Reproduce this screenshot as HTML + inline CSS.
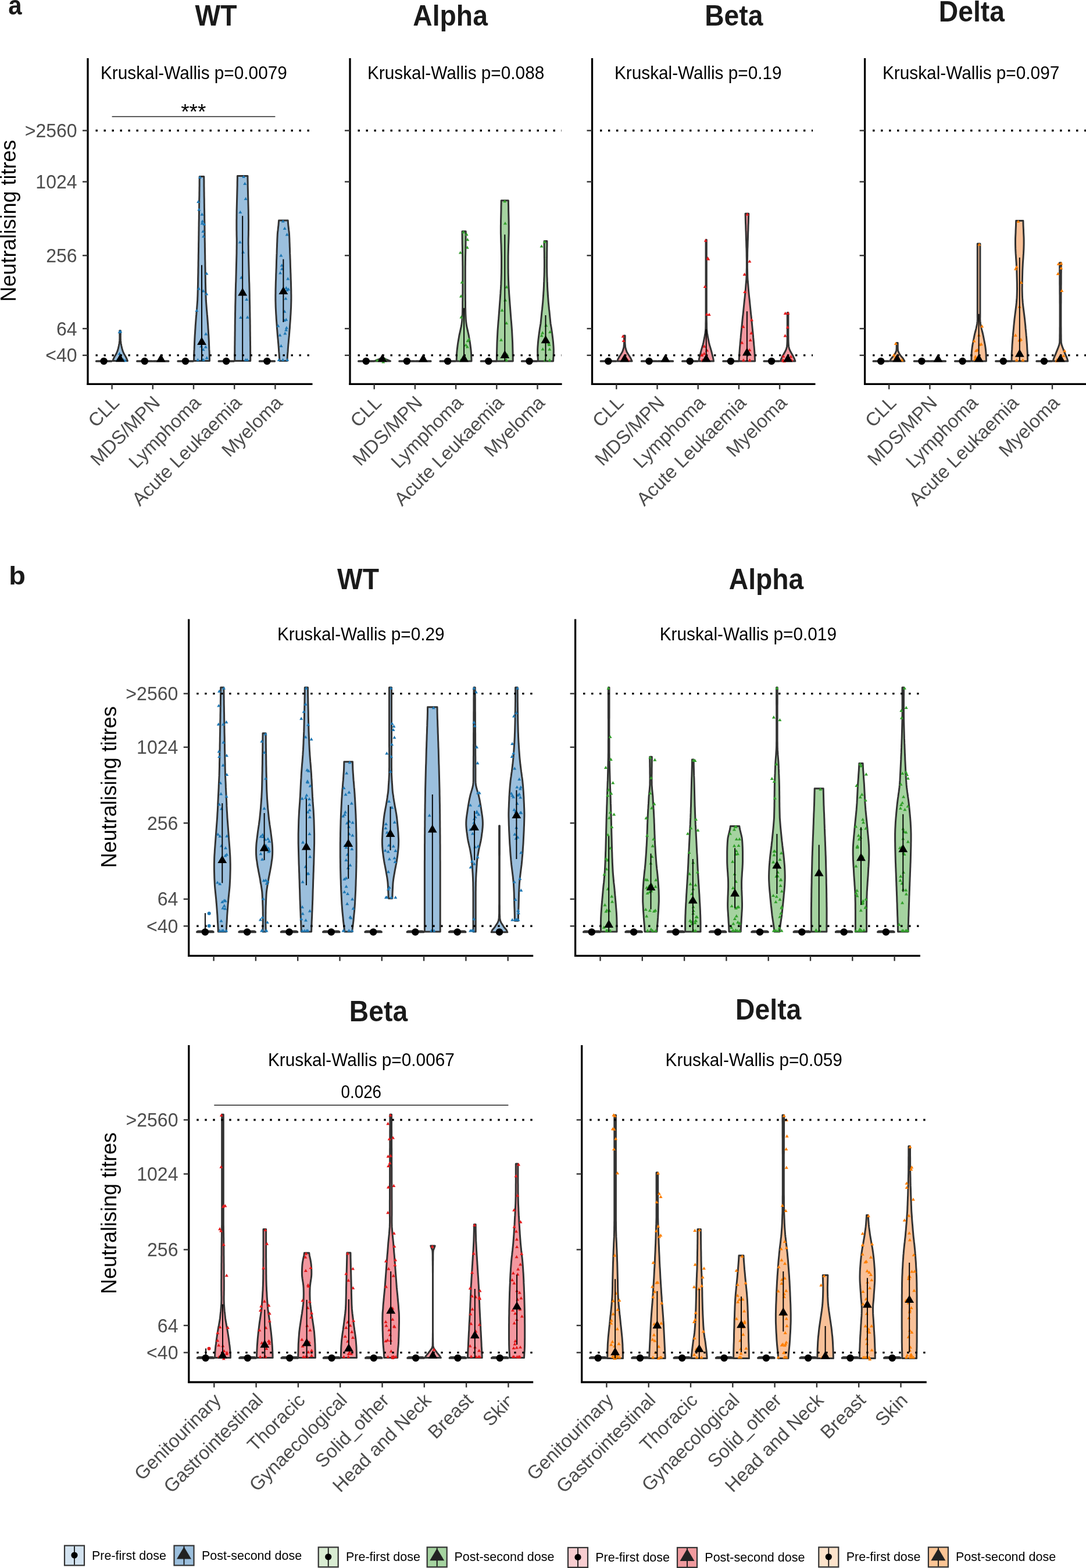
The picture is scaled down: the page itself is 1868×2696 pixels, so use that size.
<!DOCTYPE html>
<html><head><meta charset="utf-8"><title>Neutralising titres</title>
<style>html,body{margin:0;padding:0;background:#fff;}svg{display:block;}</style>
</head><body>
<svg width="1868" height="2696" viewBox="0 0 1868 2696" font-family="'Liberation Sans', Arial, Helvetica, sans-serif">
<rect width="1868" height="2696" fill="#fff"/>
<path d="M191.7 620.8 191.7 621.0 191.7 621.2 165.5 621.2 165.5 621.0 165.5 620.8Z" fill="#9bbfdd" stroke="#333333" stroke-width="3" stroke-linejoin="round"/>
<path d="M207.4 568.6 207.4 572.9 207.3 577.2 207.3 581.6 207.5 585.9 208.0 590.2 208.8 594.5 209.8 598.9 211.0 603.2 212.8 607.5 215.4 611.9 217.7 616.2 219.4 620.5 193.8 620.5 195.5 616.2 197.8 611.9 200.4 607.5 202.2 603.2 203.4 598.9 204.4 594.5 205.2 590.2 205.7 585.9 205.9 581.6 205.9 577.2 205.8 572.9 205.8 568.6Z" fill="#9bbfdd" stroke="#333333" stroke-width="3" stroke-linejoin="round"/>
<path d="M207.2 566.9l-3 5.2h6zM212.4 615.8l-3 5.2h6zM202.0 615.8l-3 5.2h6zM205.6 567.7l-3 5.2h6zM205.6 605.0l-3 5.2h6zM215.4 617.0l-3 5.2h6z" fill="#1F78B4"/>
<polygon points="206.6,608.5 198.7,622.2 214.5,622.2" fill="#000"/>
<circle cx="178.6" cy="621.0" r="6.2" fill="#000"/>
<path d="M261.9 620.8 261.9 621.0 261.9 621.2 235.7 621.2 235.7 621.0 235.7 620.8Z" fill="#9bbfdd" stroke="#333333" stroke-width="3" stroke-linejoin="round"/>
<path d="M289.9 620.8 289.9 621.0 289.9 621.2 263.7 621.2 263.7 621.0 263.7 620.8Z" fill="#9bbfdd" stroke="#333333" stroke-width="3" stroke-linejoin="round"/>
<path d="" fill="#1F78B4"/>
<polygon points="276.8,608.5 268.9,622.2 284.7,622.2" fill="#000"/>
<circle cx="248.8" cy="621.0" r="6.2" fill="#000"/>
<path d="M332.1 620.8 332.1 621.0 332.1 621.2 305.9 621.2 305.9 621.0 305.9 620.8Z" fill="#9bbfdd" stroke="#333333" stroke-width="3" stroke-linejoin="round"/>
<path d="M350.8 303.5 350.8 307.5 350.9 311.5 350.9 315.5 350.9 319.6 351.0 323.6 351.0 327.6 351.1 331.6 351.1 335.6 351.2 339.6 351.3 343.6 351.3 347.6 351.4 351.7 351.4 355.7 351.5 359.7 351.6 363.7 351.6 367.7 351.7 371.7 351.7 375.7 351.8 379.7 351.9 383.8 351.9 387.8 352.0 391.8 352.0 395.8 352.1 399.8 352.1 403.8 352.2 407.8 352.2 411.8 352.3 415.9 352.4 419.9 352.4 423.9 352.5 427.9 352.5 431.9 352.6 435.9 352.7 439.9 352.7 443.9 352.8 448.0 352.9 452.0 352.9 456.0 353.0 460.0 353.1 464.0 353.1 468.0 353.2 472.0 353.3 476.0 353.4 480.1 353.4 484.1 353.5 488.1 353.6 492.1 353.7 496.1 353.8 500.1 353.9 504.1 354.0 508.1 354.2 512.2 354.3 516.2 354.6 520.2 354.9 524.2 355.2 528.2 355.5 532.2 355.9 536.2 356.2 540.2 356.6 544.3 356.9 548.3 357.2 552.3 357.5 556.3 357.8 560.3 358.0 564.3 358.3 568.3 358.5 572.3 358.8 576.4 359.0 580.4 359.2 584.4 359.4 588.4 359.5 592.4 359.7 596.4 359.8 600.4 360.1 604.4 360.2 608.5 360.3 612.5 360.4 616.5 360.5 620.5 333.5 620.5 333.6 616.5 333.7 612.5 333.8 608.5 333.9 604.4 334.2 600.4 334.3 596.4 334.5 592.4 334.6 588.4 334.8 584.4 335.0 580.4 335.2 576.4 335.5 572.3 335.7 568.3 336.0 564.3 336.2 560.3 336.5 556.3 336.8 552.3 337.1 548.3 337.4 544.3 337.8 540.2 338.1 536.2 338.5 532.2 338.8 528.2 339.1 524.2 339.4 520.2 339.7 516.2 339.8 512.2 340.0 508.1 340.1 504.1 340.2 500.1 340.3 496.1 340.4 492.1 340.5 488.1 340.6 484.1 340.6 480.1 340.7 476.0 340.8 472.0 340.9 468.0 340.9 464.0 341.0 460.0 341.1 456.0 341.1 452.0 341.2 448.0 341.3 443.9 341.3 439.9 341.4 435.9 341.5 431.9 341.5 427.9 341.6 423.9 341.6 419.9 341.7 415.9 341.8 411.8 341.8 407.8 341.9 403.8 341.9 399.8 342.0 395.8 342.0 391.8 342.1 387.8 342.1 383.8 342.2 379.7 342.3 375.7 342.3 371.7 342.4 367.7 342.4 363.7 342.5 359.7 342.6 355.7 342.6 351.7 342.7 347.6 342.7 343.6 342.8 339.6 342.9 335.6 342.9 331.6 343.0 327.6 343.0 323.6 343.1 319.6 343.1 315.5 343.1 311.5 343.2 307.5 343.2 303.5Z" fill="#9bbfdd" stroke="#333333" stroke-width="3" stroke-linejoin="round"/>
<path d="M344.0 301.8l-3 5.2h6zM340.3 615.8l-3 5.2h6zM347.9 615.8l-3 5.2h6zM350.1 615.8l-3 5.2h6zM351.2 382.4l-3 5.2h6zM355.7 612.3l-3 5.2h6zM349.7 497.2l-3 5.2h6zM347.7 381.1l-3 5.2h6zM349.3 394.9l-3 5.2h6zM347.5 365.6l-3 5.2h6zM346.0 592.3l-3 5.2h6zM355.3 502.4l-3 5.2h6zM341.1 343.8l-3 5.2h6zM350.1 403.2l-3 5.2h6zM348.2 377.4l-3 5.2h6zM338.4 530.9l-3 5.2h6zM341.9 493.3l-3 5.2h6zM349.5 598.1l-3 5.2h6zM354.2 571.2l-3 5.2h6zM353.8 593.6l-3 5.2h6zM342.3 357.3l-3 5.2h6zM355.4 467.4l-3 5.2h6z" fill="#1F78B4"/>
<line x1="347.0" y1="455.8" x2="347.0" y2="620.5" stroke="#000" stroke-width="1.9"/>
<polygon points="347.0,579.3 339.1,593.0 354.9,593.0" fill="#000"/>
<circle cx="319.0" cy="621.0" r="6.2" fill="#000"/>
<path d="M402.3 620.8 402.3 621.0 402.3 621.2 376.1 621.2 376.1 621.0 376.1 620.8Z" fill="#9bbfdd" stroke="#333333" stroke-width="3" stroke-linejoin="round"/>
<path d="M426.0 302.4 426.0 306.4 426.1 310.5 426.2 314.5 426.2 318.5 426.3 322.5 426.4 326.6 426.5 330.6 426.6 334.6 426.7 338.6 426.8 342.7 426.9 346.7 427.0 350.7 427.1 354.7 427.2 358.8 427.3 362.8 427.3 366.8 427.4 370.9 427.4 374.9 427.5 378.9 427.5 382.9 427.5 387.0 427.5 391.0 427.5 395.0 427.4 399.0 427.4 403.1 427.3 407.1 427.2 411.1 427.2 415.1 427.2 419.2 427.3 423.2 427.3 427.2 427.4 431.3 427.4 435.3 427.5 439.3 427.6 443.3 427.7 447.4 427.8 451.4 427.9 455.4 428.0 459.4 428.1 463.5 428.2 467.5 428.3 471.5 428.4 475.5 428.5 479.6 428.6 483.6 428.8 487.6 428.9 491.6 429.0 495.7 429.1 499.7 429.2 503.7 429.3 507.8 429.3 511.8 429.4 515.8 429.5 519.8 429.6 523.9 429.7 527.9 429.7 531.9 429.8 535.9 429.9 540.0 429.9 544.0 430.0 548.0 430.1 552.0 430.1 556.1 430.2 560.1 430.2 564.1 430.2 568.2 430.3 572.2 430.3 576.2 430.4 580.2 430.4 584.3 430.5 588.3 430.5 592.3 430.6 596.3 430.6 600.4 430.6 604.4 430.7 608.4 430.7 612.4 430.7 616.5 430.7 620.5 403.7 620.5 403.7 616.5 403.7 612.4 403.7 608.4 403.8 604.4 403.8 600.4 403.8 596.3 403.9 592.3 403.9 588.3 404.0 584.3 404.0 580.2 404.1 576.2 404.1 572.2 404.2 568.2 404.2 564.1 404.2 560.1 404.3 556.1 404.3 552.0 404.4 548.0 404.5 544.0 404.5 540.0 404.6 535.9 404.7 531.9 404.7 527.9 404.8 523.9 404.9 519.8 405.0 515.8 405.1 511.8 405.1 507.8 405.2 503.7 405.3 499.7 405.4 495.7 405.5 491.6 405.6 487.6 405.8 483.6 405.9 479.6 406.0 475.5 406.1 471.5 406.2 467.5 406.3 463.5 406.4 459.4 406.5 455.4 406.6 451.4 406.7 447.4 406.8 443.3 406.9 439.3 407.0 435.3 407.0 431.3 407.1 427.2 407.1 423.2 407.2 419.2 407.2 415.1 407.2 411.1 407.1 407.1 407.0 403.1 407.0 399.0 406.9 395.0 406.9 391.0 406.9 387.0 406.9 382.9 406.9 378.9 407.0 374.9 407.0 370.9 407.1 366.8 407.1 362.8 407.2 358.8 407.3 354.7 407.4 350.7 407.5 346.7 407.6 342.7 407.7 338.6 407.8 334.6 407.9 330.6 408.0 326.6 408.1 322.5 408.2 318.5 408.2 314.5 408.3 310.5 408.4 306.4 408.4 302.4Z" fill="#9bbfdd" stroke="#333333" stroke-width="3" stroke-linejoin="round"/>
<path d="M419.1 300.7l-3 5.2h6zM422.5 615.8l-3 5.2h6zM425.2 615.8l-3 5.2h6zM421.2 312.7l-3 5.2h6zM424.2 511.8l-3 5.2h6zM414.0 542.9l-3 5.2h6zM415.1 474.2l-3 5.2h6zM413.3 361.8l-3 5.2h6zM425.7 542.6l-3 5.2h6zM422.6 338.8l-3 5.2h6zM412.8 413.4l-3 5.2h6zM418.1 430.6l-3 5.2h6z" fill="#1F78B4"/>
<line x1="417.2" y1="371.2" x2="417.2" y2="620.5" stroke="#000" stroke-width="1.9"/>
<polygon points="417.2,494.7 409.3,508.4 425.1,508.4" fill="#000"/>
<circle cx="389.2" cy="621.0" r="6.2" fill="#000"/>
<path d="M472.5 620.8 472.5 621.0 472.5 621.2 446.3 621.2 446.3 621.0 446.3 620.8Z" fill="#9bbfdd" stroke="#333333" stroke-width="3" stroke-linejoin="round"/>
<path d="M495.2 379.1 495.5 383.1 495.8 387.1 496.3 391.2 496.7 395.2 497.2 399.2 497.5 403.2 497.7 407.3 497.9 411.3 498.0 415.3 498.2 419.3 498.3 423.4 498.5 427.4 498.6 431.4 498.7 435.4 498.9 439.5 499.0 443.5 499.2 447.5 499.3 451.5 499.4 455.5 499.5 459.6 499.7 463.6 499.8 467.6 500.0 471.6 500.1 475.7 500.2 479.7 500.4 483.7 500.5 487.7 500.6 491.8 500.7 495.8 500.8 499.8 500.8 503.8 500.9 507.8 500.9 511.9 500.9 515.9 500.8 519.9 500.7 523.9 500.6 528.0 500.4 532.0 500.2 536.0 500.0 540.0 499.7 544.1 499.5 548.1 499.2 552.1 498.9 556.1 498.6 560.1 498.4 564.2 498.0 568.2 497.7 572.2 497.4 576.2 497.0 580.3 496.6 584.3 496.3 588.3 495.9 592.3 495.6 596.4 495.3 600.4 495.1 604.4 494.7 608.4 494.4 612.5 494.2 616.5 494.1 620.5 480.7 620.5 480.6 616.5 480.4 612.5 480.1 608.4 479.7 604.4 479.5 600.4 479.2 596.4 478.9 592.3 478.5 588.3 478.2 584.3 477.8 580.3 477.4 576.2 477.1 572.2 476.8 568.2 476.4 564.2 476.2 560.1 475.9 556.1 475.6 552.1 475.3 548.1 475.1 544.1 474.8 540.0 474.6 536.0 474.4 532.0 474.2 528.0 474.1 523.9 474.0 519.9 473.9 515.9 473.9 511.9 473.9 507.8 474.0 503.8 474.0 499.8 474.1 495.8 474.2 491.8 474.3 487.7 474.4 483.7 474.6 479.7 474.7 475.7 474.8 471.6 475.0 467.6 475.1 463.6 475.3 459.6 475.4 455.5 475.5 451.5 475.6 447.5 475.8 443.5 475.9 439.5 476.1 435.4 476.2 431.4 476.3 427.4 476.5 423.4 476.6 419.3 476.8 415.3 476.9 411.3 477.1 407.3 477.3 403.2 477.6 399.2 478.1 395.2 478.5 391.2 479.0 387.1 479.3 383.1 479.6 379.1Z" fill="#9bbfdd" stroke="#333333" stroke-width="3" stroke-linejoin="round"/>
<path d="M486.8 377.4l-3 5.2h6zM494.2 615.8l-3 5.2h6zM479.7 615.8l-3 5.2h6zM486.6 615.8l-3 5.2h6zM492.2 546.6l-3 5.2h6zM495.2 476.3l-3 5.2h6zM493.7 400.3l-3 5.2h6zM481.5 573.3l-3 5.2h6zM491.5 510.4l-3 5.2h6zM496.1 494.2l-3 5.2h6zM492.3 492.1l-3 5.2h6zM492.9 560.5l-3 5.2h6zM483.5 591.8l-3 5.2h6zM478.4 557.3l-3 5.2h6zM492.1 564.3l-3 5.2h6zM489.4 532.5l-3 5.2h6zM485.0 459.3l-3 5.2h6zM490.3 570.3l-3 5.2h6zM489.0 547.7l-3 5.2h6zM493.5 495.9l-3 5.2h6zM482.1 466.3l-3 5.2h6zM483.4 436.2l-3 5.2h6zM484.7 453.3l-3 5.2h6zM489.7 389.8l-3 5.2h6z" fill="#1F78B4"/>
<line x1="487.4" y1="445.6" x2="487.4" y2="553.9" stroke="#000" stroke-width="1.9"/>
<polygon points="487.4,492.4 479.5,506.1 495.3,506.1" fill="#000"/>
<circle cx="459.4" cy="621.0" r="6.2" fill="#000"/>
<line x1="164.5" y1="224.5" x2="534.0" y2="224.5" stroke="#000" stroke-width="3.4" stroke-dasharray="3.4,10.6" stroke-dashoffset="0.0"/>
<line x1="164.5" y1="610.9" x2="534.0" y2="610.9" stroke="#000" stroke-width="3.4" stroke-dasharray="3.4,10.6" stroke-dashoffset="0.0"/>
<line x1="151.0" y1="100.0" x2="151.0" y2="661.9" stroke="#000" stroke-width="3.3"/>
<line x1="149.4" y1="660.3" x2="537.5" y2="660.3" stroke="#000" stroke-width="3.3"/>
<line x1="142.0" y1="224.5" x2="151.0" y2="224.5" stroke="#333" stroke-width="2.4"/>
<line x1="142.0" y1="312.5" x2="151.0" y2="312.5" stroke="#333" stroke-width="2.4"/>
<line x1="142.0" y1="439.3" x2="151.0" y2="439.3" stroke="#333" stroke-width="2.4"/>
<line x1="142.0" y1="565.0" x2="151.0" y2="565.0" stroke="#333" stroke-width="2.4"/>
<line x1="142.0" y1="610.9" x2="151.0" y2="610.9" stroke="#333" stroke-width="2.4"/>
<line x1="192.6" y1="660.3" x2="192.6" y2="669.3" stroke="#333" stroke-width="2.4"/>
<line x1="262.8" y1="660.3" x2="262.8" y2="669.3" stroke="#333" stroke-width="2.4"/>
<line x1="333.0" y1="660.3" x2="333.0" y2="669.3" stroke="#333" stroke-width="2.4"/>
<line x1="403.2" y1="660.3" x2="403.2" y2="669.3" stroke="#333" stroke-width="2.4"/>
<line x1="473.4" y1="660.3" x2="473.4" y2="669.3" stroke="#333" stroke-width="2.4"/>
<text transform="translate(132.7,236.0) scale(0.990,1.000)" font-size="32.4" fill="#4d4d4d" text-anchor="end" font-weight="normal" >&gt;2560</text>
<text transform="translate(132.7,324.0) scale(0.990,1.000)" font-size="32.4" fill="#4d4d4d" text-anchor="end" font-weight="normal" >1024</text>
<text transform="translate(132.7,450.8) scale(0.990,1.000)" font-size="32.4" fill="#4d4d4d" text-anchor="end" font-weight="normal" >256</text>
<text transform="translate(132.7,576.5) scale(0.990,1.000)" font-size="32.4" fill="#4d4d4d" text-anchor="end" font-weight="normal" >64</text>
<text transform="translate(132.7,622.4) scale(0.990,1.000)" font-size="32.4" fill="#4d4d4d" text-anchor="end" font-weight="normal" >&lt;40</text>
<text transform="translate(206.9,694.5) rotate(-45)" font-size="32.4" fill="#4d4d4d" text-anchor="end">CLL</text>
<text transform="translate(277.1,694.5) rotate(-45)" font-size="32.4" fill="#4d4d4d" text-anchor="end">MDS/MPN</text>
<text transform="translate(347.3,694.5) rotate(-45)" font-size="32.4" fill="#4d4d4d" text-anchor="end">Lymphoma</text>
<text transform="translate(417.5,694.5) rotate(-45)" font-size="32.4" fill="#4d4d4d" text-anchor="end">Acute Leukaemia</text>
<text transform="translate(487.7,694.5) rotate(-45)" font-size="32.4" fill="#4d4d4d" text-anchor="end">Myeloma</text>
<text transform="translate(173.0,135.8) scale(1.000,1.060)" font-size="29.8" fill="#000" text-anchor="start" font-weight="normal" >Kruskal-Wallis p=0.0079</text>
<text transform="translate(371.5,44.0) scale(0.985,1.055)" font-size="47.0" fill="#1a1a1a" text-anchor="middle" font-weight="bold" >WT</text>
<path d="M642.8 620.8 642.8 621.0 642.8 621.2 616.6 621.2 616.6 621.0 616.6 620.8Z" fill="#a5d3a0" stroke="#333333" stroke-width="3" stroke-linejoin="round"/>
<path d="M660.5 616.0 665.5 618.5 671.5 621.0 643.9 621.0 649.9 618.5 654.9 616.0Z" fill="#a5d3a0" stroke="#333333" stroke-width="3" stroke-linejoin="round"/>
<path d="M660.5 614.3l-3 5.2h6zM656.6 616.3l-3 5.2h6zM648.8 616.3l-3 5.2h6zM659.2 619.3l-3 5.2h6zM662.5 615.1l-3 5.2h6z" fill="#33A02C"/>
<polygon points="657.7,608.5 649.8,622.2 665.6,622.2" fill="#000"/>
<circle cx="629.7" cy="621.0" r="6.2" fill="#000"/>
<path d="M713.0 620.8 713.0 621.0 713.0 621.2 686.8 621.2 686.8 621.0 686.8 620.8Z" fill="#a5d3a0" stroke="#333333" stroke-width="3" stroke-linejoin="round"/>
<path d="M741.0 620.8 741.0 621.0 741.0 621.2 714.8 621.2 714.8 621.0 714.8 620.8Z" fill="#a5d3a0" stroke="#333333" stroke-width="3" stroke-linejoin="round"/>
<path d="" fill="#33A02C"/>
<polygon points="727.9,608.5 720.0,622.2 735.8,622.2" fill="#000"/>
<circle cx="699.9" cy="621.0" r="6.2" fill="#000"/>
<path d="M783.2 620.8 783.2 621.0 783.2 621.2 757.0 621.2 757.0 621.0 757.0 620.8Z" fill="#a5d3a0" stroke="#333333" stroke-width="3" stroke-linejoin="round"/>
<path d="M801.2 397.7 801.2 401.8 801.1 405.8 801.1 409.9 801.0 413.9 801.0 418.0 800.9 422.1 800.8 426.1 800.8 430.2 800.7 434.2 800.6 438.3 800.5 442.4 800.5 446.4 800.4 450.5 800.4 454.5 800.3 458.6 800.3 462.7 800.3 466.7 800.3 470.8 800.3 474.8 800.3 478.9 800.3 483.0 800.3 487.0 800.3 491.1 800.3 495.1 800.3 499.2 800.3 503.3 800.4 507.3 800.4 511.4 800.4 515.4 800.5 519.5 800.5 523.6 800.5 527.6 800.6 531.7 800.7 535.7 800.8 539.8 801.0 543.9 801.2 547.9 801.5 552.0 802.0 556.0 802.6 560.1 803.5 564.2 804.4 568.2 805.3 572.3 806.2 576.3 806.9 580.4 807.6 584.5 808.3 588.5 808.9 592.6 809.4 596.6 809.9 600.7 810.3 604.8 810.6 608.8 810.7 612.9 810.9 616.9 811.0 621.0 785.2 621.0 785.3 616.9 785.5 612.9 785.6 608.8 785.9 604.8 786.3 600.7 786.8 596.6 787.3 592.6 787.9 588.5 788.6 584.5 789.3 580.4 790.0 576.3 790.9 572.3 791.8 568.2 792.7 564.2 793.6 560.1 794.2 556.0 794.7 552.0 795.0 547.9 795.2 543.9 795.4 539.8 795.5 535.7 795.6 531.7 795.7 527.6 795.7 523.6 795.7 519.5 795.8 515.4 795.8 511.4 795.8 507.3 795.9 503.3 795.9 499.2 795.9 495.1 795.9 491.1 795.9 487.0 795.9 483.0 795.9 478.9 795.9 474.8 795.9 470.8 795.9 466.7 795.9 462.7 795.9 458.6 795.8 454.5 795.8 450.5 795.7 446.4 795.7 442.4 795.6 438.3 795.5 434.2 795.4 430.2 795.4 426.1 795.3 422.1 795.2 418.0 795.2 413.9 795.1 409.9 795.1 405.8 795.0 401.8 795.0 397.7Z" fill="#a5d3a0" stroke="#333333" stroke-width="3" stroke-linejoin="round"/>
<path d="M797.1 396.0l-3 5.2h6zM792.5 616.3l-3 5.2h6zM799.5 616.3l-3 5.2h6zM804.5 583.1l-3 5.2h6zM793.0 506.3l-3 5.2h6zM791.9 431.4l-3 5.2h6zM802.6 400.0l-3 5.2h6zM803.7 422.5l-3 5.2h6zM801.3 590.2l-3 5.2h6zM804.2 409.1l-3 5.2h6zM793.4 542.3l-3 5.2h6zM803.8 593.4l-3 5.2h6zM794.6 482.3l-3 5.2h6zM806.8 580.6l-3 5.2h6z" fill="#33A02C"/>
<line x1="798.1" y1="529.6" x2="798.1" y2="621.0" stroke="#000" stroke-width="1.9"/>
<polygon points="798.1,608.5 790.2,622.2 806.0,622.2" fill="#000"/>
<circle cx="770.1" cy="621.0" r="6.2" fill="#000"/>
<path d="M853.4 620.8 853.4 621.0 853.4 621.2 827.2 621.2 827.2 621.0 827.2 620.8Z" fill="#a5d3a0" stroke="#333333" stroke-width="3" stroke-linejoin="round"/>
<path d="M874.4 344.7 874.4 348.7 874.5 352.7 874.6 356.7 874.6 360.7 874.7 364.7 874.8 368.7 874.9 372.7 875.0 376.7 875.1 380.7 875.1 384.7 875.2 388.7 875.2 392.8 875.2 396.8 875.2 400.8 875.1 404.8 875.0 408.8 874.9 412.8 874.8 416.8 874.6 420.8 874.5 424.8 874.4 428.8 874.3 432.8 874.2 436.8 874.1 440.8 874.1 444.8 874.1 448.8 874.1 452.8 874.1 456.8 874.1 460.8 874.2 464.8 874.2 468.8 874.3 472.8 874.4 476.8 874.5 480.8 874.7 484.9 874.8 488.9 875.0 492.9 875.2 496.9 875.5 500.9 875.7 504.9 876.0 508.9 876.3 512.9 876.6 516.9 876.9 520.9 877.2 524.9 877.5 528.9 877.8 532.9 878.1 536.9 878.4 540.9 878.7 544.9 879.0 548.9 879.4 552.9 879.7 556.9 880.0 560.9 880.3 564.9 880.6 568.9 880.8 572.9 881.0 577.0 881.2 581.0 881.4 585.0 881.6 589.0 881.7 593.0 881.8 597.0 881.9 601.0 882.0 605.0 882.1 609.0 882.2 613.0 882.2 617.0 882.3 621.0 854.3 621.0 854.4 617.0 854.4 613.0 854.5 609.0 854.6 605.0 854.7 601.0 854.8 597.0 854.9 593.0 855.0 589.0 855.2 585.0 855.4 581.0 855.6 577.0 855.8 572.9 856.0 568.9 856.3 564.9 856.6 560.9 856.9 556.9 857.2 552.9 857.6 548.9 857.9 544.9 858.2 540.9 858.5 536.9 858.8 532.9 859.1 528.9 859.4 524.9 859.7 520.9 860.0 516.9 860.3 512.9 860.6 508.9 860.9 504.9 861.1 500.9 861.4 496.9 861.6 492.9 861.8 488.9 861.9 484.9 862.1 480.8 862.2 476.8 862.3 472.8 862.4 468.8 862.4 464.8 862.5 460.8 862.5 456.8 862.5 452.8 862.5 448.8 862.5 444.8 862.5 440.8 862.4 436.8 862.3 432.8 862.2 428.8 862.1 424.8 862.0 420.8 861.8 416.8 861.7 412.8 861.6 408.8 861.5 404.8 861.4 400.8 861.4 396.8 861.4 392.8 861.4 388.7 861.5 384.7 861.5 380.7 861.6 376.7 861.7 372.7 861.8 368.7 861.9 364.7 862.0 360.7 862.0 356.7 862.1 352.7 862.2 348.7 862.2 344.7Z" fill="#a5d3a0" stroke="#333333" stroke-width="3" stroke-linejoin="round"/>
<path d="M868.2 343.0l-3 5.2h6zM870.4 616.3l-3 5.2h6zM871.1 616.3l-3 5.2h6zM868.9 381.1l-3 5.2h6zM862.0 581.6l-3 5.2h6zM871.1 552.5l-3 5.2h6zM872.5 607.2l-3 5.2h6zM869.0 513.0l-3 5.2h6zM863.6 530.6l-3 5.2h6zM871.4 490.5l-3 5.2h6z" fill="#33A02C"/>
<line x1="868.3" y1="403.3" x2="868.3" y2="621.0" stroke="#000" stroke-width="1.9"/>
<polygon points="868.3,602.3 860.4,616.0 876.2,616.0" fill="#000"/>
<circle cx="840.3" cy="621.0" r="6.2" fill="#000"/>
<path d="M923.6 620.8 923.6 621.0 923.6 621.2 897.4 621.2 897.4 621.0 897.4 620.8Z" fill="#a5d3a0" stroke="#333333" stroke-width="3" stroke-linejoin="round"/>
<path d="M940.9 414.6 940.9 418.6 940.9 422.7 940.8 426.7 940.8 430.8 940.7 434.8 940.7 438.9 940.7 442.9 940.6 447.0 940.6 451.0 940.6 455.1 940.6 459.1 940.7 463.2 940.7 467.2 940.8 471.3 940.9 475.3 941.1 479.4 941.2 483.4 941.4 487.4 941.5 491.5 941.7 495.5 941.9 499.6 942.2 503.6 942.4 507.7 942.7 511.7 943.0 515.8 943.3 519.8 943.7 523.9 944.1 527.9 944.5 532.0 945.0 536.0 945.4 540.1 945.8 544.1 946.2 548.2 946.6 552.2 947.0 556.2 947.7 560.3 948.4 564.3 949.0 568.4 949.6 572.4 950.1 576.5 950.6 580.5 951.1 584.6 951.5 588.6 951.8 592.7 952.1 596.7 952.3 600.8 952.3 604.8 952.2 608.9 952.0 612.9 951.7 617.0 951.6 621.0 925.4 621.0 925.3 617.0 925.0 612.9 924.8 608.9 924.7 604.8 924.7 600.8 924.9 596.7 925.2 592.7 925.5 588.6 925.9 584.6 926.4 580.5 926.9 576.5 927.4 572.4 928.0 568.4 928.6 564.3 929.3 560.3 930.0 556.2 930.4 552.2 930.8 548.2 931.2 544.1 931.6 540.1 932.0 536.0 932.5 532.0 932.9 527.9 933.3 523.9 933.7 519.8 934.0 515.8 934.3 511.7 934.6 507.7 934.8 503.6 935.1 499.6 935.3 495.5 935.5 491.5 935.6 487.4 935.8 483.4 935.9 479.4 936.1 475.3 936.2 471.3 936.3 467.2 936.3 463.2 936.4 459.1 936.4 455.1 936.4 451.0 936.4 447.0 936.3 442.9 936.3 438.9 936.3 434.8 936.2 430.8 936.2 426.7 936.1 422.7 936.1 418.6 936.1 414.6Z" fill="#a5d3a0" stroke="#333333" stroke-width="3" stroke-linejoin="round"/>
<path d="M936.9 412.9l-3 5.2h6zM937.7 616.3l-3 5.2h6zM945.4 616.3l-3 5.2h6zM945.3 597.5l-3 5.2h6zM939.3 556.6l-3 5.2h6zM938.7 578.6l-3 5.2h6zM933.6 597.3l-3 5.2h6zM931.7 574.0l-3 5.2h6zM946.1 567.7l-3 5.2h6zM933.2 569.2l-3 5.2h6zM931.5 420.4l-3 5.2h6zM944.6 589.8l-3 5.2h6zM944.0 587.6l-3 5.2h6z" fill="#33A02C"/>
<line x1="938.5" y1="542.0" x2="938.5" y2="621.0" stroke="#000" stroke-width="1.9"/>
<polygon points="938.5,576.5 930.6,590.2 946.4,590.2" fill="#000"/>
<circle cx="910.5" cy="621.0" r="6.2" fill="#000"/>
<line x1="615.5" y1="224.5" x2="966.0" y2="224.5" stroke="#000" stroke-width="3.4" stroke-dasharray="3.4,10.6" stroke-dashoffset="0.0"/>
<line x1="615.5" y1="610.9" x2="966.0" y2="610.9" stroke="#000" stroke-width="3.4" stroke-dasharray="3.4,10.6" stroke-dashoffset="0.0"/>
<line x1="602.0" y1="100.0" x2="602.0" y2="661.9" stroke="#000" stroke-width="3.3"/>
<line x1="600.4" y1="660.3" x2="966.6" y2="660.3" stroke="#000" stroke-width="3.3"/>
<line x1="593.0" y1="224.5" x2="602.0" y2="224.5" stroke="#333" stroke-width="2.4"/>
<line x1="593.0" y1="312.5" x2="602.0" y2="312.5" stroke="#333" stroke-width="2.4"/>
<line x1="593.0" y1="439.3" x2="602.0" y2="439.3" stroke="#333" stroke-width="2.4"/>
<line x1="593.0" y1="565.0" x2="602.0" y2="565.0" stroke="#333" stroke-width="2.4"/>
<line x1="593.0" y1="610.9" x2="602.0" y2="610.9" stroke="#333" stroke-width="2.4"/>
<line x1="643.7" y1="660.3" x2="643.7" y2="669.3" stroke="#333" stroke-width="2.4"/>
<line x1="713.9" y1="660.3" x2="713.9" y2="669.3" stroke="#333" stroke-width="2.4"/>
<line x1="784.1" y1="660.3" x2="784.1" y2="669.3" stroke="#333" stroke-width="2.4"/>
<line x1="854.3" y1="660.3" x2="854.3" y2="669.3" stroke="#333" stroke-width="2.4"/>
<line x1="924.5" y1="660.3" x2="924.5" y2="669.3" stroke="#333" stroke-width="2.4"/>
<text transform="translate(658.0,694.5) rotate(-45)" font-size="32.4" fill="#4d4d4d" text-anchor="end">CLL</text>
<text transform="translate(728.2,694.5) rotate(-45)" font-size="32.4" fill="#4d4d4d" text-anchor="end">MDS/MPN</text>
<text transform="translate(798.4,694.5) rotate(-45)" font-size="32.4" fill="#4d4d4d" text-anchor="end">Lymphoma</text>
<text transform="translate(868.6,694.5) rotate(-45)" font-size="32.4" fill="#4d4d4d" text-anchor="end">Acute Leukaemia</text>
<text transform="translate(938.8,694.5) rotate(-45)" font-size="32.4" fill="#4d4d4d" text-anchor="end">Myeloma</text>
<text transform="translate(632.0,135.8) scale(1.000,1.060)" font-size="29.8" fill="#000" text-anchor="start" font-weight="normal" >Kruskal-Wallis p=0.088</text>
<text transform="translate(774.6,44.0) scale(0.985,1.055)" font-size="47.0" fill="#1a1a1a" text-anchor="middle" font-weight="bold" >Alpha</text>
<path d="M1059.4 620.8 1059.4 621.0 1059.4 621.2 1033.2 621.2 1033.2 621.0 1033.2 620.8Z" fill="#f3979f" stroke="#333333" stroke-width="3" stroke-linejoin="round"/>
<path d="M1075.1 577.0 1075.1 581.0 1075.0 585.0 1075.0 589.0 1075.2 593.0 1075.7 597.0 1076.7 601.0 1078.1 605.0 1080.5 609.0 1083.1 613.0 1085.4 617.0 1087.1 621.0 1061.5 621.0 1063.2 617.0 1065.5 613.0 1068.1 609.0 1070.5 605.0 1071.9 601.0 1072.9 597.0 1073.4 593.0 1073.6 589.0 1073.6 585.0 1073.5 581.0 1073.5 577.0Z" fill="#f3979f" stroke="#333333" stroke-width="3" stroke-linejoin="round"/>
<path d="M1071.6 575.3l-3 5.2h6zM1079.8 616.3l-3 5.2h6zM1078.6 616.3l-3 5.2h6zM1071.4 613.7l-3 5.2h6zM1072.6 582.8l-3 5.2h6zM1077.2 613.0l-3 5.2h6z" fill="#E31A1C"/>
<polygon points="1074.3,608.5 1066.4,622.2 1082.2,622.2" fill="#000"/>
<circle cx="1046.3" cy="621.0" r="6.2" fill="#000"/>
<path d="M1129.6 620.8 1129.6 621.0 1129.6 621.2 1103.4 621.2 1103.4 621.0 1103.4 620.8Z" fill="#f3979f" stroke="#333333" stroke-width="3" stroke-linejoin="round"/>
<path d="M1157.6 620.8 1157.6 621.0 1157.6 621.2 1131.4 621.2 1131.4 621.0 1131.4 620.8Z" fill="#f3979f" stroke="#333333" stroke-width="3" stroke-linejoin="round"/>
<path d="" fill="#E31A1C"/>
<polygon points="1144.5,608.5 1136.6,622.2 1152.4,622.2" fill="#000"/>
<circle cx="1116.5" cy="621.0" r="6.2" fill="#000"/>
<path d="M1199.8 620.8 1199.8 621.0 1199.8 621.2 1173.6 621.2 1173.6 621.0 1173.6 620.8Z" fill="#f3979f" stroke="#333333" stroke-width="3" stroke-linejoin="round"/>
<path d="M1215.3 412.3 1215.3 416.3 1215.3 420.3 1215.3 424.3 1215.3 428.4 1215.3 432.4 1215.3 436.4 1215.3 440.4 1215.3 444.4 1215.3 448.4 1215.3 452.4 1215.3 456.4 1215.3 460.5 1215.3 464.5 1215.3 468.5 1215.3 472.5 1215.3 476.5 1215.3 480.5 1215.3 484.5 1215.3 488.6 1215.3 492.6 1215.3 496.6 1215.3 500.6 1215.3 504.6 1215.3 508.6 1215.3 512.6 1215.3 516.6 1215.3 520.7 1215.3 524.7 1215.3 528.7 1215.3 532.7 1215.3 536.7 1215.3 540.7 1215.3 544.7 1215.3 548.8 1215.4 552.8 1215.5 556.8 1215.5 560.8 1215.6 564.8 1215.9 568.8 1216.4 572.8 1217.1 576.9 1217.8 580.9 1218.6 584.9 1219.4 588.9 1220.4 592.9 1221.6 596.9 1222.8 600.9 1223.9 604.9 1224.9 609.0 1226.0 613.0 1226.9 617.0 1227.5 621.0 1201.9 621.0 1202.5 617.0 1203.4 613.0 1204.5 609.0 1205.5 604.9 1206.6 600.9 1207.8 596.9 1209.0 592.9 1210.0 588.9 1210.8 584.9 1211.6 580.9 1212.3 576.9 1213.0 572.8 1213.5 568.8 1213.8 564.8 1213.9 560.8 1213.9 556.8 1214.0 552.8 1214.1 548.8 1214.1 544.7 1214.1 540.7 1214.1 536.7 1214.1 532.7 1214.1 528.7 1214.1 524.7 1214.1 520.7 1214.1 516.6 1214.1 512.6 1214.1 508.6 1214.1 504.6 1214.1 500.6 1214.1 496.6 1214.1 492.6 1214.1 488.6 1214.1 484.5 1214.1 480.5 1214.1 476.5 1214.1 472.5 1214.1 468.5 1214.1 464.5 1214.1 460.5 1214.1 456.4 1214.1 452.4 1214.1 448.4 1214.1 444.4 1214.1 440.4 1214.1 436.4 1214.1 432.4 1214.1 428.4 1214.1 424.3 1214.1 420.3 1214.1 416.3 1214.1 412.3Z" fill="#f3979f" stroke="#333333" stroke-width="3" stroke-linejoin="round"/>
<path d="M1213.8 410.6l-3 5.2h6zM1208.5 616.3l-3 5.2h6zM1212.3 616.3l-3 5.2h6zM1211.4 592.6l-3 5.2h6zM1207.4 607.9l-3 5.2h6zM1212.6 489.9l-3 5.2h6zM1211.3 605.1l-3 5.2h6zM1219.8 537.9l-3 5.2h6zM1215.8 537.4l-3 5.2h6zM1215.9 599.3l-3 5.2h6zM1207.4 607.0l-3 5.2h6zM1214.8 616.0l-3 5.2h6zM1218.3 442.2l-3 5.2h6zM1217.5 441.1l-3 5.2h6z" fill="#E31A1C"/>
<line x1="1214.7" y1="566.0" x2="1214.7" y2="621.0" stroke="#000" stroke-width="1.9"/>
<polygon points="1214.7,608.5 1206.8,622.2 1222.6,622.2" fill="#000"/>
<circle cx="1186.7" cy="621.0" r="6.2" fill="#000"/>
<path d="M1270.0 620.8 1270.0 621.0 1270.0 621.2 1243.8 621.2 1243.8 621.0 1243.8 620.8Z" fill="#f3979f" stroke="#333333" stroke-width="3" stroke-linejoin="round"/>
<path d="M1287.7 367.2 1287.6 371.2 1287.5 375.3 1287.4 379.3 1287.3 383.3 1287.1 387.3 1287.0 391.4 1286.9 395.4 1286.7 399.4 1286.6 403.5 1286.5 407.5 1286.4 411.5 1286.2 415.5 1286.1 419.6 1286.0 423.6 1285.8 427.6 1285.7 431.7 1285.6 435.7 1285.6 439.7 1285.5 443.7 1285.4 447.8 1285.4 451.8 1285.4 455.8 1285.4 459.9 1285.5 463.9 1285.6 467.9 1285.7 471.9 1285.8 476.0 1286.0 480.0 1286.3 484.0 1286.7 488.1 1287.0 492.1 1287.3 496.1 1287.6 500.1 1288.0 504.2 1288.4 508.2 1288.8 512.2 1289.3 516.3 1289.7 520.3 1290.1 524.3 1290.5 528.3 1290.9 532.4 1291.3 536.4 1291.7 540.4 1292.2 544.5 1292.6 548.5 1293.0 552.5 1293.4 556.5 1293.8 560.6 1294.2 564.6 1294.6 568.6 1295.0 572.7 1295.4 576.7 1295.7 580.7 1296.1 584.7 1296.5 588.8 1296.8 592.8 1297.2 596.8 1297.5 600.9 1297.8 604.9 1298.1 608.9 1298.3 612.9 1298.5 617.0 1298.7 621.0 1271.1 621.0 1271.3 617.0 1271.5 612.9 1271.7 608.9 1272.0 604.9 1272.3 600.9 1272.6 596.8 1273.0 592.8 1273.3 588.8 1273.7 584.7 1274.1 580.7 1274.4 576.7 1274.8 572.7 1275.2 568.6 1275.6 564.6 1276.0 560.6 1276.4 556.5 1276.8 552.5 1277.2 548.5 1277.6 544.5 1278.1 540.4 1278.5 536.4 1278.9 532.4 1279.3 528.3 1279.7 524.3 1280.1 520.3 1280.5 516.3 1281.0 512.2 1281.4 508.2 1281.8 504.2 1282.2 500.1 1282.5 496.1 1282.8 492.1 1283.1 488.1 1283.5 484.0 1283.8 480.0 1284.0 476.0 1284.1 471.9 1284.2 467.9 1284.3 463.9 1284.4 459.9 1284.4 455.8 1284.4 451.8 1284.4 447.8 1284.3 443.7 1284.2 439.7 1284.2 435.7 1284.1 431.7 1284.0 427.6 1283.8 423.6 1283.7 419.6 1283.6 415.5 1283.4 411.5 1283.3 407.5 1283.2 403.5 1283.1 399.4 1282.9 395.4 1282.8 391.4 1282.7 387.3 1282.5 383.3 1282.4 379.3 1282.3 375.3 1282.2 371.2 1282.1 367.2Z" fill="#f3979f" stroke="#333333" stroke-width="3" stroke-linejoin="round"/>
<path d="M1285.5 365.5l-3 5.2h6zM1289.6 616.3l-3 5.2h6zM1278.8 616.3l-3 5.2h6zM1292.3 569.7l-3 5.2h6zM1278.4 558.8l-3 5.2h6zM1281.2 498.8l-3 5.2h6zM1280.6 468.8l-3 5.2h6zM1290.7 581.8l-3 5.2h6zM1289.4 598.8l-3 5.2h6zM1289.4 446.4l-3 5.2h6zM1293.0 547.1l-3 5.2h6zM1276.2 586.2l-3 5.2h6z" fill="#E31A1C"/>
<line x1="1284.9" y1="535.3" x2="1284.9" y2="621.0" stroke="#000" stroke-width="1.9"/>
<polygon points="1284.9,597.8 1277.0,611.5 1292.8,611.5" fill="#000"/>
<circle cx="1256.9" cy="621.0" r="6.2" fill="#000"/>
<path d="M1340.2 620.8 1340.2 621.0 1340.2 621.2 1314.0 621.2 1314.0 621.0 1314.0 620.8Z" fill="#f3979f" stroke="#333333" stroke-width="3" stroke-linejoin="round"/>
<path d="M1355.9 537.5 1355.9 541.7 1355.9 545.9 1355.9 550.0 1355.9 554.2 1355.9 558.4 1355.9 562.5 1355.9 566.7 1355.9 570.9 1355.9 575.1 1356.0 579.2 1356.0 583.4 1356.1 587.6 1356.3 591.8 1356.7 596.0 1357.7 600.1 1359.6 604.3 1362.0 608.5 1364.3 612.6 1366.4 616.8 1367.9 621.0 1342.3 621.0 1343.8 616.8 1345.9 612.6 1348.2 608.5 1350.6 604.3 1352.5 600.1 1353.5 596.0 1353.9 591.8 1354.1 587.6 1354.2 583.4 1354.2 579.2 1354.3 575.1 1354.3 570.9 1354.3 566.7 1354.3 562.5 1354.3 558.4 1354.3 554.2 1354.3 550.0 1354.3 545.9 1354.3 541.7 1354.3 537.5Z" fill="#f3979f" stroke="#333333" stroke-width="3" stroke-linejoin="round"/>
<path d="M1355.5 535.8l-3 5.2h6zM1361.5 616.3l-3 5.2h6zM1346.6 616.3l-3 5.2h6zM1354.8 559.5l-3 5.2h6zM1350.8 535.8l-3 5.2h6zM1360.4 610.2l-3 5.2h6zM1347.5 617.0l-3 5.2h6zM1347.4 609.5l-3 5.2h6zM1348.9 618.1l-3 5.2h6zM1350.5 574.3l-3 5.2h6zM1356.3 616.1l-3 5.2h6z" fill="#E31A1C"/>
<polygon points="1355.1,608.5 1347.2,622.2 1363.0,622.2" fill="#000"/>
<circle cx="1327.1" cy="621.0" r="6.2" fill="#000"/>
<line x1="1032.0" y1="224.5" x2="1398.0" y2="224.5" stroke="#000" stroke-width="3.4" stroke-dasharray="3.4,10.6" stroke-dashoffset="0.0"/>
<line x1="1032.0" y1="610.9" x2="1398.0" y2="610.9" stroke="#000" stroke-width="3.4" stroke-dasharray="3.4,10.6" stroke-dashoffset="0.0"/>
<line x1="1018.5" y1="100.0" x2="1018.5" y2="661.9" stroke="#000" stroke-width="3.3"/>
<line x1="1016.9" y1="660.3" x2="1402.5" y2="660.3" stroke="#000" stroke-width="3.3"/>
<line x1="1009.5" y1="224.5" x2="1018.5" y2="224.5" stroke="#333" stroke-width="2.4"/>
<line x1="1009.5" y1="312.5" x2="1018.5" y2="312.5" stroke="#333" stroke-width="2.4"/>
<line x1="1009.5" y1="439.3" x2="1018.5" y2="439.3" stroke="#333" stroke-width="2.4"/>
<line x1="1009.5" y1="565.0" x2="1018.5" y2="565.0" stroke="#333" stroke-width="2.4"/>
<line x1="1009.5" y1="610.9" x2="1018.5" y2="610.9" stroke="#333" stroke-width="2.4"/>
<line x1="1060.3" y1="660.3" x2="1060.3" y2="669.3" stroke="#333" stroke-width="2.4"/>
<line x1="1130.5" y1="660.3" x2="1130.5" y2="669.3" stroke="#333" stroke-width="2.4"/>
<line x1="1200.7" y1="660.3" x2="1200.7" y2="669.3" stroke="#333" stroke-width="2.4"/>
<line x1="1270.9" y1="660.3" x2="1270.9" y2="669.3" stroke="#333" stroke-width="2.4"/>
<line x1="1341.1" y1="660.3" x2="1341.1" y2="669.3" stroke="#333" stroke-width="2.4"/>
<text transform="translate(1074.6,694.5) rotate(-45)" font-size="32.4" fill="#4d4d4d" text-anchor="end">CLL</text>
<text transform="translate(1144.8,694.5) rotate(-45)" font-size="32.4" fill="#4d4d4d" text-anchor="end">MDS/MPN</text>
<text transform="translate(1215.0,694.5) rotate(-45)" font-size="32.4" fill="#4d4d4d" text-anchor="end">Lymphoma</text>
<text transform="translate(1285.2,694.5) rotate(-45)" font-size="32.4" fill="#4d4d4d" text-anchor="end">Acute Leukaemia</text>
<text transform="translate(1355.4,694.5) rotate(-45)" font-size="32.4" fill="#4d4d4d" text-anchor="end">Myeloma</text>
<text transform="translate(1056.9,135.8) scale(1.000,1.060)" font-size="29.8" fill="#000" text-anchor="start" font-weight="normal" >Kruskal-Wallis p=0.19</text>
<text transform="translate(1262.3,44.0) scale(0.985,1.055)" font-size="47.0" fill="#1a1a1a" text-anchor="middle" font-weight="bold" >Beta</text>
<path d="M1528.3 620.8 1528.3 621.0 1528.3 621.2 1502.1 621.2 1502.1 621.0 1502.1 620.8Z" fill="#f9c198" stroke="#333333" stroke-width="3" stroke-linejoin="round"/>
<path d="M1544.2 589.4 1544.2 593.9 1544.2 598.4 1544.5 602.9 1546.5 607.5 1549.6 612.0 1553.4 616.5 1556.0 621.0 1530.4 621.0 1533.0 616.5 1536.8 612.0 1539.9 607.5 1541.9 602.9 1542.2 598.4 1542.2 593.9 1542.2 589.4Z" fill="#f9c198" stroke="#333333" stroke-width="3" stroke-linejoin="round"/>
<path d="M1540.8 587.7l-3 5.2h6zM1551.4 616.3l-3 5.2h6zM1542.2 616.3l-3 5.2h6zM1540.2 611.6l-3 5.2h6zM1537.5 607.6l-3 5.2h6zM1539.9 614.7l-3 5.2h6z" fill="#FF7F00"/>
<polygon points="1543.2,608.5 1535.3,622.2 1551.1,622.2" fill="#000"/>
<circle cx="1515.2" cy="621.0" r="6.2" fill="#000"/>
<path d="M1598.5 620.8 1598.5 621.0 1598.5 621.2 1572.3 621.2 1572.3 621.0 1572.3 620.8Z" fill="#f9c198" stroke="#333333" stroke-width="3" stroke-linejoin="round"/>
<path d="M1626.5 620.8 1626.5 621.0 1626.5 621.2 1600.3 621.2 1600.3 621.0 1600.3 620.8Z" fill="#f9c198" stroke="#333333" stroke-width="3" stroke-linejoin="round"/>
<path d="" fill="#FF7F00"/>
<polygon points="1613.4,608.5 1605.5,622.2 1621.3,622.2" fill="#000"/>
<circle cx="1585.4" cy="621.0" r="6.2" fill="#000"/>
<path d="M1668.7 620.8 1668.7 621.0 1668.7 621.2 1642.5 621.2 1642.5 621.0 1642.5 620.8Z" fill="#f9c198" stroke="#333333" stroke-width="3" stroke-linejoin="round"/>
<path d="M1685.9 419.1 1685.9 423.1 1685.9 427.2 1685.9 431.2 1685.9 435.3 1685.9 439.3 1685.9 443.3 1685.9 447.4 1685.9 451.4 1685.9 455.4 1685.9 459.5 1685.9 463.5 1685.9 467.6 1685.9 471.6 1685.9 475.6 1685.9 479.7 1685.9 483.7 1685.9 487.7 1685.9 491.8 1685.9 495.8 1685.9 499.9 1685.9 503.9 1685.9 507.9 1685.9 512.0 1685.9 516.0 1685.9 520.0 1685.9 524.1 1685.9 528.1 1685.9 532.2 1685.9 536.2 1685.9 540.2 1685.9 544.3 1685.8 548.3 1686.0 552.4 1686.5 556.4 1687.2 560.4 1688.1 564.5 1689.1 568.5 1690.2 572.5 1691.1 576.6 1691.9 580.6 1692.7 584.7 1693.5 588.7 1694.3 592.7 1694.9 596.8 1695.4 600.8 1695.8 604.8 1696.1 608.9 1696.2 612.9 1696.3 617.0 1696.4 621.0 1670.8 621.0 1670.9 617.0 1671.0 612.9 1671.1 608.9 1671.4 604.8 1671.8 600.8 1672.3 596.8 1672.9 592.7 1673.7 588.7 1674.5 584.7 1675.3 580.6 1676.1 576.6 1677.0 572.5 1678.1 568.5 1679.1 564.5 1680.0 560.4 1680.7 556.4 1681.2 552.4 1681.4 548.3 1681.3 544.3 1681.3 540.2 1681.3 536.2 1681.3 532.2 1681.3 528.1 1681.3 524.1 1681.3 520.0 1681.3 516.0 1681.3 512.0 1681.3 507.9 1681.3 503.9 1681.3 499.9 1681.3 495.8 1681.3 491.8 1681.3 487.7 1681.3 483.7 1681.3 479.7 1681.3 475.6 1681.3 471.6 1681.3 467.6 1681.3 463.5 1681.3 459.5 1681.3 455.4 1681.3 451.4 1681.3 447.4 1681.3 443.3 1681.3 439.3 1681.3 435.3 1681.3 431.2 1681.3 427.2 1681.3 423.1 1681.3 419.1Z" fill="#f9c198" stroke="#333333" stroke-width="3" stroke-linejoin="round"/>
<path d="M1684.4 417.4l-3 5.2h6zM1680.5 616.3l-3 5.2h6zM1680.9 616.3l-3 5.2h6zM1677.8 610.0l-3 5.2h6zM1681.2 598.7l-3 5.2h6zM1689.2 558.0l-3 5.2h6zM1683.8 573.3l-3 5.2h6zM1678.9 600.0l-3 5.2h6zM1685.1 589.7l-3 5.2h6zM1675.6 583.2l-3 5.2h6zM1677.9 613.1l-3 5.2h6zM1687.8 588.7l-3 5.2h6zM1676.8 615.0l-3 5.2h6z" fill="#FF7F00"/>
<line x1="1683.6" y1="539.8" x2="1683.6" y2="621.0" stroke="#000" stroke-width="1.9"/>
<polygon points="1683.6,608.5 1675.7,622.2 1691.5,622.2" fill="#000"/>
<circle cx="1655.6" cy="621.0" r="6.2" fill="#000"/>
<path d="M1738.9 620.8 1738.9 621.0 1738.9 621.2 1712.7 621.2 1712.7 621.0 1712.7 620.8Z" fill="#f9c198" stroke="#333333" stroke-width="3" stroke-linejoin="round"/>
<path d="M1759.9 379.6 1760.0 383.6 1760.1 387.6 1760.3 391.7 1760.5 395.7 1760.6 399.7 1760.8 403.7 1761.0 407.8 1761.1 411.8 1761.1 415.8 1761.1 419.8 1761.0 423.9 1760.9 427.9 1760.7 431.9 1760.5 435.9 1760.2 440.0 1760.0 444.0 1759.7 448.0 1759.4 452.0 1759.2 456.0 1759.0 460.1 1758.8 464.1 1758.7 468.1 1758.6 472.1 1758.5 476.2 1758.4 480.2 1758.3 484.2 1758.2 488.2 1758.2 492.3 1758.1 496.3 1758.2 500.3 1758.3 504.3 1758.4 508.3 1758.6 512.4 1758.9 516.4 1759.2 520.4 1759.6 524.4 1760.1 528.5 1760.6 532.5 1761.1 536.5 1761.6 540.5 1762.1 544.6 1762.6 548.6 1763.0 552.6 1763.4 556.6 1763.8 560.6 1764.1 564.7 1764.5 568.7 1764.9 572.7 1765.2 576.7 1765.6 580.8 1765.9 584.8 1766.2 588.8 1766.5 592.8 1766.7 596.9 1766.9 600.9 1767.2 604.9 1767.4 608.9 1767.4 613.0 1767.5 617.0 1767.5 621.0 1740.1 621.0 1740.1 617.0 1740.2 613.0 1740.2 608.9 1740.4 604.9 1740.7 600.9 1740.9 596.9 1741.1 592.8 1741.4 588.8 1741.7 584.8 1742.0 580.8 1742.4 576.7 1742.7 572.7 1743.1 568.7 1743.5 564.7 1743.8 560.6 1744.2 556.6 1744.6 552.6 1745.0 548.6 1745.5 544.6 1746.0 540.5 1746.5 536.5 1747.0 532.5 1747.5 528.5 1748.0 524.4 1748.4 520.4 1748.7 516.4 1749.0 512.4 1749.2 508.3 1749.3 504.3 1749.4 500.3 1749.5 496.3 1749.4 492.3 1749.4 488.2 1749.3 484.2 1749.2 480.2 1749.1 476.2 1749.0 472.1 1748.9 468.1 1748.8 464.1 1748.6 460.1 1748.4 456.0 1748.2 452.0 1747.9 448.0 1747.6 444.0 1747.4 440.0 1747.1 435.9 1746.9 431.9 1746.7 427.9 1746.6 423.9 1746.5 419.8 1746.5 415.8 1746.5 411.8 1746.6 407.8 1746.8 403.7 1747.0 399.7 1747.1 395.7 1747.3 391.7 1747.5 387.6 1747.6 383.6 1747.7 379.6Z" fill="#f9c198" stroke="#333333" stroke-width="3" stroke-linejoin="round"/>
<path d="M1751.4 377.9l-3 5.2h6zM1748.7 616.3l-3 5.2h6zM1759.4 616.3l-3 5.2h6zM1753.6 524.2l-3 5.2h6zM1753.4 581.8l-3 5.2h6zM1747.0 459.2l-3 5.2h6zM1746.8 573.6l-3 5.2h6zM1748.6 456.1l-3 5.2h6zM1756.6 482.7l-3 5.2h6zM1754.1 582.2l-3 5.2h6zM1756.0 580.7l-3 5.2h6z" fill="#FF7F00"/>
<line x1="1753.8" y1="442.8" x2="1753.8" y2="621.0" stroke="#000" stroke-width="1.9"/>
<polygon points="1753.8,600.1 1745.9,613.8 1761.7,613.8" fill="#000"/>
<circle cx="1725.8" cy="621.0" r="6.2" fill="#000"/>
<path d="M1809.1 620.8 1809.1 621.0 1809.1 621.2 1782.9 621.2 1782.9 621.0 1782.9 620.8Z" fill="#f9c198" stroke="#333333" stroke-width="3" stroke-linejoin="round"/>
<path d="M1825.3 451.8 1825.3 455.8 1825.3 459.9 1825.3 463.9 1825.3 467.9 1825.2 471.9 1825.2 476.0 1825.2 480.0 1825.2 484.0 1825.2 488.1 1825.1 492.1 1825.1 496.1 1825.1 500.1 1825.1 504.2 1825.0 508.2 1825.0 512.2 1825.0 516.3 1825.0 520.3 1824.9 524.3 1824.9 528.3 1824.9 532.4 1824.9 536.4 1824.9 540.4 1824.9 544.5 1824.9 548.5 1824.9 552.5 1824.9 556.5 1824.9 560.6 1825.0 564.6 1825.0 568.6 1825.0 572.7 1825.1 576.7 1825.1 580.7 1825.2 584.7 1825.3 588.8 1826.1 592.8 1827.5 596.8 1829.1 600.9 1830.7 604.9 1832.3 608.9 1834.1 612.9 1835.7 617.0 1836.8 621.0 1811.2 621.0 1812.3 617.0 1813.9 612.9 1815.7 608.9 1817.3 604.9 1818.9 600.9 1820.5 596.8 1821.9 592.8 1822.7 588.8 1822.8 584.7 1822.9 580.7 1822.9 576.7 1823.0 572.7 1823.0 568.6 1823.0 564.6 1823.1 560.6 1823.1 556.5 1823.1 552.5 1823.1 548.5 1823.1 544.5 1823.1 540.4 1823.1 536.4 1823.1 532.4 1823.1 528.3 1823.1 524.3 1823.0 520.3 1823.0 516.3 1823.0 512.2 1823.0 508.2 1822.9 504.2 1822.9 500.1 1822.9 496.1 1822.9 492.1 1822.8 488.1 1822.8 484.0 1822.8 480.0 1822.8 476.0 1822.8 471.9 1822.7 467.9 1822.7 463.9 1822.7 459.9 1822.7 455.8 1822.7 451.8Z" fill="#f9c198" stroke="#333333" stroke-width="3" stroke-linejoin="round"/>
<path d="M1825.3 450.1l-3 5.2h6zM1828.5 616.3l-3 5.2h6zM1824.2 616.3l-3 5.2h6zM1826.4 496.9l-3 5.2h6zM1829.4 608.9l-3 5.2h6zM1820.7 450.9l-3 5.2h6zM1831.2 600.2l-3 5.2h6zM1817.4 617.5l-3 5.2h6zM1819.8 467.7l-3 5.2h6zM1818.1 615.7l-3 5.2h6zM1825.3 458.0l-3 5.2h6z" fill="#FF7F00"/>
<polygon points="1824.0,608.5 1816.1,622.2 1831.9,622.2" fill="#000"/>
<circle cx="1796.0" cy="621.0" r="6.2" fill="#000"/>
<line x1="1501.1" y1="224.5" x2="1868.0" y2="224.5" stroke="#000" stroke-width="3.4" stroke-dasharray="3.4,10.6" stroke-dashoffset="0.0"/>
<line x1="1501.1" y1="610.9" x2="1868.0" y2="610.9" stroke="#000" stroke-width="3.4" stroke-dasharray="3.4,10.6" stroke-dashoffset="0.0"/>
<line x1="1487.6" y1="100.0" x2="1487.6" y2="661.9" stroke="#000" stroke-width="3.3"/>
<line x1="1486.0" y1="660.3" x2="1868.0" y2="660.3" stroke="#000" stroke-width="3.3"/>
<line x1="1478.6" y1="224.5" x2="1487.6" y2="224.5" stroke="#333" stroke-width="2.4"/>
<line x1="1478.6" y1="312.5" x2="1487.6" y2="312.5" stroke="#333" stroke-width="2.4"/>
<line x1="1478.6" y1="439.3" x2="1487.6" y2="439.3" stroke="#333" stroke-width="2.4"/>
<line x1="1478.6" y1="565.0" x2="1487.6" y2="565.0" stroke="#333" stroke-width="2.4"/>
<line x1="1478.6" y1="610.9" x2="1487.6" y2="610.9" stroke="#333" stroke-width="2.4"/>
<line x1="1529.2" y1="660.3" x2="1529.2" y2="669.3" stroke="#333" stroke-width="2.4"/>
<line x1="1599.4" y1="660.3" x2="1599.4" y2="669.3" stroke="#333" stroke-width="2.4"/>
<line x1="1669.6" y1="660.3" x2="1669.6" y2="669.3" stroke="#333" stroke-width="2.4"/>
<line x1="1739.8" y1="660.3" x2="1739.8" y2="669.3" stroke="#333" stroke-width="2.4"/>
<line x1="1810.0" y1="660.3" x2="1810.0" y2="669.3" stroke="#333" stroke-width="2.4"/>
<text transform="translate(1543.5,694.5) rotate(-45)" font-size="32.4" fill="#4d4d4d" text-anchor="end">CLL</text>
<text transform="translate(1613.7,694.5) rotate(-45)" font-size="32.4" fill="#4d4d4d" text-anchor="end">MDS/MPN</text>
<text transform="translate(1683.9,694.5) rotate(-45)" font-size="32.4" fill="#4d4d4d" text-anchor="end">Lymphoma</text>
<text transform="translate(1754.1,694.5) rotate(-45)" font-size="32.4" fill="#4d4d4d" text-anchor="end">Acute Leukaemia</text>
<text transform="translate(1824.3,694.5) rotate(-45)" font-size="32.4" fill="#4d4d4d" text-anchor="end">Myeloma</text>
<text transform="translate(1518.0,135.7) scale(1.000,1.060)" font-size="29.8" fill="#000" text-anchor="start" font-weight="normal" >Kruskal-Wallis p=0.097</text>
<text transform="translate(1671.3,37.0) scale(0.985,1.055)" font-size="47.0" fill="#1a1a1a" text-anchor="middle" font-weight="bold" >Delta</text>
<path d="M364.7 1601.0 367.0 1601.9 367.2 1602.8 338.6 1602.8 338.8 1601.9 341.1 1601.0Z" fill="#9bbfdd" stroke="#333333" stroke-width="3" stroke-linejoin="round"/>
<path d="M384.9 1181.9 384.9 1185.9 385.0 1189.9 385.0 1193.9 385.1 1197.9 385.1 1201.9 385.2 1205.9 385.2 1209.9 385.3 1213.9 385.4 1217.9 385.4 1221.9 385.5 1225.9 385.6 1229.9 385.6 1233.9 385.7 1237.9 385.8 1241.9 385.8 1245.9 385.9 1249.9 386.0 1253.9 386.0 1257.9 386.1 1261.9 386.2 1265.9 386.3 1269.9 386.3 1273.9 386.4 1277.9 386.5 1281.9 386.5 1285.9 386.6 1289.9 386.7 1293.9 386.8 1297.9 386.8 1301.9 386.9 1305.9 387.0 1309.9 387.1 1313.9 387.1 1317.9 387.2 1321.9 387.3 1325.9 387.4 1329.9 387.5 1333.9 387.7 1337.9 387.9 1341.9 388.1 1345.9 388.3 1349.9 388.4 1353.9 388.6 1357.9 388.8 1361.9 389.0 1365.9 389.2 1369.9 389.4 1373.9 389.6 1377.9 389.8 1381.9 389.9 1385.9 390.1 1389.9 390.3 1394.0 390.6 1398.0 390.8 1402.0 391.0 1406.0 391.3 1410.0 391.6 1414.0 391.9 1418.0 392.2 1422.0 392.5 1426.0 392.8 1430.0 393.1 1434.0 393.4 1438.0 393.7 1442.0 394.0 1446.0 394.3 1450.0 394.6 1454.0 394.9 1458.0 395.2 1462.0 395.4 1466.0 395.7 1470.0 395.9 1474.0 396.0 1478.0 396.1 1482.0 396.2 1486.0 396.2 1490.0 396.2 1494.0 396.1 1498.0 396.0 1502.0 395.9 1506.0 395.8 1510.0 395.6 1514.0 395.4 1518.0 395.2 1522.0 394.9 1526.0 394.5 1530.0 394.1 1534.0 393.7 1538.0 393.3 1542.0 392.9 1546.0 392.6 1550.0 392.2 1554.0 391.9 1558.0 391.6 1562.0 391.3 1566.0 391.0 1570.0 390.7 1574.0 390.5 1578.0 390.3 1582.0 390.1 1586.0 389.8 1590.0 389.6 1594.0 389.4 1598.0 389.3 1602.0 375.3 1602.0 375.2 1598.0 375.0 1594.0 374.8 1590.0 374.5 1586.0 374.3 1582.0 374.1 1578.0 373.9 1574.0 373.6 1570.0 373.3 1566.0 373.0 1562.0 372.7 1558.0 372.4 1554.0 372.0 1550.0 371.7 1546.0 371.3 1542.0 370.9 1538.0 370.5 1534.0 370.1 1530.0 369.7 1526.0 369.4 1522.0 369.2 1518.0 369.0 1514.0 368.8 1510.0 368.7 1506.0 368.6 1502.0 368.5 1498.0 368.4 1494.0 368.4 1490.0 368.4 1486.0 368.5 1482.0 368.6 1478.0 368.7 1474.0 368.9 1470.0 369.2 1466.0 369.4 1462.0 369.7 1458.0 370.0 1454.0 370.3 1450.0 370.6 1446.0 370.9 1442.0 371.2 1438.0 371.5 1434.0 371.8 1430.0 372.1 1426.0 372.4 1422.0 372.7 1418.0 373.0 1414.0 373.3 1410.0 373.6 1406.0 373.8 1402.0 374.0 1398.0 374.3 1394.0 374.5 1389.9 374.7 1385.9 374.8 1381.9 375.0 1377.9 375.2 1373.9 375.4 1369.9 375.6 1365.9 375.8 1361.9 376.0 1357.9 376.2 1353.9 376.3 1349.9 376.5 1345.9 376.7 1341.9 376.9 1337.9 377.1 1333.9 377.2 1329.9 377.3 1325.9 377.4 1321.9 377.5 1317.9 377.5 1313.9 377.6 1309.9 377.7 1305.9 377.8 1301.9 377.8 1297.9 377.9 1293.9 378.0 1289.9 378.1 1285.9 378.1 1281.9 378.2 1277.9 378.3 1273.9 378.3 1269.9 378.4 1265.9 378.5 1261.9 378.6 1257.9 378.6 1253.9 378.7 1249.9 378.8 1245.9 378.8 1241.9 378.9 1237.9 379.0 1233.9 379.0 1229.9 379.1 1225.9 379.2 1221.9 379.2 1217.9 379.3 1213.9 379.4 1209.9 379.4 1205.9 379.5 1201.9 379.5 1197.9 379.6 1193.9 379.6 1189.9 379.7 1185.9 379.7 1181.9Z" fill="#9bbfdd" stroke="#333333" stroke-width="3" stroke-linejoin="round"/>
<path d="M385.0 1180.2l-3 5.2h6zM381.8 1597.3l-3 5.2h6zM384.2 1597.3l-3 5.2h6zM377.9 1597.3l-3 5.2h6zM383.6 1597.3l-3 5.2h6zM389.2 1597.3l-3 5.2h6zM390.2 1434.6l-3 5.2h6zM374.1 1514.4l-3 5.2h6zM384.1 1242.3l-3 5.2h6zM389.6 1366.2l-3 5.2h6zM389.4 1238.5l-3 5.2h6zM377.1 1297.9l-3 5.2h6zM381.0 1387.5l-3 5.2h6zM388.0 1455.1l-3 5.2h6zM374.8 1431.5l-3 5.2h6zM380.8 1451.4l-3 5.2h6zM390.2 1328.9l-3 5.2h6zM380.1 1362.0l-3 5.2h6zM382.3 1547.7l-3 5.2h6zM376.6 1289.1l-3 5.2h6zM384.4 1273.3l-3 5.2h6zM380.5 1580.4l-3 5.2h6zM387.7 1546.1l-3 5.2h6zM383.7 1312.8l-3 5.2h6zM376.2 1210.4l-3 5.2h6zM385.8 1554.3l-3 5.2h6zM377.2 1380.0l-3 5.2h6zM387.2 1559.2l-3 5.2h6zM377.1 1185.6l-3 5.2h6zM375.8 1242.3l-3 5.2h6zM378.2 1516.8l-3 5.2h6zM387.6 1468.2l-3 5.2h6zM389.9 1296.0l-3 5.2h6zM379.2 1343.4l-3 5.2h6zM385.7 1545.3l-3 5.2h6zM390.0 1466.3l-3 5.2h6zM383.4 1558.2l-3 5.2h6zM378.4 1434.7l-3 5.2h6z" fill="#1F78B4"/>
<line x1="382.3" y1="1381.1" x2="382.3" y2="1518.3" stroke="#000" stroke-width="1.9"/>
<polygon points="382.3,1470.4 374.4,1484.1 390.2,1484.1" fill="#000"/>
<circle cx="352.9" cy="1602.5" r="6.2" fill="#000"/>
<path d="M437.0 1601.0 439.3 1601.9 439.5 1602.8 410.9 1602.8 411.1 1601.9 413.4 1601.0Z" fill="#9bbfdd" stroke="#333333" stroke-width="3" stroke-linejoin="round"/>
<path d="M457.2 1260.8 457.2 1264.8 457.3 1268.8 457.3 1272.8 457.3 1276.9 457.4 1280.9 457.4 1284.9 457.5 1288.9 457.5 1292.9 457.6 1296.9 457.7 1300.9 457.7 1305.0 457.8 1309.0 457.8 1313.0 457.9 1317.0 458.0 1321.0 458.0 1325.0 458.1 1329.0 458.2 1333.1 458.3 1337.1 458.3 1341.1 458.4 1345.1 458.5 1349.1 458.6 1353.1 458.7 1357.1 458.9 1361.2 459.1 1365.2 459.3 1369.2 459.5 1373.2 459.8 1377.2 460.1 1381.2 460.4 1385.2 460.7 1389.3 461.1 1393.3 461.5 1397.3 461.9 1401.3 462.3 1405.3 462.7 1409.3 463.3 1413.3 463.8 1417.4 464.4 1421.4 465.0 1425.4 465.6 1429.4 466.1 1433.4 466.6 1437.4 467.1 1441.4 467.6 1445.4 468.1 1449.5 468.4 1453.5 468.6 1457.5 468.7 1461.5 468.7 1465.5 468.6 1469.5 468.3 1473.5 467.9 1477.6 467.2 1481.6 466.7 1485.6 466.1 1489.6 465.3 1493.6 464.6 1497.6 463.8 1501.6 463.0 1505.7 462.2 1509.7 461.5 1513.7 461.0 1517.7 460.1 1521.7 459.5 1525.7 458.9 1529.7 458.4 1533.8 458.1 1537.8 457.9 1541.8 457.7 1545.8 457.5 1549.8 457.4 1553.8 457.2 1557.8 457.1 1561.9 457.0 1565.9 457.0 1569.9 456.9 1573.9 456.9 1577.9 456.9 1581.9 456.9 1585.9 457.0 1590.0 457.1 1594.0 457.2 1598.0 457.2 1602.0 452.0 1602.0 452.0 1598.0 452.1 1594.0 452.2 1590.0 452.3 1585.9 452.3 1581.9 452.3 1577.9 452.3 1573.9 452.2 1569.9 452.2 1565.9 452.1 1561.9 452.0 1557.8 451.8 1553.8 451.7 1549.8 451.5 1545.8 451.3 1541.8 451.1 1537.8 450.8 1533.8 450.3 1529.7 449.7 1525.7 449.1 1521.7 448.2 1517.7 447.7 1513.7 447.0 1509.7 446.2 1505.7 445.4 1501.6 444.6 1497.6 443.9 1493.6 443.1 1489.6 442.5 1485.6 442.0 1481.6 441.3 1477.6 440.9 1473.5 440.6 1469.5 440.5 1465.5 440.5 1461.5 440.6 1457.5 440.8 1453.5 441.1 1449.5 441.6 1445.4 442.1 1441.4 442.6 1437.4 443.1 1433.4 443.6 1429.4 444.2 1425.4 444.8 1421.4 445.4 1417.4 445.9 1413.3 446.5 1409.3 446.9 1405.3 447.3 1401.3 447.7 1397.3 448.1 1393.3 448.5 1389.3 448.8 1385.2 449.1 1381.2 449.4 1377.2 449.7 1373.2 449.9 1369.2 450.1 1365.2 450.3 1361.2 450.5 1357.1 450.6 1353.1 450.7 1349.1 450.8 1345.1 450.9 1341.1 450.9 1337.1 451.0 1333.1 451.1 1329.0 451.2 1325.0 451.2 1321.0 451.3 1317.0 451.4 1313.0 451.4 1309.0 451.5 1305.0 451.5 1300.9 451.6 1296.9 451.7 1292.9 451.7 1288.9 451.8 1284.9 451.8 1280.9 451.9 1276.9 451.9 1272.8 451.9 1268.8 452.0 1264.8 452.0 1260.8Z" fill="#9bbfdd" stroke="#333333" stroke-width="3" stroke-linejoin="round"/>
<path d="M456.7 1259.1l-3 5.2h6zM458.5 1597.3l-3 5.2h6zM451.4 1597.3l-3 5.2h6zM457.7 1597.3l-3 5.2h6zM450.0 1597.3l-3 5.2h6zM455.8 1440.4l-3 5.2h6zM451.4 1574.4l-3 5.2h6zM453.7 1511.1l-3 5.2h6zM462.1 1461.2l-3 5.2h6zM451.6 1432.3l-3 5.2h6zM463.1 1443.6l-3 5.2h6zM448.5 1465.1l-3 5.2h6zM457.2 1510.6l-3 5.2h6zM457.1 1335.6l-3 5.2h6zM453.1 1435.7l-3 5.2h6zM451.1 1474.6l-3 5.2h6zM450.3 1271.6l-3 5.2h6zM459.9 1582.9l-3 5.2h6zM460.9 1439.4l-3 5.2h6zM447.9 1578.2l-3 5.2h6zM448.6 1435.2l-3 5.2h6zM460.5 1512.6l-3 5.2h6zM452.8 1542.3l-3 5.2h6zM454.6 1290.9l-3 5.2h6zM456.8 1451.7l-3 5.2h6zM458.8 1516.0l-3 5.2h6zM457.5 1450.8l-3 5.2h6zM461.9 1455.6l-3 5.2h6zM463.2 1459.5l-3 5.2h6zM459.4 1455.1l-3 5.2h6zM454.5 1387.0l-3 5.2h6z" fill="#1F78B4"/>
<line x1="454.6" y1="1398.0" x2="454.6" y2="1478.9" stroke="#000" stroke-width="1.9"/>
<polygon points="454.6,1449.7 446.7,1463.4 462.5,1463.4" fill="#000"/>
<circle cx="425.2" cy="1602.5" r="6.2" fill="#000"/>
<path d="M509.3 1601.0 511.6 1601.9 511.8 1602.8 483.2 1602.8 483.4 1601.9 485.7 1601.0Z" fill="#9bbfdd" stroke="#333333" stroke-width="3" stroke-linejoin="round"/>
<path d="M529.5 1181.9 529.5 1185.9 529.6 1189.9 529.6 1193.9 529.7 1197.9 529.8 1201.9 529.8 1205.9 529.9 1209.9 530.0 1213.9 530.1 1217.9 530.2 1221.9 530.3 1225.9 530.3 1229.9 530.4 1233.9 530.5 1237.9 530.6 1241.9 530.7 1245.9 530.8 1249.9 530.9 1253.9 531.0 1257.9 531.2 1261.9 531.3 1265.9 531.5 1269.9 531.7 1273.9 531.8 1277.9 532.0 1281.9 532.2 1285.9 532.4 1289.9 532.7 1293.9 532.9 1297.9 533.2 1301.9 533.5 1305.9 533.8 1309.9 534.2 1313.9 534.5 1317.9 534.8 1321.9 535.1 1325.9 535.4 1329.9 535.6 1333.9 535.8 1337.9 536.1 1341.9 536.3 1345.9 536.5 1349.9 536.7 1353.9 536.9 1357.9 537.1 1361.9 537.3 1365.9 537.5 1369.9 537.8 1373.9 538.0 1377.9 538.3 1381.9 538.6 1385.9 538.9 1389.9 539.2 1394.0 539.4 1398.0 539.6 1402.0 539.8 1406.0 540.0 1410.0 540.1 1414.0 540.2 1418.0 540.3 1422.0 540.4 1426.0 540.5 1430.0 540.6 1434.0 540.6 1438.0 540.6 1442.0 540.6 1446.0 540.6 1450.0 540.5 1454.0 540.4 1458.0 540.3 1462.0 540.2 1466.0 540.1 1470.0 540.0 1474.0 539.9 1478.0 539.8 1482.0 539.7 1486.0 539.5 1490.0 539.4 1494.0 539.3 1498.0 539.1 1502.0 539.0 1506.0 538.9 1510.0 538.7 1514.0 538.6 1518.0 538.5 1522.0 538.4 1526.0 538.2 1530.0 538.1 1534.0 538.0 1538.0 537.9 1542.0 537.8 1546.0 537.6 1550.0 537.5 1554.0 537.3 1558.0 537.2 1562.0 537.0 1566.0 536.8 1570.0 536.7 1574.0 536.5 1578.0 536.3 1582.0 536.1 1586.0 536.0 1590.0 535.8 1594.0 535.7 1598.0 535.6 1602.0 518.2 1602.0 518.1 1598.0 518.0 1594.0 517.8 1590.0 517.7 1586.0 517.5 1582.0 517.3 1578.0 517.1 1574.0 517.0 1570.0 516.8 1566.0 516.6 1562.0 516.5 1558.0 516.3 1554.0 516.2 1550.0 516.0 1546.0 515.9 1542.0 515.8 1538.0 515.7 1534.0 515.6 1530.0 515.4 1526.0 515.3 1522.0 515.2 1518.0 515.1 1514.0 514.9 1510.0 514.8 1506.0 514.7 1502.0 514.5 1498.0 514.4 1494.0 514.3 1490.0 514.1 1486.0 514.0 1482.0 513.9 1478.0 513.8 1474.0 513.7 1470.0 513.6 1466.0 513.5 1462.0 513.4 1458.0 513.3 1454.0 513.2 1450.0 513.2 1446.0 513.2 1442.0 513.2 1438.0 513.2 1434.0 513.3 1430.0 513.4 1426.0 513.5 1422.0 513.6 1418.0 513.7 1414.0 513.8 1410.0 514.0 1406.0 514.2 1402.0 514.4 1398.0 514.6 1394.0 514.9 1389.9 515.2 1385.9 515.5 1381.9 515.8 1377.9 516.0 1373.9 516.3 1369.9 516.5 1365.9 516.7 1361.9 516.9 1357.9 517.1 1353.9 517.3 1349.9 517.5 1345.9 517.7 1341.9 518.0 1337.9 518.2 1333.9 518.4 1329.9 518.7 1325.9 519.0 1321.9 519.3 1317.9 519.6 1313.9 520.0 1309.9 520.3 1305.9 520.6 1301.9 520.9 1297.9 521.1 1293.9 521.4 1289.9 521.6 1285.9 521.8 1281.9 522.0 1277.9 522.1 1273.9 522.3 1269.9 522.5 1265.9 522.6 1261.9 522.8 1257.9 522.9 1253.9 523.0 1249.9 523.1 1245.9 523.2 1241.9 523.3 1237.9 523.4 1233.9 523.5 1229.9 523.5 1225.9 523.6 1221.9 523.7 1217.9 523.8 1213.9 523.9 1209.9 524.0 1205.9 524.0 1201.9 524.1 1197.9 524.2 1193.9 524.2 1189.9 524.3 1185.9 524.3 1181.9Z" fill="#9bbfdd" stroke="#333333" stroke-width="3" stroke-linejoin="round"/>
<path d="M526.8 1180.2l-3 5.2h6zM519.9 1597.3l-3 5.2h6zM523.9 1597.3l-3 5.2h6zM519.9 1597.3l-3 5.2h6zM529.4 1597.3l-3 5.2h6zM527.5 1597.3l-3 5.2h6zM530.8 1322.5l-3 5.2h6zM518.2 1577.1l-3 5.2h6zM532.4 1380.6l-3 5.2h6zM532.0 1370.8l-3 5.2h6zM528.6 1499.5l-3 5.2h6zM520.7 1568.1l-3 5.2h6zM520.0 1556.6l-3 5.2h6zM529.4 1342.1l-3 5.2h6zM526.0 1368.6l-3 5.2h6zM533.6 1348.3l-3 5.2h6zM529.6 1393.4l-3 5.2h6zM521.0 1445.3l-3 5.2h6zM530.1 1243.0l-3 5.2h6zM525.6 1264.2l-3 5.2h6zM528.7 1341.0l-3 5.2h6zM527.4 1364.2l-3 5.2h6zM528.3 1321.1l-3 5.2h6zM532.9 1401.8l-3 5.2h6zM528.9 1340.2l-3 5.2h6zM520.6 1513.4l-3 5.2h6zM532.4 1430.7l-3 5.2h6zM532.9 1563.2l-3 5.2h6zM522.6 1220.5l-3 5.2h6zM519.7 1370.0l-3 5.2h6zM530.4 1499.0l-3 5.2h6zM525.5 1487.3l-3 5.2h6zM518.2 1232.5l-3 5.2h6zM526.0 1579.3l-3 5.2h6zM535.6 1268.1l-3 5.2h6zM532.6 1389.8l-3 5.2h6zM533.2 1470.1l-3 5.2h6zM525.5 1207.8l-3 5.2h6z" fill="#1F78B4"/>
<line x1="526.9" y1="1373.6" x2="526.9" y2="1522.1" stroke="#000" stroke-width="1.9"/>
<polygon points="526.9,1447.8 519.0,1461.5 534.8,1461.5" fill="#000"/>
<circle cx="497.5" cy="1602.5" r="6.2" fill="#000"/>
<path d="M581.6 1601.0 583.9 1601.9 584.1 1602.8 555.5 1602.8 555.7 1601.9 558.0 1601.0Z" fill="#9bbfdd" stroke="#333333" stroke-width="3" stroke-linejoin="round"/>
<path d="M606.5 1309.7 606.6 1313.7 606.7 1317.7 606.8 1321.7 607.0 1325.7 607.3 1329.7 607.6 1333.7 607.8 1337.7 608.1 1341.7 608.5 1345.7 608.8 1349.7 609.1 1353.7 609.5 1357.7 609.8 1361.8 610.1 1365.8 610.3 1369.8 610.6 1373.8 610.8 1377.8 611.0 1381.8 611.2 1385.8 611.4 1389.8 611.6 1393.8 611.8 1397.8 612.0 1401.8 612.1 1405.8 612.3 1409.8 612.4 1413.8 612.5 1417.8 612.6 1421.8 612.7 1425.8 612.8 1429.8 612.9 1433.8 612.9 1437.8 613.0 1441.8 613.0 1445.8 613.1 1449.8 613.1 1453.8 613.1 1457.9 613.1 1461.9 613.1 1465.9 613.1 1469.9 613.1 1473.9 613.0 1477.9 613.0 1481.9 612.9 1485.9 612.9 1489.9 612.8 1493.9 612.7 1497.9 612.6 1501.9 612.5 1505.9 612.4 1509.9 612.2 1513.9 612.1 1517.9 612.0 1521.9 611.8 1525.9 611.7 1529.9 611.5 1533.9 611.3 1537.9 611.1 1541.9 610.9 1545.9 610.7 1549.9 610.5 1554.0 610.2 1558.0 609.9 1562.0 609.6 1566.0 609.2 1570.0 608.8 1574.0 608.4 1578.0 608.1 1582.0 607.6 1586.0 607.1 1590.0 606.6 1594.0 606.1 1598.0 605.8 1602.0 592.6 1602.0 592.3 1598.0 591.8 1594.0 591.3 1590.0 590.8 1586.0 590.3 1582.0 590.0 1578.0 589.6 1574.0 589.2 1570.0 588.8 1566.0 588.5 1562.0 588.2 1558.0 587.9 1554.0 587.7 1549.9 587.5 1545.9 587.3 1541.9 587.1 1537.9 586.9 1533.9 586.7 1529.9 586.6 1525.9 586.4 1521.9 586.3 1517.9 586.2 1513.9 586.0 1509.9 585.9 1505.9 585.8 1501.9 585.7 1497.9 585.6 1493.9 585.5 1489.9 585.5 1485.9 585.4 1481.9 585.4 1477.9 585.3 1473.9 585.3 1469.9 585.3 1465.9 585.3 1461.9 585.3 1457.9 585.3 1453.8 585.3 1449.8 585.4 1445.8 585.4 1441.8 585.5 1437.8 585.5 1433.8 585.6 1429.8 585.7 1425.8 585.8 1421.8 585.9 1417.8 586.0 1413.8 586.1 1409.8 586.3 1405.8 586.4 1401.8 586.6 1397.8 586.8 1393.8 587.0 1389.8 587.2 1385.8 587.4 1381.8 587.6 1377.8 587.8 1373.8 588.1 1369.8 588.3 1365.8 588.6 1361.8 588.9 1357.7 589.3 1353.7 589.6 1349.7 589.9 1345.7 590.3 1341.7 590.6 1337.7 590.8 1333.7 591.1 1329.7 591.4 1325.7 591.6 1321.7 591.7 1317.7 591.8 1313.7 591.9 1309.7Z" fill="#9bbfdd" stroke="#333333" stroke-width="3" stroke-linejoin="round"/>
<path d="M601.5 1308.0l-3 5.2h6zM591.2 1597.3l-3 5.2h6zM600.5 1597.3l-3 5.2h6zM605.6 1597.3l-3 5.2h6zM590.4 1597.3l-3 5.2h6zM600.1 1597.3l-3 5.2h6zM600.8 1431.0l-3 5.2h6zM602.4 1573.7l-3 5.2h6zM593.1 1451.0l-3 5.2h6zM604.8 1378.2l-3 5.2h6zM597.6 1466.2l-3 5.2h6zM600.4 1359.2l-3 5.2h6zM590.2 1400.3l-3 5.2h6zM598.7 1489.3l-3 5.2h6zM605.3 1456.7l-3 5.2h6zM598.0 1533.8l-3 5.2h6zM606.4 1433.2l-3 5.2h6zM595.4 1454.0l-3 5.2h6zM592.3 1508.6l-3 5.2h6zM594.0 1393.3l-3 5.2h6zM600.1 1418.6l-3 5.2h6zM592.4 1530.6l-3 5.2h6zM591.6 1351.9l-3 5.2h6zM597.2 1551.1l-3 5.2h6zM594.6 1363.1l-3 5.2h6zM596.9 1412.2l-3 5.2h6zM592.9 1397.6l-3 5.2h6zM595.6 1521.2l-3 5.2h6zM602.4 1484.5l-3 5.2h6zM595.4 1506.7l-3 5.2h6zM606.0 1543.0l-3 5.2h6zM596.2 1326.4l-3 5.2h6zM602.7 1448.4l-3 5.2h6zM595.3 1475.7l-3 5.2h6zM601.0 1409.4l-3 5.2h6zM607.6 1559.0l-3 5.2h6zM606.6 1411.3l-3 5.2h6zM603.7 1575.2l-3 5.2h6z" fill="#1F78B4"/>
<line x1="599.2" y1="1384.0" x2="599.2" y2="1510.8" stroke="#000" stroke-width="1.9"/>
<polygon points="599.2,1442.2 591.3,1455.9 607.1,1455.9" fill="#000"/>
<circle cx="569.8" cy="1602.5" r="6.2" fill="#000"/>
<path d="M653.9 1601.0 656.2 1601.9 656.4 1602.8 627.8 1602.8 628.0 1601.9 630.3 1601.0Z" fill="#9bbfdd" stroke="#333333" stroke-width="3" stroke-linejoin="round"/>
<path d="M673.5 1181.9 673.5 1185.9 673.5 1190.0 673.5 1194.0 673.5 1198.0 673.5 1202.1 673.5 1206.1 673.5 1210.1 673.5 1214.2 673.5 1218.2 673.5 1222.2 673.5 1226.3 673.5 1230.3 673.5 1234.3 673.5 1238.4 673.5 1242.4 673.5 1246.4 673.5 1250.4 673.5 1254.5 673.5 1258.5 673.5 1262.5 673.5 1266.6 673.5 1270.6 673.5 1274.6 673.5 1278.7 673.5 1282.7 673.4 1286.7 673.4 1290.8 673.4 1294.8 673.4 1298.8 673.4 1302.9 673.4 1306.9 673.4 1310.9 673.4 1315.0 673.4 1319.0 673.5 1323.0 673.5 1327.1 673.5 1331.1 673.7 1335.1 673.9 1339.2 674.1 1343.2 674.4 1347.2 674.7 1351.3 674.9 1355.3 675.2 1359.3 675.6 1363.3 676.3 1367.4 676.8 1371.4 677.4 1375.4 678.1 1379.5 678.8 1383.5 679.5 1387.5 680.3 1391.6 681.0 1395.6 681.7 1399.6 682.3 1403.7 682.8 1407.7 683.2 1411.7 683.6 1415.8 684.0 1419.8 684.4 1423.8 684.7 1427.9 685.0 1431.9 685.2 1435.9 685.4 1440.0 685.6 1444.0 685.6 1448.0 685.5 1452.1 685.3 1456.1 685.0 1460.1 684.6 1464.2 684.1 1468.2 683.6 1472.2 683.0 1476.3 682.4 1480.3 681.7 1484.3 680.9 1488.3 680.1 1492.4 679.3 1496.4 678.6 1500.4 677.9 1504.5 677.2 1508.5 676.6 1512.5 676.1 1516.6 675.8 1520.6 675.6 1524.6 675.4 1528.7 675.2 1532.7 675.0 1536.7 674.9 1540.8 674.8 1544.8 668.2 1544.8 668.1 1540.8 668.0 1536.7 667.8 1532.7 667.6 1528.7 667.4 1524.6 667.2 1520.6 666.9 1516.6 666.4 1512.5 665.8 1508.5 665.1 1504.5 664.4 1500.4 663.7 1496.4 662.9 1492.4 662.1 1488.3 661.3 1484.3 660.6 1480.3 660.0 1476.3 659.4 1472.2 658.9 1468.2 658.4 1464.2 658.0 1460.1 657.7 1456.1 657.5 1452.1 657.4 1448.0 657.4 1444.0 657.6 1440.0 657.8 1435.9 658.0 1431.9 658.3 1427.9 658.6 1423.8 659.0 1419.8 659.4 1415.8 659.8 1411.7 660.2 1407.7 660.7 1403.7 661.3 1399.6 662.0 1395.6 662.7 1391.6 663.5 1387.5 664.2 1383.5 664.9 1379.5 665.6 1375.4 666.2 1371.4 666.7 1367.4 667.4 1363.3 667.8 1359.3 668.1 1355.3 668.3 1351.3 668.6 1347.2 668.9 1343.2 669.1 1339.2 669.3 1335.1 669.5 1331.1 669.5 1327.1 669.5 1323.0 669.6 1319.0 669.6 1315.0 669.6 1310.9 669.6 1306.9 669.6 1302.9 669.6 1298.8 669.6 1294.8 669.6 1290.8 669.6 1286.7 669.5 1282.7 669.5 1278.7 669.5 1274.6 669.5 1270.6 669.5 1266.6 669.5 1262.5 669.5 1258.5 669.5 1254.5 669.5 1250.4 669.5 1246.4 669.5 1242.4 669.5 1238.4 669.5 1234.3 669.5 1230.3 669.5 1226.3 669.5 1222.2 669.5 1218.2 669.5 1214.2 669.5 1210.1 669.5 1206.1 669.5 1202.1 669.5 1198.0 669.5 1194.0 669.5 1190.0 669.5 1185.9 669.5 1181.9Z" fill="#9bbfdd" stroke="#333333" stroke-width="3" stroke-linejoin="round"/>
<path d="M672.5 1180.2l-3 5.2h6zM665.5 1540.1l-3 5.2h6zM680.3 1540.1l-3 5.2h6zM663.9 1540.1l-3 5.2h6zM673.3 1540.1l-3 5.2h6zM678.5 1472.4l-3 5.2h6zM672.5 1429.2l-3 5.2h6zM676.7 1452.1l-3 5.2h6zM663.4 1420.9l-3 5.2h6zM667.7 1461.4l-3 5.2h6zM676.5 1251.7l-3 5.2h6zM668.0 1496.0l-3 5.2h6zM679.7 1478.8l-3 5.2h6zM680.3 1459.8l-3 5.2h6zM673.1 1298.0l-3 5.2h6zM664.0 1413.7l-3 5.2h6zM662.6 1459.4l-3 5.2h6zM669.1 1374.9l-3 5.2h6zM665.8 1428.4l-3 5.2h6zM678.4 1265.1l-3 5.2h6zM668.0 1525.5l-3 5.2h6zM678.7 1410.7l-3 5.2h6zM669.7 1522.9l-3 5.2h6zM677.4 1245.8l-3 5.2h6zM668.9 1450.4l-3 5.2h6zM674.4 1241.1l-3 5.2h6zM665.3 1292.2l-3 5.2h6zM674.1 1276.7l-3 5.2h6zM671.6 1323.6l-3 5.2h6zM669.8 1474.1l-3 5.2h6zM674.2 1385.5l-3 5.2h6z" fill="#1F78B4"/>
<line x1="671.5" y1="1386.8" x2="671.5" y2="1462.0" stroke="#000" stroke-width="1.9"/>
<polygon points="671.5,1425.3 663.6,1439.0 679.4,1439.0" fill="#000"/>
<circle cx="642.1" cy="1602.5" r="6.2" fill="#000"/>
<path d="M726.2 1601.0 728.5 1601.9 728.7 1602.8 700.1 1602.8 700.3 1601.9 702.6 1601.0Z" fill="#9bbfdd" stroke="#333333" stroke-width="3" stroke-linejoin="round"/>
<path d="M752.0 1215.7 752.1 1219.7 752.1 1223.7 752.2 1227.8 752.3 1231.8 752.4 1235.8 752.6 1239.8 752.7 1243.9 752.8 1247.9 753.0 1251.9 753.1 1255.9 753.2 1260.0 753.4 1264.0 753.5 1268.0 753.6 1272.0 753.8 1276.1 753.9 1280.1 754.0 1284.1 754.2 1288.1 754.3 1292.2 754.4 1296.2 754.5 1300.2 754.6 1304.2 754.7 1308.3 754.8 1312.3 755.0 1316.3 755.1 1320.3 755.2 1324.3 755.3 1328.4 755.4 1332.4 755.5 1336.4 755.6 1340.4 755.7 1344.5 755.8 1348.5 755.9 1352.5 756.0 1356.5 756.1 1360.6 756.1 1364.6 756.2 1368.6 756.3 1372.6 756.3 1376.7 756.4 1380.7 756.5 1384.7 756.5 1388.7 756.6 1392.8 756.6 1396.8 756.7 1400.8 756.7 1404.8 756.7 1408.8 756.8 1412.9 756.8 1416.9 756.8 1420.9 756.9 1424.9 756.9 1429.0 756.9 1433.0 757.0 1437.0 757.0 1441.0 757.0 1445.1 757.0 1449.1 757.1 1453.1 757.1 1457.1 757.1 1461.2 757.1 1465.2 757.1 1469.2 757.1 1473.2 757.1 1477.3 757.2 1481.3 757.2 1485.3 757.2 1489.3 757.2 1493.4 757.2 1497.4 757.2 1501.4 757.2 1505.4 757.2 1509.4 757.2 1513.5 757.2 1517.5 757.2 1521.5 757.2 1525.5 757.2 1529.6 757.2 1533.6 757.2 1537.6 757.2 1541.6 757.2 1545.7 757.2 1549.7 757.2 1553.7 757.2 1557.7 757.2 1561.8 757.2 1565.8 757.2 1569.8 757.2 1573.8 757.2 1577.9 757.2 1581.9 757.2 1585.9 757.2 1589.9 757.2 1594.0 757.2 1598.0 757.2 1602.0 730.4 1602.0 730.4 1598.0 730.4 1594.0 730.4 1589.9 730.4 1585.9 730.4 1581.9 730.4 1577.9 730.4 1573.8 730.4 1569.8 730.4 1565.8 730.4 1561.8 730.4 1557.7 730.4 1553.7 730.4 1549.7 730.4 1545.7 730.4 1541.6 730.4 1537.6 730.4 1533.6 730.4 1529.6 730.4 1525.5 730.4 1521.5 730.4 1517.5 730.4 1513.5 730.4 1509.4 730.4 1505.4 730.4 1501.4 730.4 1497.4 730.4 1493.4 730.4 1489.3 730.4 1485.3 730.4 1481.3 730.5 1477.3 730.5 1473.2 730.5 1469.2 730.5 1465.2 730.5 1461.2 730.5 1457.1 730.5 1453.1 730.6 1449.1 730.6 1445.1 730.6 1441.0 730.6 1437.0 730.7 1433.0 730.7 1429.0 730.7 1424.9 730.8 1420.9 730.8 1416.9 730.8 1412.9 730.9 1408.8 730.9 1404.8 730.9 1400.8 731.0 1396.8 731.0 1392.8 731.1 1388.7 731.1 1384.7 731.2 1380.7 731.3 1376.7 731.3 1372.6 731.4 1368.6 731.5 1364.6 731.5 1360.6 731.6 1356.5 731.7 1352.5 731.8 1348.5 731.9 1344.5 732.0 1340.4 732.1 1336.4 732.2 1332.4 732.3 1328.4 732.4 1324.3 732.5 1320.3 732.6 1316.3 732.8 1312.3 732.9 1308.3 733.0 1304.2 733.1 1300.2 733.2 1296.2 733.3 1292.2 733.4 1288.1 733.6 1284.1 733.7 1280.1 733.8 1276.1 734.0 1272.0 734.1 1268.0 734.2 1264.0 734.4 1260.0 734.5 1255.9 734.6 1251.9 734.8 1247.9 734.9 1243.9 735.0 1239.8 735.2 1235.8 735.3 1231.8 735.4 1227.8 735.5 1223.7 735.5 1219.7 735.6 1215.7Z" fill="#9bbfdd" stroke="#333333" stroke-width="3" stroke-linejoin="round"/>
<path d="M745.7 1214.0l-3 5.2h6zM742.1 1597.3l-3 5.2h6zM746.4 1597.3l-3 5.2h6zM738.7 1399.1l-3 5.2h6z" fill="#1F78B4"/>
<line x1="743.8" y1="1366.0" x2="743.8" y2="1602.0" stroke="#000" stroke-width="1.9"/>
<polygon points="743.8,1417.7 735.9,1431.4 751.7,1431.4" fill="#000"/>
<circle cx="714.4" cy="1602.5" r="6.2" fill="#000"/>
<path d="M798.5 1601.0 800.8 1601.9 801.0 1602.8 772.4 1602.8 772.6 1601.9 774.9 1601.0Z" fill="#9bbfdd" stroke="#333333" stroke-width="3" stroke-linejoin="round"/>
<path d="M817.2 1181.9 817.2 1185.9 817.2 1189.9 817.2 1193.9 817.2 1197.9 817.3 1201.9 817.3 1205.9 817.3 1209.9 817.3 1213.9 817.3 1217.9 817.3 1221.9 817.4 1225.9 817.4 1229.9 817.4 1233.9 817.4 1237.9 817.4 1241.9 817.5 1245.9 817.5 1249.9 817.5 1253.9 817.5 1257.9 817.6 1261.9 817.6 1265.9 817.6 1269.9 817.6 1273.9 817.6 1277.9 817.7 1281.9 817.7 1285.9 817.7 1289.9 817.7 1293.9 817.7 1297.9 817.8 1301.9 817.8 1305.9 817.8 1309.9 817.8 1313.9 817.8 1317.9 817.9 1321.9 817.9 1325.9 817.9 1329.9 817.9 1333.9 817.9 1337.9 817.9 1341.9 818.1 1345.9 818.5 1349.9 819.4 1353.9 820.5 1357.9 821.7 1361.9 822.9 1365.9 823.8 1369.9 824.7 1373.9 825.5 1377.9 826.2 1381.9 826.9 1385.9 827.5 1389.9 828.1 1394.0 828.7 1398.0 829.3 1402.0 829.8 1406.0 830.2 1410.0 830.4 1414.0 830.4 1418.0 830.2 1422.0 829.8 1426.0 829.4 1430.0 828.8 1434.0 828.3 1438.0 827.7 1442.0 827.0 1446.0 826.1 1450.0 825.2 1454.0 824.2 1458.0 823.4 1462.0 822.7 1466.0 822.0 1470.0 821.4 1474.0 820.9 1478.0 820.4 1482.0 820.2 1486.0 819.9 1490.0 819.6 1494.0 819.4 1498.0 819.1 1502.0 818.9 1506.0 818.7 1510.0 818.6 1514.0 818.4 1518.0 818.4 1522.0 818.3 1526.0 818.3 1530.0 818.2 1534.0 818.2 1538.0 818.2 1542.0 818.2 1546.0 818.2 1550.0 818.2 1554.0 818.2 1558.0 818.2 1562.0 818.2 1566.0 818.2 1570.0 818.2 1574.0 818.2 1578.0 818.2 1582.0 818.2 1586.0 818.2 1590.0 818.2 1594.0 818.2 1598.0 818.2 1602.0 814.0 1602.0 814.0 1598.0 814.0 1594.0 814.0 1590.0 814.0 1586.0 814.0 1582.0 814.0 1578.0 814.0 1574.0 814.0 1570.0 814.0 1566.0 814.0 1562.0 814.0 1558.0 814.0 1554.0 814.0 1550.0 814.0 1546.0 814.0 1542.0 814.0 1538.0 814.0 1534.0 813.9 1530.0 813.9 1526.0 813.8 1522.0 813.8 1518.0 813.6 1514.0 813.5 1510.0 813.3 1506.0 813.1 1502.0 812.8 1498.0 812.6 1494.0 812.3 1490.0 812.0 1486.0 811.8 1482.0 811.3 1478.0 810.8 1474.0 810.2 1470.0 809.5 1466.0 808.8 1462.0 808.0 1458.0 807.0 1454.0 806.1 1450.0 805.2 1446.0 804.5 1442.0 803.9 1438.0 803.4 1434.0 802.8 1430.0 802.4 1426.0 802.0 1422.0 801.8 1418.0 801.8 1414.0 802.0 1410.0 802.4 1406.0 802.9 1402.0 803.5 1398.0 804.1 1394.0 804.7 1389.9 805.3 1385.9 806.0 1381.9 806.7 1377.9 807.5 1373.9 808.4 1369.9 809.3 1365.9 810.5 1361.9 811.7 1357.9 812.8 1353.9 813.7 1349.9 814.1 1345.9 814.3 1341.9 814.3 1337.9 814.3 1333.9 814.3 1329.9 814.3 1325.9 814.3 1321.9 814.4 1317.9 814.4 1313.9 814.4 1309.9 814.4 1305.9 814.4 1301.9 814.5 1297.9 814.5 1293.9 814.5 1289.9 814.5 1285.9 814.5 1281.9 814.6 1277.9 814.6 1273.9 814.6 1269.9 814.6 1265.9 814.6 1261.9 814.7 1257.9 814.7 1253.9 814.7 1249.9 814.7 1245.9 814.8 1241.9 814.8 1237.9 814.8 1233.9 814.8 1229.9 814.8 1225.9 814.9 1221.9 814.9 1217.9 814.9 1213.9 814.9 1209.9 814.9 1205.9 814.9 1201.9 815.0 1197.9 815.0 1193.9 815.0 1189.9 815.0 1185.9 815.0 1181.9Z" fill="#9bbfdd" stroke="#333333" stroke-width="3" stroke-linejoin="round"/>
<path d="M815.4 1180.2l-3 5.2h6zM814.1 1597.3l-3 5.2h6zM812.5 1597.3l-3 5.2h6zM811.4 1597.3l-3 5.2h6zM809.1 1597.3l-3 5.2h6zM820.0 1394.2l-3 5.2h6zM824.5 1382.0l-3 5.2h6zM816.7 1245.0l-3 5.2h6zM809.1 1381.4l-3 5.2h6zM815.3 1239.0l-3 5.2h6zM820.0 1281.6l-3 5.2h6zM815.3 1577.0l-3 5.2h6zM822.0 1360.3l-3 5.2h6zM817.1 1453.4l-3 5.2h6zM808.8 1423.2l-3 5.2h6zM823.4 1397.3l-3 5.2h6zM815.7 1405.1l-3 5.2h6zM820.2 1392.5l-3 5.2h6zM811.9 1478.0l-3 5.2h6zM815.8 1482.4l-3 5.2h6zM817.7 1401.9l-3 5.2h6zM813.0 1430.2l-3 5.2h6zM821.4 1309.1l-3 5.2h6zM822.4 1452.1l-3 5.2h6zM809.6 1488.0l-3 5.2h6zM815.2 1411.4l-3 5.2h6zM818.9 1187.1l-3 5.2h6zM821.6 1470.5l-3 5.2h6zM824.7 1360.2l-3 5.2h6z" fill="#1F78B4"/>
<line x1="816.1" y1="1394.3" x2="816.1" y2="1478.9" stroke="#000" stroke-width="1.9"/>
<polygon points="816.1,1414.0 808.2,1427.7 824.0,1427.7" fill="#000"/>
<circle cx="786.7" cy="1602.5" r="6.2" fill="#000"/>
<path d="M859.4 1419.7 859.4 1423.8 859.4 1427.8 859.4 1431.9 859.4 1436.0 859.4 1440.0 859.4 1444.1 859.4 1448.2 859.4 1452.3 859.4 1456.3 859.4 1460.4 859.4 1464.5 859.4 1468.5 859.3 1472.6 859.3 1476.7 859.3 1480.7 859.3 1484.8 859.3 1488.9 859.3 1492.9 859.3 1497.0 859.3 1501.1 859.3 1505.1 859.3 1509.2 859.3 1513.3 859.3 1517.4 859.3 1521.4 859.3 1525.5 859.3 1529.6 859.3 1533.6 859.3 1537.7 859.3 1541.8 859.3 1545.8 859.3 1549.9 859.3 1554.0 859.4 1558.0 859.4 1562.1 859.4 1566.2 859.4 1570.2 859.6 1574.3 859.8 1578.4 860.4 1582.5 862.0 1586.5 864.7 1590.6 867.4 1594.7 871.0 1598.7 872.8 1602.8 845.2 1602.8 847.0 1598.7 850.6 1594.7 853.3 1590.6 856.0 1586.5 857.6 1582.5 858.2 1578.4 858.4 1574.3 858.6 1570.2 858.6 1566.2 858.6 1562.1 858.6 1558.0 858.7 1554.0 858.7 1549.9 858.7 1545.8 858.7 1541.8 858.7 1537.7 858.7 1533.6 858.7 1529.6 858.7 1525.5 858.7 1521.4 858.7 1517.4 858.7 1513.3 858.7 1509.2 858.7 1505.1 858.7 1501.1 858.7 1497.0 858.7 1492.9 858.7 1488.9 858.7 1484.8 858.7 1480.7 858.7 1476.7 858.7 1472.6 858.6 1468.5 858.6 1464.5 858.6 1460.4 858.6 1456.3 858.6 1452.3 858.6 1448.2 858.6 1444.1 858.6 1440.0 858.6 1436.0 858.6 1431.9 858.6 1427.8 858.6 1423.8 858.6 1419.7Z" fill="#9bbfdd" stroke="#333333" stroke-width="3" stroke-linejoin="round"/>
<path d="M890.2 1181.9 890.2 1185.9 890.2 1189.9 890.3 1193.9 890.3 1198.0 890.3 1202.0 890.3 1206.0 890.4 1210.0 890.4 1214.0 890.5 1218.0 890.5 1222.0 890.6 1226.0 890.6 1230.1 890.7 1234.1 890.7 1238.1 890.8 1242.1 890.9 1246.1 891.0 1250.1 891.1 1254.1 891.2 1258.1 891.4 1262.2 891.5 1266.2 891.7 1270.2 891.9 1274.2 892.1 1278.2 892.4 1282.2 892.6 1286.2 892.9 1290.3 893.2 1294.3 893.5 1298.3 893.8 1302.3 894.2 1306.3 894.6 1310.3 895.0 1314.3 895.5 1318.3 896.0 1322.4 896.5 1326.4 897.1 1330.4 897.6 1334.4 898.2 1338.4 898.7 1342.4 899.1 1346.4 899.5 1350.4 899.8 1354.5 900.1 1358.5 900.4 1362.5 900.6 1366.5 900.9 1370.5 901.0 1374.5 901.2 1378.5 901.4 1382.6 901.5 1386.6 901.7 1390.6 901.8 1394.6 901.9 1398.6 901.9 1402.6 901.8 1406.6 901.7 1410.6 901.6 1414.7 901.5 1418.7 901.3 1422.7 901.2 1426.7 901.0 1430.7 900.8 1434.7 900.6 1438.7 900.4 1442.7 900.2 1446.8 900.0 1450.8 899.7 1454.8 899.4 1458.8 899.2 1462.8 898.9 1466.8 898.6 1470.8 898.2 1474.8 897.9 1478.9 897.5 1482.9 897.1 1486.9 896.6 1490.9 896.1 1494.9 895.6 1498.9 895.1 1502.9 894.6 1507.0 894.2 1511.0 893.8 1515.0 893.4 1519.0 893.2 1523.0 893.0 1527.0 892.8 1531.0 892.6 1535.0 892.5 1539.1 892.4 1543.1 892.3 1547.1 892.2 1551.1 892.1 1555.1 892.0 1559.1 891.8 1563.1 891.7 1567.1 891.6 1571.2 891.5 1575.2 891.5 1579.2 891.4 1583.2 885.4 1583.2 885.3 1579.2 885.3 1575.2 885.2 1571.2 885.1 1567.1 885.0 1563.1 884.8 1559.1 884.7 1555.1 884.6 1551.1 884.5 1547.1 884.4 1543.1 884.3 1539.1 884.2 1535.0 884.0 1531.0 883.8 1527.0 883.6 1523.0 883.4 1519.0 883.0 1515.0 882.6 1511.0 882.2 1507.0 881.7 1502.9 881.2 1498.9 880.7 1494.9 880.2 1490.9 879.7 1486.9 879.3 1482.9 878.9 1478.9 878.6 1474.8 878.2 1470.8 877.9 1466.8 877.6 1462.8 877.4 1458.8 877.1 1454.8 876.8 1450.8 876.6 1446.8 876.4 1442.7 876.2 1438.7 876.0 1434.7 875.8 1430.7 875.6 1426.7 875.5 1422.7 875.3 1418.7 875.2 1414.7 875.1 1410.6 875.0 1406.6 874.9 1402.6 874.9 1398.6 875.0 1394.6 875.1 1390.6 875.3 1386.6 875.4 1382.6 875.6 1378.5 875.8 1374.5 875.9 1370.5 876.2 1366.5 876.4 1362.5 876.7 1358.5 877.0 1354.5 877.3 1350.4 877.7 1346.4 878.1 1342.4 878.6 1338.4 879.2 1334.4 879.7 1330.4 880.3 1326.4 880.8 1322.4 881.3 1318.3 881.8 1314.3 882.2 1310.3 882.6 1306.3 883.0 1302.3 883.3 1298.3 883.6 1294.3 883.9 1290.3 884.2 1286.2 884.4 1282.2 884.7 1278.2 884.9 1274.2 885.1 1270.2 885.3 1266.2 885.4 1262.2 885.6 1258.1 885.7 1254.1 885.8 1250.1 885.9 1246.1 886.0 1242.1 886.1 1238.1 886.1 1234.1 886.2 1230.1 886.2 1226.0 886.3 1222.0 886.3 1218.0 886.4 1214.0 886.4 1210.0 886.5 1206.0 886.5 1202.0 886.5 1198.0 886.5 1193.9 886.6 1189.9 886.6 1185.9 886.6 1181.9Z" fill="#9bbfdd" stroke="#333333" stroke-width="3" stroke-linejoin="round"/>
<path d="M890.1 1180.2l-3 5.2h6zM891.5 1578.5l-3 5.2h6zM881.2 1578.5l-3 5.2h6zM885.8 1578.5l-3 5.2h6zM887.8 1578.5l-3 5.2h6zM889.0 1578.5l-3 5.2h6zM891.3 1562.5l-3 5.2h6zM883.1 1367.3l-3 5.2h6zM887.6 1438.5l-3 5.2h6zM888.2 1222.7l-3 5.2h6zM886.9 1392.2l-3 5.2h6zM894.4 1507.9l-3 5.2h6zM896.4 1394.6l-3 5.2h6zM891.8 1566.7l-3 5.2h6zM881.1 1275.7l-3 5.2h6zM894.8 1353.3l-3 5.2h6zM889.3 1350.4l-3 5.2h6zM885.2 1318.3l-3 5.2h6zM890.5 1436.5l-3 5.2h6zM884.7 1513.3l-3 5.2h6zM884.4 1389.3l-3 5.2h6zM879.6 1361.2l-3 5.2h6zM880.7 1297.7l-3 5.2h6zM895.8 1350.4l-3 5.2h6zM895.2 1368.1l-3 5.2h6zM885.4 1431.5l-3 5.2h6zM893.2 1362.5l-3 5.2h6zM895.1 1394.2l-3 5.2h6zM896.2 1463.1l-3 5.2h6zM893.2 1336.8l-3 5.2h6zM889.5 1378.6l-3 5.2h6zM888.2 1420.1l-3 5.2h6zM886.5 1543.8l-3 5.2h6zM896.3 1527.8l-3 5.2h6zM884.0 1228.3l-3 5.2h6zM881.2 1364.8l-3 5.2h6zM883.2 1292.1l-3 5.2h6zM890.8 1364.2l-3 5.2h6z" fill="#1F78B4"/>
<line x1="888.4" y1="1358.6" x2="888.4" y2="1477.0" stroke="#000" stroke-width="1.9"/>
<polygon points="888.4,1393.3 880.5,1407.0 896.3,1407.0" fill="#000"/>
<circle cx="859.0" cy="1602.5" r="6.2" fill="#000"/>
<line x1="338.2" y1="1192.6" x2="917.2" y2="1192.6" stroke="#000" stroke-width="3.4" stroke-dasharray="3.4,10.6" stroke-dashoffset="0.0"/>
<line x1="338.2" y1="1592.3" x2="917.2" y2="1592.3" stroke="#000" stroke-width="3.4" stroke-dasharray="3.4,10.6" stroke-dashoffset="0.0"/>
<line x1="324.7" y1="1064.5" x2="324.7" y2="1644.9" stroke="#000" stroke-width="3.3"/>
<line x1="323.1" y1="1643.3" x2="917.2" y2="1643.3" stroke="#000" stroke-width="3.3"/>
<line x1="315.7" y1="1192.6" x2="324.7" y2="1192.6" stroke="#333" stroke-width="2.4"/>
<line x1="315.7" y1="1284.7" x2="324.7" y2="1284.7" stroke="#333" stroke-width="2.4"/>
<line x1="315.7" y1="1415.2" x2="324.7" y2="1415.2" stroke="#333" stroke-width="2.4"/>
<line x1="315.7" y1="1545.9" x2="324.7" y2="1545.9" stroke="#333" stroke-width="2.4"/>
<line x1="315.7" y1="1592.3" x2="324.7" y2="1592.3" stroke="#333" stroke-width="2.4"/>
<line x1="367.6" y1="1643.3" x2="367.6" y2="1652.3" stroke="#333" stroke-width="2.4"/>
<line x1="439.9" y1="1643.3" x2="439.9" y2="1652.3" stroke="#333" stroke-width="2.4"/>
<line x1="512.2" y1="1643.3" x2="512.2" y2="1652.3" stroke="#333" stroke-width="2.4"/>
<line x1="584.5" y1="1643.3" x2="584.5" y2="1652.3" stroke="#333" stroke-width="2.4"/>
<line x1="656.8" y1="1643.3" x2="656.8" y2="1652.3" stroke="#333" stroke-width="2.4"/>
<line x1="729.1" y1="1643.3" x2="729.1" y2="1652.3" stroke="#333" stroke-width="2.4"/>
<line x1="801.4" y1="1643.3" x2="801.4" y2="1652.3" stroke="#333" stroke-width="2.4"/>
<line x1="873.7" y1="1643.3" x2="873.7" y2="1652.3" stroke="#333" stroke-width="2.4"/>
<text transform="translate(306.4,1204.1) scale(0.990,1.000)" font-size="32.4" fill="#4d4d4d" text-anchor="end" font-weight="normal" >&gt;2560</text>
<text transform="translate(306.4,1296.2) scale(0.990,1.000)" font-size="32.4" fill="#4d4d4d" text-anchor="end" font-weight="normal" >1024</text>
<text transform="translate(306.4,1426.7) scale(0.990,1.000)" font-size="32.4" fill="#4d4d4d" text-anchor="end" font-weight="normal" >256</text>
<text transform="translate(306.4,1557.4) scale(0.990,1.000)" font-size="32.4" fill="#4d4d4d" text-anchor="end" font-weight="normal" >64</text>
<text transform="translate(306.4,1603.8) scale(0.990,1.000)" font-size="32.4" fill="#4d4d4d" text-anchor="end" font-weight="normal" >&lt;40</text>
<text transform="translate(476.9,1101.0) scale(1.000,1.060)" font-size="29.8" fill="#000" text-anchor="start" font-weight="normal" >Kruskal-Wallis p=0.29</text>
<text transform="translate(616.0,1013.0) scale(0.985,1.055)" font-size="47.0" fill="#1a1a1a" text-anchor="middle" font-weight="bold" >WT</text>
<path d="M1029.6 1601.0 1031.9 1601.9 1032.1 1602.8 1003.5 1602.8 1003.7 1601.9 1006.0 1601.0Z" fill="#a5d3a0" stroke="#333333" stroke-width="3" stroke-linejoin="round"/>
<path d="M1048.0 1181.9 1048.0 1185.9 1048.0 1189.9 1048.0 1193.9 1048.0 1197.9 1048.0 1201.9 1048.0 1205.9 1048.0 1209.9 1048.0 1213.9 1048.0 1217.9 1048.0 1221.9 1048.0 1225.9 1048.0 1229.9 1048.0 1233.9 1047.9 1237.9 1047.9 1241.9 1047.9 1245.9 1047.9 1249.9 1047.9 1253.9 1047.9 1257.9 1047.9 1261.9 1047.9 1265.9 1047.9 1269.9 1048.0 1273.9 1048.0 1277.9 1048.0 1281.9 1048.0 1285.9 1048.0 1289.9 1048.0 1293.9 1048.1 1297.9 1048.1 1301.9 1048.2 1305.9 1048.3 1309.9 1048.4 1313.9 1048.5 1317.9 1048.6 1321.9 1048.7 1325.9 1048.8 1329.9 1048.9 1333.9 1049.0 1337.9 1049.1 1341.9 1049.3 1345.9 1049.4 1349.9 1049.5 1353.9 1049.7 1357.9 1049.8 1361.9 1049.9 1365.9 1050.1 1369.9 1050.2 1373.9 1050.3 1377.9 1050.4 1381.9 1050.6 1385.9 1050.7 1389.9 1050.8 1394.0 1050.9 1398.0 1051.1 1402.0 1051.2 1406.0 1051.3 1410.0 1051.4 1414.0 1051.5 1418.0 1051.6 1422.0 1051.7 1426.0 1051.8 1430.0 1051.9 1434.0 1052.0 1438.0 1052.1 1442.0 1052.2 1446.0 1052.3 1450.0 1052.4 1454.0 1052.5 1458.0 1052.6 1462.0 1052.8 1466.0 1052.9 1470.0 1053.0 1474.0 1053.2 1478.0 1053.3 1482.0 1053.5 1486.0 1053.7 1490.0 1053.9 1494.0 1054.1 1498.0 1054.4 1502.0 1054.7 1506.0 1055.1 1510.0 1055.4 1514.0 1055.8 1518.0 1056.3 1522.0 1056.7 1526.0 1057.1 1530.0 1057.4 1534.0 1057.8 1538.0 1058.1 1542.0 1058.5 1546.0 1058.8 1550.0 1059.2 1554.0 1059.5 1558.0 1059.8 1562.0 1060.1 1566.0 1060.4 1570.0 1060.6 1574.0 1060.8 1578.0 1060.9 1582.0 1061.0 1586.0 1061.0 1590.0 1061.0 1594.0 1061.0 1598.0 1061.0 1602.0 1033.4 1602.0 1033.4 1598.0 1033.4 1594.0 1033.4 1590.0 1033.4 1586.0 1033.5 1582.0 1033.6 1578.0 1033.8 1574.0 1034.0 1570.0 1034.3 1566.0 1034.6 1562.0 1034.9 1558.0 1035.2 1554.0 1035.6 1550.0 1035.9 1546.0 1036.3 1542.0 1036.6 1538.0 1037.0 1534.0 1037.3 1530.0 1037.7 1526.0 1038.1 1522.0 1038.6 1518.0 1039.0 1514.0 1039.3 1510.0 1039.7 1506.0 1040.0 1502.0 1040.3 1498.0 1040.5 1494.0 1040.7 1490.0 1040.9 1486.0 1041.1 1482.0 1041.2 1478.0 1041.4 1474.0 1041.5 1470.0 1041.6 1466.0 1041.8 1462.0 1041.9 1458.0 1042.0 1454.0 1042.1 1450.0 1042.2 1446.0 1042.3 1442.0 1042.4 1438.0 1042.5 1434.0 1042.6 1430.0 1042.7 1426.0 1042.8 1422.0 1042.9 1418.0 1043.0 1414.0 1043.1 1410.0 1043.2 1406.0 1043.3 1402.0 1043.5 1398.0 1043.6 1394.0 1043.7 1389.9 1043.8 1385.9 1044.0 1381.9 1044.1 1377.9 1044.2 1373.9 1044.3 1369.9 1044.5 1365.9 1044.6 1361.9 1044.7 1357.9 1044.9 1353.9 1045.0 1349.9 1045.1 1345.9 1045.3 1341.9 1045.4 1337.9 1045.5 1333.9 1045.6 1329.9 1045.7 1325.9 1045.8 1321.9 1045.9 1317.9 1046.0 1313.9 1046.1 1309.9 1046.2 1305.9 1046.3 1301.9 1046.3 1297.9 1046.4 1293.9 1046.4 1289.9 1046.4 1285.9 1046.4 1281.9 1046.4 1277.9 1046.4 1273.9 1046.5 1269.9 1046.5 1265.9 1046.5 1261.9 1046.5 1257.9 1046.5 1253.9 1046.5 1249.9 1046.5 1245.9 1046.5 1241.9 1046.5 1237.9 1046.4 1233.9 1046.4 1229.9 1046.4 1225.9 1046.4 1221.9 1046.4 1217.9 1046.4 1213.9 1046.4 1209.9 1046.4 1205.9 1046.4 1201.9 1046.4 1197.9 1046.4 1193.9 1046.4 1189.9 1046.4 1185.9 1046.4 1181.9Z" fill="#a5d3a0" stroke="#333333" stroke-width="3" stroke-linejoin="round"/>
<path d="M1046.5 1180.2l-3 5.2h6zM1043.1 1597.3l-3 5.2h6zM1044.8 1597.3l-3 5.2h6zM1044.7 1597.3l-3 5.2h6zM1049.6 1597.3l-3 5.2h6zM1051.3 1361.3l-3 5.2h6zM1045.6 1525.6l-3 5.2h6zM1053.0 1547.4l-3 5.2h6zM1056.1 1397.2l-3 5.2h6zM1049.7 1393.8l-3 5.2h6zM1047.9 1403.2l-3 5.2h6zM1039.4 1500.3l-3 5.2h6zM1043.9 1561.9l-3 5.2h6zM1046.9 1355.2l-3 5.2h6zM1049.8 1455.3l-3 5.2h6zM1045.5 1476.1l-3 5.2h6zM1041.9 1316.7l-3 5.2h6zM1049.6 1263.9l-3 5.2h6zM1043.7 1588.2l-3 5.2h6zM1040.5 1553.1l-3 5.2h6zM1050.8 1302.8l-3 5.2h6zM1052.2 1538.2l-3 5.2h6zM1038.8 1591.5l-3 5.2h6zM1045.6 1432.4l-3 5.2h6zM1042.5 1473.5l-3 5.2h6zM1045.2 1364.7l-3 5.2h6zM1054.3 1343.1l-3 5.2h6zM1048.3 1563.0l-3 5.2h6zM1052.3 1418.8l-3 5.2h6zM1043.5 1491.4l-3 5.2h6zM1042.4 1564.0l-3 5.2h6z" fill="#33A02C"/>
<line x1="1047.2" y1="1437.5" x2="1047.2" y2="1602.0" stroke="#000" stroke-width="1.9"/>
<polygon points="1047.2,1581.3 1039.3,1595.0 1055.1,1595.0" fill="#000"/>
<circle cx="1017.8" cy="1602.5" r="6.2" fill="#000"/>
<path d="M1101.9 1601.0 1104.2 1601.9 1104.4 1602.8 1075.8 1602.8 1076.0 1601.9 1078.3 1601.0Z" fill="#a5d3a0" stroke="#333333" stroke-width="3" stroke-linejoin="round"/>
<path d="M1121.3 1301.2 1121.3 1305.2 1121.3 1309.2 1121.2 1313.2 1121.2 1317.2 1121.1 1321.3 1121.1 1325.3 1121.1 1329.3 1121.0 1333.3 1121.0 1337.3 1121.0 1341.3 1121.1 1345.3 1121.1 1349.3 1121.4 1353.3 1121.7 1357.3 1122.1 1361.4 1122.5 1365.4 1122.9 1369.4 1123.1 1373.4 1123.3 1377.4 1123.5 1381.4 1123.8 1385.4 1124.0 1389.4 1124.3 1393.4 1124.5 1397.5 1124.7 1401.5 1124.9 1405.5 1125.1 1409.5 1125.2 1413.5 1125.4 1417.5 1125.5 1421.5 1125.6 1425.5 1125.8 1429.5 1125.9 1433.6 1126.1 1437.6 1126.2 1441.6 1126.4 1445.6 1126.6 1449.6 1126.8 1453.6 1127.1 1457.6 1127.3 1461.6 1127.5 1465.6 1127.8 1469.6 1128.1 1473.7 1128.4 1477.7 1128.7 1481.7 1129.0 1485.7 1129.4 1489.7 1129.8 1493.7 1130.3 1497.7 1130.7 1501.7 1131.1 1505.7 1131.5 1509.8 1131.9 1513.8 1132.2 1517.8 1132.5 1521.8 1132.7 1525.8 1133.0 1529.8 1133.1 1533.8 1133.2 1537.8 1133.3 1541.8 1133.3 1545.9 1133.3 1549.9 1133.1 1553.9 1132.9 1557.9 1132.7 1561.9 1132.5 1565.9 1132.2 1569.9 1131.9 1573.9 1131.7 1577.9 1131.4 1581.9 1131.1 1586.0 1130.7 1590.0 1130.4 1594.0 1130.2 1598.0 1130.0 1602.0 1109.0 1602.0 1108.8 1598.0 1108.6 1594.0 1108.3 1590.0 1107.9 1586.0 1107.6 1581.9 1107.3 1577.9 1107.1 1573.9 1106.8 1569.9 1106.5 1565.9 1106.3 1561.9 1106.1 1557.9 1105.9 1553.9 1105.7 1549.9 1105.7 1545.9 1105.7 1541.8 1105.8 1537.8 1105.9 1533.8 1106.0 1529.8 1106.3 1525.8 1106.5 1521.8 1106.8 1517.8 1107.1 1513.8 1107.5 1509.8 1107.9 1505.7 1108.3 1501.7 1108.7 1497.7 1109.2 1493.7 1109.6 1489.7 1110.0 1485.7 1110.3 1481.7 1110.6 1477.7 1110.9 1473.7 1111.2 1469.6 1111.5 1465.6 1111.7 1461.6 1111.9 1457.6 1112.2 1453.6 1112.4 1449.6 1112.6 1445.6 1112.8 1441.6 1112.9 1437.6 1113.1 1433.6 1113.2 1429.5 1113.4 1425.5 1113.5 1421.5 1113.6 1417.5 1113.8 1413.5 1113.9 1409.5 1114.1 1405.5 1114.3 1401.5 1114.5 1397.5 1114.7 1393.4 1115.0 1389.4 1115.2 1385.4 1115.5 1381.4 1115.7 1377.4 1115.9 1373.4 1116.1 1369.4 1116.5 1365.4 1116.9 1361.4 1117.3 1357.3 1117.6 1353.3 1117.9 1349.3 1117.9 1345.3 1118.0 1341.3 1118.0 1337.3 1118.0 1333.3 1117.9 1329.3 1117.9 1325.3 1117.9 1321.3 1117.8 1317.2 1117.8 1313.2 1117.7 1309.2 1117.7 1305.2 1117.7 1301.2Z" fill="#a5d3a0" stroke="#333333" stroke-width="3" stroke-linejoin="round"/>
<path d="M1118.3 1299.5l-3 5.2h6zM1122.5 1597.3l-3 5.2h6zM1113.8 1597.3l-3 5.2h6zM1114.0 1597.3l-3 5.2h6zM1127.9 1597.3l-3 5.2h6zM1124.1 1439.7l-3 5.2h6zM1116.5 1520.5l-3 5.2h6zM1119.3 1481.3l-3 5.2h6zM1127.6 1521.6l-3 5.2h6zM1121.5 1469.9l-3 5.2h6zM1120.0 1334.6l-3 5.2h6zM1117.2 1530.8l-3 5.2h6zM1117.7 1562.6l-3 5.2h6zM1126.4 1303.5l-3 5.2h6zM1125.4 1379.2l-3 5.2h6zM1120.9 1518.0l-3 5.2h6zM1112.3 1523.3l-3 5.2h6zM1113.1 1433.6l-3 5.2h6zM1128.2 1510.1l-3 5.2h6zM1111.5 1403.5l-3 5.2h6zM1118.2 1360.8l-3 5.2h6zM1110.7 1560.8l-3 5.2h6zM1127.3 1562.3l-3 5.2h6zM1112.2 1572.3l-3 5.2h6zM1119.9 1594.7l-3 5.2h6zM1121.1 1386.2l-3 5.2h6zM1113.5 1510.0l-3 5.2h6zM1122.6 1451.6l-3 5.2h6zM1110.8 1509.6l-3 5.2h6zM1113.6 1532.8l-3 5.2h6zM1125.0 1563.8l-3 5.2h6zM1120.4 1529.1l-3 5.2h6z" fill="#33A02C"/>
<line x1="1119.5" y1="1467.6" x2="1119.5" y2="1563.5" stroke="#000" stroke-width="1.9"/>
<polygon points="1119.5,1517.4 1111.6,1531.1 1127.4,1531.1" fill="#000"/>
<circle cx="1090.1" cy="1602.5" r="6.2" fill="#000"/>
<path d="M1174.2 1601.0 1176.5 1601.9 1176.7 1602.8 1148.1 1602.8 1148.3 1601.9 1150.6 1601.0Z" fill="#a5d3a0" stroke="#333333" stroke-width="3" stroke-linejoin="round"/>
<path d="M1193.1 1305.9 1193.2 1309.9 1193.2 1313.9 1193.3 1317.9 1193.4 1321.9 1193.5 1325.9 1193.6 1329.9 1193.7 1333.9 1193.9 1337.9 1194.0 1341.9 1194.1 1345.9 1194.2 1349.9 1194.3 1353.9 1194.4 1357.9 1194.5 1361.9 1194.6 1365.9 1194.7 1369.9 1194.8 1373.9 1194.9 1377.9 1195.0 1381.9 1195.1 1385.9 1195.3 1389.9 1195.4 1393.9 1195.5 1397.9 1195.7 1401.9 1195.8 1405.9 1196.0 1409.9 1196.2 1413.9 1196.3 1417.9 1196.6 1421.9 1196.8 1425.9 1197.0 1429.9 1197.2 1433.9 1197.4 1437.9 1197.6 1441.9 1197.8 1445.9 1198.0 1449.9 1198.2 1454.0 1198.4 1458.0 1198.6 1462.0 1198.8 1466.0 1199.1 1470.0 1199.3 1474.0 1199.5 1478.0 1199.6 1482.0 1199.8 1486.0 1200.0 1490.0 1200.2 1494.0 1200.4 1498.0 1200.6 1502.0 1200.9 1506.0 1201.1 1510.0 1201.4 1514.0 1201.6 1518.0 1201.9 1522.0 1202.1 1526.0 1202.4 1530.0 1202.6 1534.0 1202.9 1538.0 1203.1 1542.0 1203.3 1546.0 1203.5 1550.0 1203.8 1554.0 1204.0 1558.0 1204.2 1562.0 1204.4 1566.0 1204.5 1570.0 1204.7 1574.0 1204.8 1578.0 1204.9 1582.0 1205.0 1586.0 1205.0 1590.0 1205.0 1594.0 1205.0 1598.0 1205.0 1602.0 1178.6 1602.0 1178.6 1598.0 1178.6 1594.0 1178.6 1590.0 1178.6 1586.0 1178.7 1582.0 1178.8 1578.0 1178.9 1574.0 1179.1 1570.0 1179.2 1566.0 1179.4 1562.0 1179.6 1558.0 1179.8 1554.0 1180.1 1550.0 1180.3 1546.0 1180.5 1542.0 1180.7 1538.0 1181.0 1534.0 1181.2 1530.0 1181.5 1526.0 1181.7 1522.0 1182.0 1518.0 1182.2 1514.0 1182.5 1510.0 1182.7 1506.0 1183.0 1502.0 1183.2 1498.0 1183.4 1494.0 1183.6 1490.0 1183.8 1486.0 1184.0 1482.0 1184.1 1478.0 1184.3 1474.0 1184.5 1470.0 1184.8 1466.0 1185.0 1462.0 1185.2 1458.0 1185.4 1454.0 1185.6 1449.9 1185.8 1445.9 1186.0 1441.9 1186.2 1437.9 1186.4 1433.9 1186.6 1429.9 1186.8 1425.9 1187.0 1421.9 1187.3 1417.9 1187.4 1413.9 1187.6 1409.9 1187.8 1405.9 1187.9 1401.9 1188.1 1397.9 1188.2 1393.9 1188.3 1389.9 1188.5 1385.9 1188.6 1381.9 1188.7 1377.9 1188.8 1373.9 1188.9 1369.9 1189.0 1365.9 1189.1 1361.9 1189.2 1357.9 1189.3 1353.9 1189.4 1349.9 1189.5 1345.9 1189.6 1341.9 1189.7 1337.9 1189.9 1333.9 1190.0 1329.9 1190.1 1325.9 1190.2 1321.9 1190.3 1317.9 1190.4 1313.9 1190.4 1309.9 1190.5 1305.9Z" fill="#a5d3a0" stroke="#333333" stroke-width="3" stroke-linejoin="round"/>
<path d="M1192.7 1304.2l-3 5.2h6zM1193.5 1597.3l-3 5.2h6zM1192.3 1597.3l-3 5.2h6zM1192.6 1597.3l-3 5.2h6zM1196.5 1597.3l-3 5.2h6zM1192.3 1480.0l-3 5.2h6zM1187.5 1517.1l-3 5.2h6zM1196.0 1580.6l-3 5.2h6zM1190.6 1585.6l-3 5.2h6zM1192.2 1525.4l-3 5.2h6zM1188.4 1420.8l-3 5.2h6zM1200.4 1424.6l-3 5.2h6zM1185.9 1499.6l-3 5.2h6zM1187.3 1546.3l-3 5.2h6zM1192.8 1562.9l-3 5.2h6zM1197.0 1405.8l-3 5.2h6zM1195.5 1304.8l-3 5.2h6zM1192.3 1567.6l-3 5.2h6zM1192.6 1556.2l-3 5.2h6zM1185.5 1462.9l-3 5.2h6zM1197.5 1573.7l-3 5.2h6zM1195.5 1583.9l-3 5.2h6zM1198.9 1573.7l-3 5.2h6zM1199.9 1496.5l-3 5.2h6zM1189.9 1533.9l-3 5.2h6zM1197.0 1580.0l-3 5.2h6zM1196.3 1518.8l-3 5.2h6zM1183.0 1430.4l-3 5.2h6zM1189.3 1582.1l-3 5.2h6zM1187.0 1580.0l-3 5.2h6z" fill="#33A02C"/>
<line x1="1191.8" y1="1477.0" x2="1191.8" y2="1602.0" stroke="#000" stroke-width="1.9"/>
<polygon points="1191.8,1539.9 1183.9,1553.6 1199.7,1553.6" fill="#000"/>
<circle cx="1162.4" cy="1602.5" r="6.2" fill="#000"/>
<path d="M1246.5 1601.0 1248.8 1601.9 1249.0 1602.8 1220.4 1602.8 1220.6 1601.9 1222.9 1601.0Z" fill="#a5d3a0" stroke="#333333" stroke-width="3" stroke-linejoin="round"/>
<path d="M1271.8 1420.6 1272.4 1424.6 1273.3 1428.7 1274.3 1432.7 1275.3 1436.7 1276.2 1440.8 1276.6 1444.8 1276.9 1448.8 1277.1 1452.8 1277.3 1456.9 1277.4 1460.9 1277.5 1464.9 1277.5 1469.0 1277.5 1473.0 1277.5 1477.0 1277.5 1481.1 1277.4 1485.1 1277.2 1489.1 1277.0 1493.2 1276.7 1497.2 1276.4 1501.2 1276.2 1505.3 1275.9 1509.3 1275.7 1513.3 1275.6 1517.3 1275.6 1521.4 1275.6 1525.4 1275.7 1529.4 1275.9 1533.5 1276.0 1537.5 1276.2 1541.5 1276.3 1545.6 1276.4 1549.6 1276.5 1553.6 1276.5 1557.7 1276.4 1561.7 1276.2 1565.7 1275.9 1569.8 1275.7 1573.8 1275.4 1577.8 1275.2 1581.8 1275.0 1585.9 1274.7 1589.9 1274.5 1593.9 1274.3 1598.0 1274.2 1602.0 1254.0 1602.0 1253.9 1598.0 1253.7 1593.9 1253.5 1589.9 1253.2 1585.9 1253.0 1581.8 1252.8 1577.8 1252.5 1573.8 1252.3 1569.8 1252.0 1565.7 1251.8 1561.7 1251.7 1557.7 1251.7 1553.6 1251.8 1549.6 1251.9 1545.6 1252.0 1541.5 1252.2 1537.5 1252.3 1533.5 1252.5 1529.4 1252.6 1525.4 1252.6 1521.4 1252.6 1517.3 1252.5 1513.3 1252.3 1509.3 1252.0 1505.3 1251.8 1501.2 1251.5 1497.2 1251.2 1493.2 1251.0 1489.1 1250.8 1485.1 1250.7 1481.1 1250.7 1477.0 1250.7 1473.0 1250.7 1469.0 1250.7 1464.9 1250.8 1460.9 1250.9 1456.9 1251.1 1452.8 1251.3 1448.8 1251.6 1444.8 1252.0 1440.8 1252.9 1436.7 1253.9 1432.7 1254.9 1428.7 1255.8 1424.6 1256.4 1420.6Z" fill="#a5d3a0" stroke="#333333" stroke-width="3" stroke-linejoin="round"/>
<path d="M1264.6 1418.9l-3 5.2h6zM1261.5 1597.3l-3 5.2h6zM1268.1 1597.3l-3 5.2h6zM1272.0 1597.3l-3 5.2h6zM1260.3 1597.3l-3 5.2h6zM1266.6 1460.0l-3 5.2h6zM1263.0 1423.4l-3 5.2h6zM1261.4 1585.2l-3 5.2h6zM1263.0 1451.2l-3 5.2h6zM1268.9 1465.0l-3 5.2h6zM1265.3 1596.2l-3 5.2h6zM1272.0 1439.7l-3 5.2h6zM1260.1 1478.5l-3 5.2h6zM1266.8 1439.9l-3 5.2h6zM1255.9 1430.4l-3 5.2h6zM1263.6 1499.9l-3 5.2h6zM1258.7 1554.9l-3 5.2h6zM1265.9 1558.5l-3 5.2h6zM1270.3 1556.3l-3 5.2h6zM1263.9 1576.7l-3 5.2h6zM1269.1 1582.7l-3 5.2h6zM1268.6 1556.9l-3 5.2h6zM1265.5 1465.7l-3 5.2h6zM1260.9 1523.7l-3 5.2h6zM1258.2 1591.8l-3 5.2h6zM1265.9 1512.7l-3 5.2h6zM1266.8 1572.0l-3 5.2h6zM1272.3 1584.6l-3 5.2h6zM1270.5 1450.9l-3 5.2h6zM1266.0 1418.3l-3 5.2h6z" fill="#33A02C"/>
<line x1="1264.1" y1="1458.2" x2="1264.1" y2="1561.6" stroke="#000" stroke-width="1.9"/>
<polygon points="1264.1,1527.7 1256.2,1541.4 1272.0,1541.4" fill="#000"/>
<circle cx="1234.7" cy="1602.5" r="6.2" fill="#000"/>
<path d="M1318.8 1601.0 1321.1 1601.9 1321.3 1602.8 1292.7 1602.8 1292.9 1601.9 1295.2 1601.0Z" fill="#a5d3a0" stroke="#333333" stroke-width="3" stroke-linejoin="round"/>
<path d="M1337.2 1181.9 1337.2 1185.9 1337.2 1189.9 1337.2 1193.9 1337.2 1197.9 1337.2 1201.9 1337.2 1205.9 1337.2 1209.9 1337.1 1213.9 1337.1 1217.9 1337.1 1221.9 1337.1 1225.9 1337.1 1229.9 1337.1 1233.9 1337.1 1237.9 1337.1 1241.9 1337.1 1245.9 1337.1 1249.9 1337.1 1253.9 1337.1 1257.9 1337.1 1261.9 1337.1 1265.9 1337.1 1269.9 1337.1 1273.9 1337.2 1277.9 1337.2 1281.9 1337.3 1285.9 1337.5 1289.9 1337.8 1293.9 1338.0 1297.9 1338.3 1301.9 1338.6 1305.9 1338.9 1309.9 1339.1 1313.9 1339.3 1317.9 1339.4 1321.9 1339.6 1325.9 1339.7 1329.9 1339.9 1333.9 1340.0 1337.9 1340.2 1341.9 1340.3 1345.9 1340.4 1349.9 1340.5 1353.9 1340.5 1357.9 1340.6 1361.9 1340.6 1365.9 1340.7 1369.9 1340.7 1373.9 1340.7 1377.9 1340.8 1381.9 1340.8 1385.9 1340.9 1389.9 1341.0 1394.0 1341.1 1398.0 1341.2 1402.0 1341.3 1406.0 1341.6 1410.0 1341.9 1414.0 1342.2 1418.0 1342.5 1422.0 1342.9 1426.0 1343.3 1430.0 1343.7 1434.0 1344.1 1438.0 1344.5 1442.0 1344.9 1446.0 1345.4 1450.0 1345.8 1454.0 1346.3 1458.0 1346.8 1462.0 1347.3 1466.0 1347.8 1470.0 1348.2 1474.0 1348.6 1478.0 1348.9 1482.0 1349.3 1486.0 1349.6 1490.0 1349.8 1494.0 1350.0 1498.0 1350.1 1502.0 1350.2 1506.0 1350.2 1510.0 1350.1 1514.0 1349.9 1518.0 1349.7 1522.0 1349.4 1526.0 1349.1 1530.0 1348.7 1534.0 1348.3 1538.0 1348.0 1542.0 1347.6 1546.0 1347.2 1550.0 1346.8 1554.0 1346.4 1558.0 1345.9 1562.0 1345.5 1566.0 1345.1 1570.0 1344.7 1574.0 1344.1 1578.0 1343.5 1582.0 1342.9 1586.0 1342.3 1590.0 1341.8 1594.0 1341.3 1598.0 1341.0 1602.0 1331.8 1602.0 1331.5 1598.0 1331.0 1594.0 1330.5 1590.0 1329.9 1586.0 1329.3 1582.0 1328.7 1578.0 1328.1 1574.0 1327.7 1570.0 1327.3 1566.0 1326.9 1562.0 1326.4 1558.0 1326.0 1554.0 1325.6 1550.0 1325.2 1546.0 1324.8 1542.0 1324.5 1538.0 1324.1 1534.0 1323.7 1530.0 1323.4 1526.0 1323.1 1522.0 1322.9 1518.0 1322.7 1514.0 1322.6 1510.0 1322.6 1506.0 1322.7 1502.0 1322.8 1498.0 1323.0 1494.0 1323.2 1490.0 1323.5 1486.0 1323.9 1482.0 1324.2 1478.0 1324.6 1474.0 1325.0 1470.0 1325.5 1466.0 1326.0 1462.0 1326.5 1458.0 1327.0 1454.0 1327.4 1450.0 1327.9 1446.0 1328.3 1442.0 1328.7 1438.0 1329.1 1434.0 1329.5 1430.0 1329.9 1426.0 1330.3 1422.0 1330.6 1418.0 1330.9 1414.0 1331.2 1410.0 1331.5 1406.0 1331.6 1402.0 1331.7 1398.0 1331.8 1394.0 1331.9 1389.9 1332.0 1385.9 1332.0 1381.9 1332.1 1377.9 1332.1 1373.9 1332.1 1369.9 1332.2 1365.9 1332.2 1361.9 1332.3 1357.9 1332.3 1353.9 1332.4 1349.9 1332.5 1345.9 1332.6 1341.9 1332.8 1337.9 1332.9 1333.9 1333.1 1329.9 1333.2 1325.9 1333.4 1321.9 1333.5 1317.9 1333.7 1313.9 1333.9 1309.9 1334.2 1305.9 1334.5 1301.9 1334.8 1297.9 1335.0 1293.9 1335.3 1289.9 1335.5 1285.9 1335.6 1281.9 1335.6 1277.9 1335.7 1273.9 1335.7 1269.9 1335.7 1265.9 1335.7 1261.9 1335.7 1257.9 1335.7 1253.9 1335.7 1249.9 1335.7 1245.9 1335.7 1241.9 1335.7 1237.9 1335.7 1233.9 1335.7 1229.9 1335.7 1225.9 1335.7 1221.9 1335.7 1217.9 1335.7 1213.9 1335.6 1209.9 1335.6 1205.9 1335.6 1201.9 1335.6 1197.9 1335.6 1193.9 1335.6 1189.9 1335.6 1185.9 1335.6 1181.9Z" fill="#a5d3a0" stroke="#333333" stroke-width="3" stroke-linejoin="round"/>
<path d="M1336.5 1180.2l-3 5.2h6zM1332.8 1597.3l-3 5.2h6zM1334.9 1597.3l-3 5.2h6zM1330.7 1597.3l-3 5.2h6zM1344.5 1597.3l-3 5.2h6zM1338.7 1597.3l-3 5.2h6zM1334.4 1547.8l-3 5.2h6zM1332.9 1369.3l-3 5.2h6zM1335.3 1310.7l-3 5.2h6zM1335.8 1538.5l-3 5.2h6zM1344.3 1558.1l-3 5.2h6zM1332.8 1460.7l-3 5.2h6zM1344.6 1556.3l-3 5.2h6zM1331.7 1340.5l-3 5.2h6zM1342.6 1519.7l-3 5.2h6zM1341.5 1474.9l-3 5.2h6zM1330.9 1230.3l-3 5.2h6zM1343.2 1567.2l-3 5.2h6zM1330.1 1536.9l-3 5.2h6zM1331.5 1467.1l-3 5.2h6zM1337.7 1503.3l-3 5.2h6zM1343.9 1463.7l-3 5.2h6zM1340.8 1592.2l-3 5.2h6zM1331.4 1487.2l-3 5.2h6zM1341.4 1234.9l-3 5.2h6zM1341.5 1543.6l-3 5.2h6zM1342.6 1510.1l-3 5.2h6zM1343.3 1509.6l-3 5.2h6zM1344.8 1529.4l-3 5.2h6zM1327.8 1335.7l-3 5.2h6zM1341.3 1573.4l-3 5.2h6zM1330.1 1479.2l-3 5.2h6zM1337.8 1496.7l-3 5.2h6zM1331.5 1460.8l-3 5.2h6zM1335.3 1503.7l-3 5.2h6zM1337.5 1483.6l-3 5.2h6z" fill="#33A02C"/>
<line x1="1336.4" y1="1433.8" x2="1336.4" y2="1537.0" stroke="#000" stroke-width="1.9"/>
<polygon points="1336.4,1479.8 1328.5,1493.5 1344.3,1493.5" fill="#000"/>
<circle cx="1307.0" cy="1602.5" r="6.2" fill="#000"/>
<path d="M1391.1 1601.0 1393.4 1601.9 1393.6 1602.8 1365.0 1602.8 1365.2 1601.9 1367.5 1601.0Z" fill="#a5d3a0" stroke="#333333" stroke-width="3" stroke-linejoin="round"/>
<path d="M1416.2 1355.8 1416.3 1359.8 1416.4 1363.9 1416.5 1367.9 1416.6 1371.9 1416.7 1376.0 1416.8 1380.0 1416.9 1384.1 1417.1 1388.1 1417.2 1392.1 1417.4 1396.2 1417.6 1400.2 1417.7 1404.2 1417.9 1408.3 1418.0 1412.3 1418.1 1416.3 1418.3 1420.4 1418.4 1424.4 1418.6 1428.4 1418.7 1432.5 1418.9 1436.5 1419.1 1440.6 1419.2 1444.6 1419.4 1448.6 1419.5 1452.7 1419.7 1456.7 1419.8 1460.7 1420.0 1464.8 1420.1 1468.8 1420.3 1472.8 1420.4 1476.9 1420.5 1480.9 1420.6 1485.0 1420.7 1489.0 1420.8 1493.0 1420.9 1497.1 1421.0 1501.1 1421.1 1505.1 1421.2 1509.2 1421.3 1513.2 1421.3 1517.2 1421.4 1521.3 1421.5 1525.3 1421.6 1529.4 1421.6 1533.4 1421.7 1537.4 1421.7 1541.5 1421.8 1545.5 1421.8 1549.5 1421.9 1553.6 1421.9 1557.6 1422.0 1561.6 1422.0 1565.7 1422.0 1569.7 1422.0 1573.7 1422.0 1577.8 1422.0 1581.8 1422.0 1585.9 1421.9 1589.9 1421.9 1593.9 1421.9 1598.0 1421.9 1602.0 1395.5 1602.0 1395.5 1598.0 1395.5 1593.9 1395.5 1589.9 1395.4 1585.9 1395.4 1581.8 1395.4 1577.8 1395.4 1573.7 1395.4 1569.7 1395.4 1565.7 1395.4 1561.6 1395.5 1557.6 1395.5 1553.6 1395.6 1549.5 1395.6 1545.5 1395.7 1541.5 1395.7 1537.4 1395.8 1533.4 1395.8 1529.4 1395.9 1525.3 1396.0 1521.3 1396.1 1517.2 1396.1 1513.2 1396.2 1509.2 1396.3 1505.1 1396.4 1501.1 1396.5 1497.1 1396.6 1493.0 1396.7 1489.0 1396.8 1485.0 1396.9 1480.9 1397.0 1476.9 1397.1 1472.8 1397.3 1468.8 1397.4 1464.8 1397.6 1460.7 1397.7 1456.7 1397.9 1452.7 1398.0 1448.6 1398.2 1444.6 1398.3 1440.6 1398.5 1436.5 1398.7 1432.5 1398.8 1428.4 1399.0 1424.4 1399.1 1420.4 1399.3 1416.3 1399.4 1412.3 1399.5 1408.3 1399.7 1404.2 1399.8 1400.2 1400.0 1396.2 1400.2 1392.1 1400.3 1388.1 1400.5 1384.1 1400.6 1380.0 1400.7 1376.0 1400.8 1371.9 1400.9 1367.9 1401.0 1363.9 1401.1 1359.8 1401.2 1355.8Z" fill="#a5d3a0" stroke="#333333" stroke-width="3" stroke-linejoin="round"/>
<path d="M1411.2 1354.1l-3 5.2h6zM1409.5 1597.3l-3 5.2h6zM1404.2 1597.3l-3 5.2h6zM1403.7 1596.1l-3 5.2h6z" fill="#33A02C"/>
<line x1="1408.7" y1="1452.6" x2="1408.7" y2="1602.0" stroke="#000" stroke-width="1.9"/>
<polygon points="1408.7,1492.9 1400.8,1506.6 1416.6,1506.6" fill="#000"/>
<circle cx="1379.3" cy="1602.5" r="6.2" fill="#000"/>
<path d="M1463.4 1601.0 1465.7 1601.9 1465.9 1602.8 1437.3 1602.8 1437.5 1601.9 1439.8 1601.0Z" fill="#a5d3a0" stroke="#333333" stroke-width="3" stroke-linejoin="round"/>
<path d="M1484.1 1312.5 1484.3 1316.5 1484.5 1320.5 1484.7 1324.6 1485.0 1328.6 1485.3 1332.6 1485.5 1336.6 1485.8 1340.6 1486.1 1344.7 1486.4 1348.7 1486.6 1352.7 1486.8 1356.7 1487.0 1360.8 1487.2 1364.8 1487.4 1368.8 1487.6 1372.8 1487.8 1376.8 1488.0 1380.9 1488.3 1384.9 1488.6 1388.9 1488.9 1392.9 1489.3 1396.9 1489.7 1401.0 1490.1 1405.0 1490.5 1409.0 1490.9 1413.0 1491.3 1417.0 1491.7 1421.1 1492.1 1425.1 1492.4 1429.1 1492.8 1433.1 1493.2 1437.1 1493.5 1441.2 1493.9 1445.2 1494.2 1449.2 1494.5 1453.2 1494.7 1457.2 1494.8 1461.3 1494.8 1465.3 1494.8 1469.3 1494.7 1473.3 1494.6 1477.4 1494.4 1481.4 1494.2 1485.4 1494.0 1489.4 1493.7 1493.4 1493.5 1497.5 1493.3 1501.5 1493.1 1505.5 1492.8 1509.5 1492.5 1513.5 1492.2 1517.6 1492.0 1521.6 1491.7 1525.6 1491.5 1529.6 1491.2 1533.6 1491.1 1537.7 1490.9 1541.7 1490.9 1545.7 1490.8 1549.7 1490.7 1553.8 1490.7 1557.8 1490.7 1561.8 1490.6 1565.8 1490.6 1569.8 1490.6 1573.9 1490.6 1577.9 1490.6 1581.9 1490.6 1585.9 1490.6 1589.9 1490.6 1594.0 1490.6 1598.0 1490.6 1602.0 1471.4 1602.0 1471.4 1598.0 1471.4 1594.0 1471.4 1589.9 1471.4 1585.9 1471.4 1581.9 1471.4 1577.9 1471.4 1573.9 1471.4 1569.8 1471.4 1565.8 1471.3 1561.8 1471.3 1557.8 1471.3 1553.8 1471.2 1549.7 1471.1 1545.7 1471.1 1541.7 1470.9 1537.7 1470.8 1533.6 1470.5 1529.6 1470.3 1525.6 1470.0 1521.6 1469.8 1517.6 1469.5 1513.5 1469.2 1509.5 1468.9 1505.5 1468.7 1501.5 1468.5 1497.5 1468.3 1493.4 1468.0 1489.4 1467.8 1485.4 1467.6 1481.4 1467.4 1477.4 1467.3 1473.3 1467.2 1469.3 1467.2 1465.3 1467.2 1461.3 1467.3 1457.2 1467.5 1453.2 1467.8 1449.2 1468.1 1445.2 1468.5 1441.2 1468.8 1437.1 1469.2 1433.1 1469.6 1429.1 1469.9 1425.1 1470.3 1421.1 1470.7 1417.0 1471.1 1413.0 1471.5 1409.0 1471.9 1405.0 1472.3 1401.0 1472.7 1396.9 1473.1 1392.9 1473.4 1388.9 1473.7 1384.9 1474.0 1380.9 1474.2 1376.8 1474.4 1372.8 1474.6 1368.8 1474.8 1364.8 1475.0 1360.8 1475.2 1356.7 1475.4 1352.7 1475.6 1348.7 1475.9 1344.7 1476.2 1340.6 1476.5 1336.6 1476.7 1332.6 1477.0 1328.6 1477.3 1324.6 1477.5 1320.5 1477.7 1316.5 1477.9 1312.5Z" fill="#a5d3a0" stroke="#333333" stroke-width="3" stroke-linejoin="round"/>
<path d="M1479.5 1310.8l-3 5.2h6zM1472.2 1597.3l-3 5.2h6zM1477.4 1597.3l-3 5.2h6zM1481.7 1597.3l-3 5.2h6zM1477.7 1597.3l-3 5.2h6zM1478.5 1597.3l-3 5.2h6zM1474.3 1537.2l-3 5.2h6zM1480.9 1422.0l-3 5.2h6zM1488.7 1556.9l-3 5.2h6zM1472.1 1418.0l-3 5.2h6zM1480.2 1436.7l-3 5.2h6zM1488.7 1372.8l-3 5.2h6zM1484.0 1406.0l-3 5.2h6zM1474.4 1452.3l-3 5.2h6zM1479.8 1367.5l-3 5.2h6zM1482.6 1550.7l-3 5.2h6zM1489.4 1543.0l-3 5.2h6zM1486.0 1596.4l-3 5.2h6zM1485.0 1411.1l-3 5.2h6zM1482.6 1363.0l-3 5.2h6zM1473.4 1347.8l-3 5.2h6zM1484.3 1549.6l-3 5.2h6zM1472.4 1486.3l-3 5.2h6zM1484.0 1470.0l-3 5.2h6zM1488.6 1557.5l-3 5.2h6zM1479.8 1595.5l-3 5.2h6zM1489.9 1328.2l-3 5.2h6zM1477.7 1440.0l-3 5.2h6zM1478.7 1595.1l-3 5.2h6zM1472.6 1532.7l-3 5.2h6zM1474.6 1454.0l-3 5.2h6zM1475.1 1452.2l-3 5.2h6zM1474.0 1528.3l-3 5.2h6zM1481.4 1314.1l-3 5.2h6zM1480.8 1562.3l-3 5.2h6zM1476.8 1433.6l-3 5.2h6zM1484.5 1546.1l-3 5.2h6zM1489.4 1421.2l-3 5.2h6z" fill="#33A02C"/>
<line x1="1481.0" y1="1422.5" x2="1481.0" y2="1556.0" stroke="#000" stroke-width="1.9"/>
<polygon points="1481.0,1466.6 1473.1,1480.3 1488.9,1480.3" fill="#000"/>
<circle cx="1451.6" cy="1602.5" r="6.2" fill="#000"/>
<path d="M1535.7 1601.0 1538.0 1601.9 1538.2 1602.8 1509.6 1602.8 1509.8 1601.9 1512.1 1601.0Z" fill="#a5d3a0" stroke="#333333" stroke-width="3" stroke-linejoin="round"/>
<path d="M1554.6 1181.9 1554.6 1185.9 1554.6 1189.9 1554.6 1193.9 1554.5 1197.9 1554.5 1201.9 1554.5 1205.9 1554.5 1209.9 1554.5 1213.9 1554.5 1217.9 1554.5 1221.9 1554.5 1225.9 1554.5 1229.9 1554.6 1233.9 1554.6 1237.9 1554.7 1241.9 1554.8 1245.9 1554.9 1249.9 1555.0 1253.9 1555.1 1257.9 1555.2 1261.9 1555.3 1265.9 1555.4 1269.9 1555.6 1273.9 1555.7 1277.9 1555.9 1281.9 1556.0 1285.9 1556.2 1289.9 1556.3 1293.9 1556.5 1297.9 1556.7 1301.9 1556.8 1305.9 1557.0 1309.9 1557.2 1313.9 1557.4 1317.9 1557.6 1321.9 1557.8 1325.9 1558.0 1329.9 1558.2 1333.9 1558.4 1337.9 1558.6 1341.9 1558.9 1345.9 1559.2 1349.9 1559.6 1353.9 1560.1 1357.9 1560.6 1361.9 1561.2 1365.9 1561.7 1369.9 1562.3 1373.9 1562.8 1377.9 1563.3 1381.9 1563.7 1385.9 1564.1 1389.9 1564.5 1394.0 1564.9 1398.0 1565.2 1402.0 1565.6 1406.0 1565.9 1410.0 1566.2 1414.0 1566.4 1418.0 1566.6 1422.0 1566.8 1426.0 1566.9 1430.0 1567.0 1434.0 1567.0 1438.0 1567.0 1442.0 1567.0 1446.0 1566.9 1450.0 1566.9 1454.0 1566.8 1458.0 1566.7 1462.0 1566.6 1466.0 1566.5 1470.0 1566.4 1474.0 1566.3 1478.0 1566.2 1482.0 1566.0 1486.0 1565.9 1490.0 1565.7 1494.0 1565.6 1498.0 1565.4 1502.0 1565.3 1506.0 1565.1 1510.0 1565.0 1514.0 1564.8 1518.0 1564.7 1522.0 1564.5 1526.0 1564.4 1530.0 1564.2 1534.0 1564.1 1538.0 1563.9 1542.0 1563.8 1546.0 1563.7 1550.0 1563.5 1554.0 1563.4 1558.0 1563.3 1562.0 1563.1 1566.0 1563.0 1570.0 1562.9 1574.0 1562.7 1578.0 1562.6 1582.0 1562.5 1586.0 1562.3 1590.0 1562.2 1594.0 1562.2 1598.0 1562.1 1602.0 1544.5 1602.0 1544.4 1598.0 1544.4 1594.0 1544.3 1590.0 1544.1 1586.0 1544.0 1582.0 1543.9 1578.0 1543.7 1574.0 1543.6 1570.0 1543.5 1566.0 1543.3 1562.0 1543.2 1558.0 1543.1 1554.0 1542.9 1550.0 1542.8 1546.0 1542.7 1542.0 1542.5 1538.0 1542.4 1534.0 1542.2 1530.0 1542.1 1526.0 1541.9 1522.0 1541.8 1518.0 1541.6 1514.0 1541.5 1510.0 1541.3 1506.0 1541.2 1502.0 1541.0 1498.0 1540.9 1494.0 1540.7 1490.0 1540.6 1486.0 1540.4 1482.0 1540.3 1478.0 1540.2 1474.0 1540.1 1470.0 1540.0 1466.0 1539.9 1462.0 1539.8 1458.0 1539.7 1454.0 1539.7 1450.0 1539.6 1446.0 1539.6 1442.0 1539.6 1438.0 1539.6 1434.0 1539.7 1430.0 1539.8 1426.0 1540.0 1422.0 1540.2 1418.0 1540.4 1414.0 1540.7 1410.0 1541.0 1406.0 1541.4 1402.0 1541.7 1398.0 1542.1 1394.0 1542.5 1389.9 1542.9 1385.9 1543.3 1381.9 1543.8 1377.9 1544.3 1373.9 1544.9 1369.9 1545.4 1365.9 1546.0 1361.9 1546.5 1357.9 1547.0 1353.9 1547.4 1349.9 1547.7 1345.9 1548.0 1341.9 1548.2 1337.9 1548.4 1333.9 1548.6 1329.9 1548.8 1325.9 1549.0 1321.9 1549.2 1317.9 1549.4 1313.9 1549.6 1309.9 1549.8 1305.9 1549.9 1301.9 1550.1 1297.9 1550.3 1293.9 1550.4 1289.9 1550.6 1285.9 1550.7 1281.9 1550.9 1277.9 1551.0 1273.9 1551.2 1269.9 1551.3 1265.9 1551.4 1261.9 1551.5 1257.9 1551.6 1253.9 1551.7 1249.9 1551.8 1245.9 1551.9 1241.9 1552.0 1237.9 1552.0 1233.9 1552.1 1229.9 1552.1 1225.9 1552.1 1221.9 1552.1 1217.9 1552.1 1213.9 1552.1 1209.9 1552.1 1205.9 1552.1 1201.9 1552.1 1197.9 1552.0 1193.9 1552.0 1189.9 1552.0 1185.9 1552.0 1181.9Z" fill="#a5d3a0" stroke="#333333" stroke-width="3" stroke-linejoin="round"/>
<path d="M1555.9 1180.2l-3 5.2h6zM1551.8 1597.3l-3 5.2h6zM1557.8 1597.3l-3 5.2h6zM1559.6 1597.3l-3 5.2h6zM1561.2 1597.3l-3 5.2h6zM1553.7 1597.3l-3 5.2h6zM1561.9 1335.4l-3 5.2h6zM1558.2 1324.6l-3 5.2h6zM1550.9 1453.8l-3 5.2h6zM1554.1 1496.9l-3 5.2h6zM1553.3 1422.1l-3 5.2h6zM1548.0 1454.7l-3 5.2h6zM1552.3 1326.8l-3 5.2h6zM1558.8 1534.3l-3 5.2h6zM1551.4 1516.1l-3 5.2h6zM1546.5 1586.8l-3 5.2h6zM1555.0 1427.1l-3 5.2h6zM1548.5 1510.7l-3 5.2h6zM1554.2 1463.5l-3 5.2h6zM1558.7 1213.7l-3 5.2h6zM1550.0 1380.8l-3 5.2h6zM1549.5 1345.6l-3 5.2h6zM1555.6 1465.7l-3 5.2h6zM1550.9 1231.3l-3 5.2h6zM1561.8 1444.3l-3 5.2h6zM1561.5 1383.4l-3 5.2h6zM1549.2 1503.7l-3 5.2h6zM1553.3 1439.1l-3 5.2h6zM1554.1 1367.1l-3 5.2h6zM1556.4 1389.1l-3 5.2h6zM1558.4 1428.0l-3 5.2h6zM1553.5 1526.2l-3 5.2h6zM1552.1 1377.4l-3 5.2h6zM1552.1 1549.2l-3 5.2h6zM1548.9 1386.8l-3 5.2h6zM1550.3 1218.7l-3 5.2h6zM1560.1 1329.1l-3 5.2h6zM1558.2 1527.6l-3 5.2h6z" fill="#33A02C"/>
<line x1="1553.3" y1="1399.9" x2="1553.3" y2="1533.4" stroke="#000" stroke-width="1.9"/>
<polygon points="1553.3,1451.6 1545.4,1465.3 1561.2,1465.3" fill="#000"/>
<circle cx="1523.9" cy="1602.5" r="6.2" fill="#000"/>
<line x1="1003.1" y1="1192.6" x2="1582.9" y2="1192.6" stroke="#000" stroke-width="3.4" stroke-dasharray="3.4,10.6" stroke-dashoffset="0.0"/>
<line x1="1003.1" y1="1592.3" x2="1582.9" y2="1592.3" stroke="#000" stroke-width="3.4" stroke-dasharray="3.4,10.6" stroke-dashoffset="0.0"/>
<line x1="989.6" y1="1064.5" x2="989.6" y2="1644.9" stroke="#000" stroke-width="3.3"/>
<line x1="988.0" y1="1643.3" x2="1582.9" y2="1643.3" stroke="#000" stroke-width="3.3"/>
<line x1="980.6" y1="1192.6" x2="989.6" y2="1192.6" stroke="#333" stroke-width="2.4"/>
<line x1="980.6" y1="1284.7" x2="989.6" y2="1284.7" stroke="#333" stroke-width="2.4"/>
<line x1="980.6" y1="1415.2" x2="989.6" y2="1415.2" stroke="#333" stroke-width="2.4"/>
<line x1="980.6" y1="1545.9" x2="989.6" y2="1545.9" stroke="#333" stroke-width="2.4"/>
<line x1="980.6" y1="1592.3" x2="989.6" y2="1592.3" stroke="#333" stroke-width="2.4"/>
<line x1="1032.5" y1="1643.3" x2="1032.5" y2="1652.3" stroke="#333" stroke-width="2.4"/>
<line x1="1104.8" y1="1643.3" x2="1104.8" y2="1652.3" stroke="#333" stroke-width="2.4"/>
<line x1="1177.1" y1="1643.3" x2="1177.1" y2="1652.3" stroke="#333" stroke-width="2.4"/>
<line x1="1249.4" y1="1643.3" x2="1249.4" y2="1652.3" stroke="#333" stroke-width="2.4"/>
<line x1="1321.7" y1="1643.3" x2="1321.7" y2="1652.3" stroke="#333" stroke-width="2.4"/>
<line x1="1394.0" y1="1643.3" x2="1394.0" y2="1652.3" stroke="#333" stroke-width="2.4"/>
<line x1="1466.3" y1="1643.3" x2="1466.3" y2="1652.3" stroke="#333" stroke-width="2.4"/>
<line x1="1538.6" y1="1643.3" x2="1538.6" y2="1652.3" stroke="#333" stroke-width="2.4"/>
<text transform="translate(1134.7,1101.0) scale(1.000,1.060)" font-size="29.8" fill="#000" text-anchor="start" font-weight="normal" >Kruskal-Wallis p=0.019</text>
<text transform="translate(1318.0,1013.0) scale(0.985,1.055)" font-size="47.0" fill="#1a1a1a" text-anchor="middle" font-weight="bold" >Alpha</text>
<path d="M365.4 2333.5 367.7 2334.4 367.9 2335.3 339.3 2335.3 339.5 2334.4 341.8 2333.5Z" fill="#f3979f" stroke="#333333" stroke-width="3" stroke-linejoin="round"/>
<path d="M384.3 1916.3 384.3 1920.3 384.3 1924.3 384.3 1928.4 384.3 1932.4 384.3 1936.4 384.3 1940.4 384.3 1944.5 384.3 1948.5 384.3 1952.5 384.3 1956.5 384.3 1960.5 384.3 1964.6 384.3 1968.6 384.3 1972.6 384.3 1976.6 384.3 1980.7 384.3 1984.7 384.3 1988.7 384.3 1992.7 384.3 1996.7 384.3 2000.8 384.3 2004.8 384.3 2008.8 384.3 2012.8 384.3 2016.9 384.3 2020.9 384.3 2024.9 384.3 2028.9 384.3 2032.9 384.3 2037.0 384.3 2041.0 384.3 2045.0 384.3 2049.0 384.3 2053.1 384.3 2057.1 384.3 2061.1 384.3 2065.1 384.3 2069.1 384.3 2073.2 384.3 2077.2 384.3 2081.2 384.3 2085.2 384.3 2089.3 384.3 2093.3 384.3 2097.3 384.3 2101.3 384.3 2105.3 384.4 2109.4 384.4 2113.4 384.5 2117.4 384.6 2121.4 384.6 2125.4 384.7 2129.5 384.7 2133.5 384.8 2137.5 384.8 2141.5 384.9 2145.6 384.9 2149.6 384.9 2153.6 384.9 2157.6 385.0 2161.6 385.0 2165.7 385.0 2169.7 385.1 2173.7 385.1 2177.7 385.1 2181.8 385.2 2185.8 385.2 2189.8 385.2 2193.8 385.2 2197.8 385.3 2201.9 385.3 2205.9 385.3 2209.9 385.3 2213.9 385.3 2218.0 385.2 2222.0 385.2 2226.0 385.1 2230.0 385.1 2234.0 385.2 2238.1 385.3 2242.1 385.6 2246.1 385.9 2250.1 386.2 2254.2 386.7 2258.2 387.1 2262.2 387.5 2266.2 388.1 2270.2 388.8 2274.3 389.5 2278.3 390.3 2282.3 391.0 2286.3 391.7 2290.4 392.3 2294.4 392.9 2298.4 393.5 2302.4 394.0 2306.4 394.5 2310.5 395.1 2314.5 395.5 2318.5 395.9 2322.5 396.2 2326.6 396.4 2330.6 396.4 2334.6 369.6 2334.6 369.6 2330.6 369.8 2326.6 370.1 2322.5 370.5 2318.5 370.9 2314.5 371.5 2310.5 372.0 2306.4 372.5 2302.4 373.1 2298.4 373.7 2294.4 374.3 2290.4 375.0 2286.3 375.7 2282.3 376.5 2278.3 377.2 2274.3 377.9 2270.2 378.5 2266.2 378.9 2262.2 379.3 2258.2 379.8 2254.2 380.1 2250.1 380.4 2246.1 380.7 2242.1 380.8 2238.1 380.9 2234.0 380.9 2230.0 380.8 2226.0 380.8 2222.0 380.7 2218.0 380.7 2213.9 380.7 2209.9 380.7 2205.9 380.7 2201.9 380.8 2197.8 380.8 2193.8 380.8 2189.8 380.8 2185.8 380.9 2181.8 380.9 2177.7 380.9 2173.7 381.0 2169.7 381.0 2165.7 381.0 2161.6 381.1 2157.6 381.1 2153.6 381.1 2149.6 381.1 2145.6 381.2 2141.5 381.2 2137.5 381.3 2133.5 381.3 2129.5 381.4 2125.4 381.4 2121.4 381.5 2117.4 381.6 2113.4 381.6 2109.4 381.7 2105.3 381.7 2101.3 381.7 2097.3 381.7 2093.3 381.7 2089.3 381.7 2085.2 381.7 2081.2 381.7 2077.2 381.7 2073.2 381.7 2069.1 381.7 2065.1 381.7 2061.1 381.7 2057.1 381.7 2053.1 381.7 2049.0 381.7 2045.0 381.7 2041.0 381.7 2037.0 381.7 2032.9 381.7 2028.9 381.7 2024.9 381.7 2020.9 381.7 2016.9 381.7 2012.8 381.7 2008.8 381.7 2004.8 381.7 2000.8 381.7 1996.7 381.7 1992.7 381.7 1988.7 381.7 1984.7 381.7 1980.7 381.7 1976.6 381.7 1972.6 381.7 1968.6 381.7 1964.6 381.7 1960.5 381.7 1956.5 381.7 1952.5 381.7 1948.5 381.7 1944.5 381.7 1940.4 381.7 1936.4 381.7 1932.4 381.7 1928.4 381.7 1924.3 381.7 1920.3 381.7 1916.3Z" fill="#f3979f" stroke="#333333" stroke-width="3" stroke-linejoin="round"/>
<path d="M380.8 1914.6l-3 5.2h6zM376.7 2329.9l-3 5.2h6zM382.3 2329.9l-3 5.2h6zM383.9 2329.9l-3 5.2h6zM384.5 2070.4l-3 5.2h6zM374.1 2301.7l-3 5.2h6zM390.2 2322.6l-3 5.2h6zM374.4 2288.8l-3 5.2h6zM385.5 2319.9l-3 5.2h6zM391.9 2279.8l-3 5.2h6zM380.4 2003.4l-3 5.2h6zM383.9 2071.6l-3 5.2h6zM389.9 2324.8l-3 5.2h6zM376.2 2310.0l-3 5.2h6zM378.1 2110.1l-3 5.2h6zM378.4 2278.9l-3 5.2h6zM383.3 2311.0l-3 5.2h6zM384.9 2333.1l-3 5.2h6zM380.1 2113.3l-3 5.2h6zM384.7 2137.0l-3 5.2h6zM387.4 2070.2l-3 5.2h6zM389.8 2190.1l-3 5.2h6z" fill="#E31A1C"/>
<line x1="383.0" y1="2242.4" x2="383.0" y2="2334.6" stroke="#000" stroke-width="1.9"/>
<polygon points="383.0,2322.1 375.1,2335.8 390.9,2335.8" fill="#000"/>
<circle cx="353.6" cy="2335.0" r="6.2" fill="#000"/>
<path d="M437.7 2333.5 440.0 2334.4 440.2 2335.3 411.6 2335.3 411.8 2334.4 414.1 2333.5Z" fill="#f3979f" stroke="#333333" stroke-width="3" stroke-linejoin="round"/>
<path d="M457.6 2113.6 457.6 2117.6 457.6 2121.6 457.6 2125.7 457.6 2129.7 457.6 2133.7 457.6 2137.7 457.6 2141.7 457.6 2145.7 457.6 2149.8 457.6 2153.8 457.6 2157.8 457.6 2161.8 457.7 2165.8 457.7 2169.9 457.7 2173.9 457.7 2177.9 457.8 2181.9 457.8 2185.9 457.8 2189.9 457.9 2194.0 457.9 2198.0 458.0 2202.0 458.1 2206.0 458.2 2210.0 458.4 2214.1 458.5 2218.1 458.8 2222.1 459.0 2226.1 459.2 2230.1 459.5 2234.1 459.8 2238.2 460.1 2242.2 460.4 2246.2 460.7 2250.2 461.2 2254.2 461.8 2258.3 462.4 2262.3 463.0 2266.3 463.6 2270.3 464.2 2274.3 464.7 2278.3 465.2 2282.4 465.7 2286.4 466.2 2290.4 466.6 2294.4 467.0 2298.4 467.4 2302.5 467.7 2306.5 468.0 2310.5 468.3 2314.5 468.5 2318.5 468.7 2322.5 468.9 2326.6 469.0 2330.6 469.1 2334.6 441.5 2334.6 441.6 2330.6 441.7 2326.6 441.9 2322.5 442.1 2318.5 442.3 2314.5 442.6 2310.5 442.9 2306.5 443.2 2302.5 443.6 2298.4 444.0 2294.4 444.4 2290.4 444.9 2286.4 445.4 2282.4 445.9 2278.3 446.4 2274.3 447.0 2270.3 447.6 2266.3 448.2 2262.3 448.8 2258.3 449.4 2254.2 449.9 2250.2 450.2 2246.2 450.5 2242.2 450.8 2238.2 451.1 2234.1 451.4 2230.1 451.6 2226.1 451.8 2222.1 452.1 2218.1 452.2 2214.1 452.4 2210.0 452.5 2206.0 452.6 2202.0 452.7 2198.0 452.7 2194.0 452.8 2189.9 452.8 2185.9 452.8 2181.9 452.9 2177.9 452.9 2173.9 452.9 2169.9 452.9 2165.8 453.0 2161.8 453.0 2157.8 453.0 2153.8 453.0 2149.8 453.0 2145.7 453.0 2141.7 453.0 2137.7 453.0 2133.7 453.0 2129.7 453.0 2125.7 453.0 2121.6 453.0 2117.6 453.0 2113.6Z" fill="#f3979f" stroke="#333333" stroke-width="3" stroke-linejoin="round"/>
<path d="M456.4 2111.9l-3 5.2h6zM447.6 2329.9l-3 5.2h6zM455.2 2329.9l-3 5.2h6zM454.9 2234.6l-3 5.2h6zM456.6 2329.5l-3 5.2h6zM446.4 2284.1l-3 5.2h6zM458.3 2315.8l-3 5.2h6zM463.2 2306.9l-3 5.2h6zM463.7 2255.2l-3 5.2h6zM463.3 2303.5l-3 5.2h6zM447.9 2250.1l-3 5.2h6zM462.4 2241.6l-3 5.2h6zM459.1 2135.5l-3 5.2h6zM457.3 2280.0l-3 5.2h6zM462.1 2302.7l-3 5.2h6zM453.1 2177.3l-3 5.2h6zM463.8 2268.4l-3 5.2h6zM450.4 2306.0l-3 5.2h6zM449.2 2242.7l-3 5.2h6z" fill="#E31A1C"/>
<line x1="455.3" y1="2251.8" x2="455.3" y2="2334.6" stroke="#000" stroke-width="1.9"/>
<polygon points="455.3,2303.5 447.4,2317.2 463.2,2317.2" fill="#000"/>
<circle cx="425.9" cy="2335.0" r="6.2" fill="#000"/>
<path d="M510.0 2333.5 512.3 2334.4 512.5 2335.3 483.9 2335.3 484.1 2334.4 486.4 2333.5Z" fill="#f3979f" stroke="#333333" stroke-width="3" stroke-linejoin="round"/>
<path d="M531.7 2154.2 532.3 2158.2 533.1 2162.2 534.0 2166.2 534.7 2170.2 535.2 2174.2 535.5 2178.3 535.7 2182.3 535.8 2186.3 535.8 2190.3 535.6 2194.3 535.1 2198.3 534.5 2202.3 533.9 2206.3 533.4 2210.3 533.1 2214.3 533.0 2218.3 532.9 2222.4 532.9 2226.4 533.0 2230.4 533.1 2234.4 533.3 2238.4 533.7 2242.4 534.2 2246.4 534.7 2250.4 535.3 2254.4 535.8 2258.4 536.5 2262.4 537.1 2266.4 537.7 2270.5 538.3 2274.5 538.9 2278.5 539.5 2282.5 540.0 2286.5 540.5 2290.5 540.8 2294.5 541.1 2298.5 541.4 2302.5 541.6 2306.5 541.9 2310.5 542.0 2314.6 542.1 2318.6 542.2 2322.6 542.3 2326.6 542.4 2330.6 542.4 2334.6 512.8 2334.6 512.8 2330.6 512.9 2326.6 513.0 2322.6 513.1 2318.6 513.2 2314.6 513.3 2310.5 513.6 2306.5 513.8 2302.5 514.1 2298.5 514.4 2294.5 514.7 2290.5 515.2 2286.5 515.7 2282.5 516.3 2278.5 516.9 2274.5 517.5 2270.5 518.1 2266.4 518.7 2262.4 519.4 2258.4 519.9 2254.4 520.5 2250.4 521.0 2246.4 521.5 2242.4 521.9 2238.4 522.1 2234.4 522.2 2230.4 522.3 2226.4 522.3 2222.4 522.2 2218.3 522.1 2214.3 521.8 2210.3 521.3 2206.3 520.7 2202.3 520.1 2198.3 519.6 2194.3 519.4 2190.3 519.4 2186.3 519.5 2182.3 519.7 2178.3 520.0 2174.2 520.5 2170.2 521.2 2166.2 522.1 2162.2 522.9 2158.2 523.5 2154.2Z" fill="#f3979f" stroke="#333333" stroke-width="3" stroke-linejoin="round"/>
<path d="M526.4 2152.5l-3 5.2h6zM528.2 2329.9l-3 5.2h6zM521.8 2329.9l-3 5.2h6zM525.3 2329.9l-3 5.2h6zM535.9 2327.7l-3 5.2h6zM528.4 2307.0l-3 5.2h6zM525.3 2158.6l-3 5.2h6zM534.5 2176.9l-3 5.2h6zM530.3 2321.7l-3 5.2h6zM536.0 2254.5l-3 5.2h6zM532.8 2235.1l-3 5.2h6zM534.9 2262.0l-3 5.2h6zM533.4 2284.1l-3 5.2h6zM532.0 2304.7l-3 5.2h6zM529.9 2206.5l-3 5.2h6zM525.9 2181.7l-3 5.2h6zM520.4 2233.0l-3 5.2h6zM519.3 2300.3l-3 5.2h6zM520.5 2311.5l-3 5.2h6zM529.4 2245.7l-3 5.2h6zM536.0 2319.0l-3 5.2h6zM530.6 2208.6l-3 5.2h6zM528.2 2276.4l-3 5.2h6z" fill="#E31A1C"/>
<line x1="527.6" y1="2234.9" x2="527.6" y2="2334.6" stroke="#000" stroke-width="1.9"/>
<polygon points="527.6,2300.7 519.7,2314.4 535.5,2314.4" fill="#000"/>
<circle cx="498.2" cy="2335.0" r="6.2" fill="#000"/>
<path d="M582.3 2333.5 584.6 2334.4 584.8 2335.3 556.2 2335.3 556.4 2334.4 558.7 2333.5Z" fill="#f3979f" stroke="#333333" stroke-width="3" stroke-linejoin="round"/>
<path d="M602.9 2154.1 603.0 2158.1 603.0 2162.1 603.1 2166.1 603.2 2170.1 603.3 2174.2 603.4 2178.2 603.5 2182.2 603.6 2186.2 603.7 2190.2 603.8 2194.2 603.9 2198.2 604.0 2202.2 604.1 2206.2 604.2 2210.3 604.3 2214.3 604.4 2218.3 604.4 2222.3 604.5 2226.3 604.6 2230.3 604.7 2234.3 604.8 2238.3 604.9 2242.3 605.1 2246.4 605.3 2250.4 605.7 2254.4 606.1 2258.4 606.6 2262.4 607.1 2266.4 607.6 2270.4 608.1 2274.4 608.6 2278.4 609.2 2282.5 609.7 2286.5 610.3 2290.5 610.9 2294.5 611.4 2298.5 611.9 2302.5 612.3 2306.5 612.6 2310.5 612.9 2314.5 613.1 2318.6 613.2 2322.6 613.3 2326.6 613.4 2330.6 613.5 2334.6 586.3 2334.6 586.4 2330.6 586.5 2326.6 586.6 2322.6 586.7 2318.6 586.9 2314.5 587.2 2310.5 587.5 2306.5 587.9 2302.5 588.4 2298.5 588.9 2294.5 589.5 2290.5 590.1 2286.5 590.6 2282.5 591.2 2278.4 591.7 2274.4 592.2 2270.4 592.7 2266.4 593.2 2262.4 593.7 2258.4 594.1 2254.4 594.5 2250.4 594.7 2246.4 594.9 2242.3 595.0 2238.3 595.1 2234.3 595.2 2230.3 595.3 2226.3 595.4 2222.3 595.4 2218.3 595.5 2214.3 595.6 2210.3 595.7 2206.2 595.8 2202.2 595.9 2198.2 596.0 2194.2 596.1 2190.2 596.2 2186.2 596.3 2182.2 596.4 2178.2 596.5 2174.2 596.6 2170.1 596.7 2166.1 596.8 2162.1 596.8 2158.1 596.9 2154.1Z" fill="#f3979f" stroke="#333333" stroke-width="3" stroke-linejoin="round"/>
<path d="M597.9 2152.4l-3 5.2h6zM591.4 2329.9l-3 5.2h6zM599.2 2329.9l-3 5.2h6zM601.2 2322.0l-3 5.2h6zM595.3 2187.0l-3 5.2h6zM598.1 2270.2l-3 5.2h6zM598.1 2303.4l-3 5.2h6zM599.3 2198.6l-3 5.2h6zM602.4 2276.0l-3 5.2h6zM604.2 2324.9l-3 5.2h6zM607.3 2211.5l-3 5.2h6zM607.0 2178.4l-3 5.2h6zM593.7 2294.9l-3 5.2h6zM607.0 2296.9l-3 5.2h6zM595.3 2279.7l-3 5.2h6zM599.5 2324.7l-3 5.2h6zM608.1 2267.9l-3 5.2h6zM605.2 2287.1l-3 5.2h6z" fill="#E31A1C"/>
<line x1="599.9" y1="2234.0" x2="599.9" y2="2318.6" stroke="#000" stroke-width="1.9"/>
<polygon points="599.9,2310.1 592.0,2323.8 607.8,2323.8" fill="#000"/>
<circle cx="570.5" cy="2335.0" r="6.2" fill="#000"/>
<path d="M654.6 2333.5 656.9 2334.4 657.1 2335.3 628.5 2335.3 628.7 2334.4 631.0 2333.5Z" fill="#f3979f" stroke="#333333" stroke-width="3" stroke-linejoin="round"/>
<path d="M673.5 1916.3 673.5 1920.3 673.5 1924.3 673.5 1928.4 673.5 1932.4 673.5 1936.4 673.5 1940.4 673.6 1944.5 673.6 1948.5 673.6 1952.5 673.6 1956.5 673.6 1960.5 673.6 1964.6 673.6 1968.6 673.6 1972.6 673.7 1976.6 673.7 1980.7 673.7 1984.7 673.7 1988.7 673.7 1992.7 673.7 1996.7 673.7 2000.8 673.7 2004.8 673.8 2008.8 673.8 2012.8 673.8 2016.9 673.8 2020.9 673.8 2024.9 673.8 2028.9 673.8 2032.9 673.9 2037.0 673.9 2041.0 673.9 2045.0 673.9 2049.0 673.9 2053.1 673.9 2057.1 673.9 2061.1 674.0 2065.1 674.0 2069.1 674.0 2073.2 674.0 2077.2 674.0 2081.2 674.0 2085.2 674.0 2089.3 673.9 2093.3 673.9 2097.3 673.9 2101.3 674.0 2105.3 674.1 2109.4 674.4 2113.4 674.7 2117.4 675.0 2121.4 675.4 2125.4 675.8 2129.5 676.2 2133.5 676.6 2137.5 676.9 2141.5 677.2 2145.6 677.5 2149.6 677.8 2153.6 678.2 2157.6 678.5 2161.6 678.8 2165.7 679.1 2169.7 679.4 2173.7 679.7 2177.7 680.0 2181.8 680.3 2185.8 680.6 2189.8 680.9 2193.8 681.2 2197.8 681.5 2201.9 681.8 2205.9 682.1 2209.9 682.4 2213.9 682.8 2218.0 683.2 2222.0 683.6 2226.0 684.0 2230.0 684.3 2234.0 684.7 2238.1 685.1 2242.1 685.4 2246.1 685.6 2250.1 686.0 2254.2 686.3 2258.2 686.4 2262.2 686.5 2266.2 686.5 2270.2 686.5 2274.3 686.4 2278.3 686.3 2282.3 686.3 2286.3 686.1 2290.4 686.0 2294.4 685.9 2298.4 685.7 2302.4 685.6 2306.4 685.4 2310.5 685.1 2314.5 684.7 2318.5 684.4 2322.5 684.1 2326.6 683.9 2330.6 683.7 2334.6 660.7 2334.6 660.5 2330.6 660.3 2326.6 660.0 2322.5 659.7 2318.5 659.3 2314.5 659.0 2310.5 658.8 2306.4 658.7 2302.4 658.5 2298.4 658.4 2294.4 658.3 2290.4 658.1 2286.3 658.1 2282.3 658.0 2278.3 657.9 2274.3 657.9 2270.2 657.9 2266.2 658.0 2262.2 658.1 2258.2 658.4 2254.2 658.8 2250.1 659.0 2246.1 659.3 2242.1 659.7 2238.1 660.1 2234.0 660.4 2230.0 660.8 2226.0 661.2 2222.0 661.6 2218.0 662.0 2213.9 662.3 2209.9 662.6 2205.9 662.9 2201.9 663.2 2197.8 663.5 2193.8 663.8 2189.8 664.1 2185.8 664.4 2181.8 664.7 2177.7 665.0 2173.7 665.3 2169.7 665.6 2165.7 665.9 2161.6 666.2 2157.6 666.6 2153.6 666.9 2149.6 667.2 2145.6 667.5 2141.5 667.8 2137.5 668.2 2133.5 668.6 2129.5 669.0 2125.4 669.4 2121.4 669.7 2117.4 670.0 2113.4 670.3 2109.4 670.4 2105.3 670.5 2101.3 670.5 2097.3 670.5 2093.3 670.4 2089.3 670.4 2085.2 670.4 2081.2 670.4 2077.2 670.4 2073.2 670.4 2069.1 670.4 2065.1 670.5 2061.1 670.5 2057.1 670.5 2053.1 670.5 2049.0 670.5 2045.0 670.5 2041.0 670.5 2037.0 670.6 2032.9 670.6 2028.9 670.6 2024.9 670.6 2020.9 670.6 2016.9 670.6 2012.8 670.6 2008.8 670.7 2004.8 670.7 2000.8 670.7 1996.7 670.7 1992.7 670.7 1988.7 670.7 1984.7 670.7 1980.7 670.7 1976.6 670.8 1972.6 670.8 1968.6 670.8 1964.6 670.8 1960.5 670.8 1956.5 670.8 1952.5 670.8 1948.5 670.8 1944.5 670.9 1940.4 670.9 1936.4 670.9 1932.4 670.9 1928.4 670.9 1924.3 670.9 1920.3 670.9 1916.3Z" fill="#f3979f" stroke="#333333" stroke-width="3" stroke-linejoin="round"/>
<path d="M671.6 1914.6l-3 5.2h6zM667.3 2329.9l-3 5.2h6zM680.8 2329.9l-3 5.2h6zM677.6 2329.9l-3 5.2h6zM674.4 2329.9l-3 5.2h6zM676.7 2329.9l-3 5.2h6zM675.3 2265.5l-3 5.2h6zM663.9 2165.3l-3 5.2h6zM671.1 2292.1l-3 5.2h6zM677.7 2117.6l-3 5.2h6zM675.8 2331.8l-3 5.2h6zM669.7 1955.4l-3 5.2h6zM668.1 2001.7l-3 5.2h6zM672.0 2301.6l-3 5.2h6zM664.0 2209.2l-3 5.2h6zM671.9 1984.2l-3 5.2h6zM664.4 2276.2l-3 5.2h6zM678.3 2139.9l-3 5.2h6zM666.6 2301.2l-3 5.2h6zM677.3 2035.8l-3 5.2h6zM663.5 2269.8l-3 5.2h6zM676.7 2190.6l-3 5.2h6zM670.6 1996.7l-3 5.2h6zM679.3 2172.0l-3 5.2h6zM663.5 2302.9l-3 5.2h6zM677.9 2277.4l-3 5.2h6zM668.4 2178.6l-3 5.2h6zM676.0 1953.3l-3 5.2h6zM678.7 2278.2l-3 5.2h6zM675.3 2246.6l-3 5.2h6zM667.3 1929.0l-3 5.2h6zM669.3 2283.9l-3 5.2h6zM680.1 2163.2l-3 5.2h6zM667.5 1985.2l-3 5.2h6zM667.9 2038.3l-3 5.2h6zM667.2 2082.0l-3 5.2h6zM672.8 2320.3l-3 5.2h6z" fill="#E31A1C"/>
<line x1="672.2" y1="2186.0" x2="672.2" y2="2312.0" stroke="#000" stroke-width="1.9"/>
<polygon points="672.2,2245.1 664.3,2258.8 680.1,2258.8" fill="#000"/>
<circle cx="642.8" cy="2335.0" r="6.2" fill="#000"/>
<path d="M726.9 2333.5 729.2 2334.4 729.4 2335.3 700.8 2335.3 701.0 2334.4 703.3 2333.5Z" fill="#f3979f" stroke="#333333" stroke-width="3" stroke-linejoin="round"/>
<path d="M748.2 2141.9 746.8 2145.9 745.2 2149.9 744.9 2153.9 744.8 2158.0 744.8 2162.0 744.8 2166.0 744.7 2170.0 744.7 2174.0 744.6 2178.0 744.6 2182.0 744.6 2186.1 744.5 2190.1 744.5 2194.1 744.5 2198.1 744.5 2202.1 744.5 2206.1 744.5 2210.1 744.5 2214.2 744.5 2218.2 744.5 2222.2 744.5 2226.2 744.5 2230.2 744.5 2234.2 744.5 2238.2 744.5 2242.3 744.5 2246.3 744.5 2250.3 744.5 2254.3 744.5 2258.3 744.5 2262.3 744.5 2266.4 744.5 2270.4 744.5 2274.4 744.5 2278.4 744.5 2282.4 744.5 2286.4 744.5 2290.4 744.6 2294.5 744.6 2298.5 744.7 2302.5 744.7 2306.5 744.8 2310.5 744.9 2314.5 746.3 2318.5 749.4 2322.6 752.4 2326.6 755.8 2330.6 758.3 2334.6 730.7 2334.6 733.2 2330.6 736.6 2326.6 739.6 2322.6 742.7 2318.5 744.1 2314.5 744.2 2310.5 744.3 2306.5 744.3 2302.5 744.4 2298.5 744.4 2294.5 744.5 2290.4 744.5 2286.4 744.5 2282.4 744.5 2278.4 744.5 2274.4 744.5 2270.4 744.5 2266.4 744.5 2262.3 744.5 2258.3 744.5 2254.3 744.5 2250.3 744.5 2246.3 744.5 2242.3 744.5 2238.2 744.5 2234.2 744.5 2230.2 744.5 2226.2 744.5 2222.2 744.5 2218.2 744.5 2214.2 744.5 2210.1 744.5 2206.1 744.5 2202.1 744.5 2198.1 744.5 2194.1 744.5 2190.1 744.4 2186.1 744.4 2182.0 744.4 2178.0 744.3 2174.0 744.3 2170.0 744.2 2166.0 744.2 2162.0 744.2 2158.0 744.1 2153.9 743.8 2149.9 742.2 2145.9 740.8 2141.9Z" fill="#f3979f" stroke="#333333" stroke-width="3" stroke-linejoin="round"/>
<path d="M743.6 2140.2l-3 5.2h6zM745.1 2329.9l-3 5.2h6zM747.7 2329.9l-3 5.2h6zM746.6 2317.5l-3 5.2h6z" fill="#E31A1C"/>
<polygon points="744.5,2322.1 736.6,2335.8 752.4,2335.8" fill="#000"/>
<circle cx="715.1" cy="2335.0" r="6.2" fill="#000"/>
<path d="M799.2 2333.5 801.5 2334.4 801.7 2335.3 773.1 2335.3 773.3 2334.4 775.6 2333.5Z" fill="#f3979f" stroke="#333333" stroke-width="3" stroke-linejoin="round"/>
<path d="M818.1 2105.2 818.2 2109.2 818.2 2113.2 818.3 2117.3 818.4 2121.3 818.5 2125.3 818.6 2129.3 818.7 2133.4 818.9 2137.4 819.1 2141.4 819.3 2145.4 819.5 2149.5 819.8 2153.5 820.0 2157.5 820.3 2161.5 820.5 2165.6 820.8 2169.6 821.0 2173.6 821.3 2177.6 821.5 2181.7 821.8 2185.7 822.0 2189.7 822.3 2193.7 822.6 2197.8 822.8 2201.8 823.0 2205.8 823.3 2209.8 823.5 2213.9 823.7 2217.9 823.8 2221.9 824.0 2225.9 824.2 2230.0 824.3 2234.0 824.5 2238.0 824.7 2242.0 824.8 2246.1 825.0 2250.1 825.2 2254.1 825.4 2258.1 825.6 2262.2 825.8 2266.2 826.0 2270.2 826.3 2274.2 826.5 2278.3 826.7 2282.3 826.8 2286.3 827.1 2290.3 827.3 2294.4 827.5 2298.4 827.7 2302.4 827.9 2306.4 828.1 2310.5 828.2 2314.5 828.5 2318.5 828.7 2322.5 828.9 2326.6 829.1 2330.6 829.2 2334.6 804.4 2334.6 804.5 2330.6 804.7 2326.6 804.9 2322.5 805.1 2318.5 805.4 2314.5 805.5 2310.5 805.7 2306.4 805.9 2302.4 806.1 2298.4 806.3 2294.4 806.5 2290.3 806.8 2286.3 806.9 2282.3 807.1 2278.3 807.3 2274.2 807.6 2270.2 807.8 2266.2 808.0 2262.2 808.2 2258.1 808.4 2254.1 808.6 2250.1 808.8 2246.1 808.9 2242.0 809.1 2238.0 809.3 2234.0 809.4 2230.0 809.6 2225.9 809.8 2221.9 809.9 2217.9 810.1 2213.9 810.3 2209.8 810.6 2205.8 810.8 2201.8 811.0 2197.8 811.3 2193.7 811.6 2189.7 811.8 2185.7 812.1 2181.7 812.3 2177.6 812.6 2173.6 812.8 2169.6 813.1 2165.6 813.3 2161.5 813.6 2157.5 813.8 2153.5 814.1 2149.5 814.3 2145.4 814.5 2141.4 814.7 2137.4 814.9 2133.4 815.0 2129.3 815.1 2125.3 815.2 2121.3 815.3 2117.3 815.4 2113.2 815.4 2109.2 815.5 2105.2Z" fill="#f3979f" stroke="#333333" stroke-width="3" stroke-linejoin="round"/>
<path d="M816.2 2103.5l-3 5.2h6zM823.1 2329.9l-3 5.2h6zM818.9 2329.9l-3 5.2h6zM825.1 2329.9l-3 5.2h6zM812.6 2248.0l-3 5.2h6zM825.6 2216.4l-3 5.2h6zM824.7 2228.1l-3 5.2h6zM818.4 2286.0l-3 5.2h6zM812.0 2185.1l-3 5.2h6zM824.8 2274.5l-3 5.2h6zM815.5 2296.3l-3 5.2h6zM808.6 2311.3l-3 5.2h6zM824.1 2319.3l-3 5.2h6zM814.6 2152.2l-3 5.2h6zM808.7 2212.0l-3 5.2h6zM809.3 2256.4l-3 5.2h6zM810.2 2273.0l-3 5.2h6zM825.1 2229.7l-3 5.2h6zM811.9 2225.6l-3 5.2h6zM818.2 2227.1l-3 5.2h6zM815.6 2292.4l-3 5.2h6zM810.5 2329.3l-3 5.2h6zM817.0 2313.4l-3 5.2h6z" fill="#E31A1C"/>
<line x1="816.8" y1="2216.1" x2="816.8" y2="2334.6" stroke="#000" stroke-width="1.9"/>
<polygon points="816.8,2287.5 808.9,2301.2 824.7,2301.2" fill="#000"/>
<circle cx="787.4" cy="2335.0" r="6.2" fill="#000"/>
<path d="M871.5 2333.5 873.8 2334.4 874.0 2335.3 845.4 2335.3 845.6 2334.4 847.9 2333.5Z" fill="#f3979f" stroke="#333333" stroke-width="3" stroke-linejoin="round"/>
<path d="M890.9 2000.9 890.9 2004.9 890.9 2008.9 890.9 2013.0 890.9 2017.0 890.9 2021.0 890.9 2025.0 890.9 2029.0 890.9 2033.1 891.0 2037.1 891.0 2041.1 891.0 2045.1 891.0 2049.1 891.1 2053.2 891.1 2057.2 891.2 2061.2 891.3 2065.2 891.4 2069.2 891.6 2073.3 891.8 2077.3 891.9 2081.3 892.1 2085.3 892.3 2089.4 892.6 2093.4 892.8 2097.4 893.0 2101.4 893.2 2105.4 893.5 2109.5 893.7 2113.5 894.0 2117.5 894.2 2121.5 894.5 2125.5 894.8 2129.6 895.1 2133.6 895.4 2137.6 895.8 2141.6 896.2 2145.6 896.6 2149.7 897.1 2153.7 897.5 2157.7 898.0 2161.7 898.4 2165.7 898.8 2169.8 899.1 2173.8 899.4 2177.8 899.7 2181.8 899.9 2185.8 900.2 2189.9 900.4 2193.9 900.6 2197.9 900.8 2201.9 900.9 2205.9 901.1 2210.0 901.3 2214.0 901.4 2218.0 901.6 2222.0 901.7 2226.0 901.8 2230.1 901.9 2234.1 902.0 2238.1 902.1 2242.1 902.2 2246.1 902.3 2250.2 902.4 2254.2 902.4 2258.2 902.5 2262.2 902.6 2266.3 902.6 2270.3 902.6 2274.3 902.7 2278.3 902.7 2282.3 902.7 2286.4 902.7 2290.4 902.7 2294.4 902.7 2298.4 902.7 2302.4 902.6 2306.5 902.6 2310.5 902.5 2314.5 902.4 2318.5 902.2 2322.5 901.9 2326.6 901.7 2330.6 901.5 2334.6 876.7 2334.6 876.5 2330.6 876.3 2326.6 876.0 2322.5 875.8 2318.5 875.7 2314.5 875.6 2310.5 875.6 2306.5 875.5 2302.4 875.5 2298.4 875.5 2294.4 875.5 2290.4 875.5 2286.4 875.5 2282.3 875.5 2278.3 875.6 2274.3 875.6 2270.3 875.6 2266.3 875.7 2262.2 875.8 2258.2 875.8 2254.2 875.9 2250.2 876.0 2246.1 876.1 2242.1 876.2 2238.1 876.3 2234.1 876.4 2230.1 876.5 2226.0 876.6 2222.0 876.8 2218.0 876.9 2214.0 877.1 2210.0 877.3 2205.9 877.4 2201.9 877.6 2197.9 877.8 2193.9 878.0 2189.9 878.3 2185.8 878.5 2181.8 878.8 2177.8 879.1 2173.8 879.4 2169.8 879.8 2165.7 880.2 2161.7 880.7 2157.7 881.1 2153.7 881.6 2149.7 882.0 2145.6 882.4 2141.6 882.8 2137.6 883.1 2133.6 883.4 2129.6 883.7 2125.5 884.0 2121.5 884.2 2117.5 884.5 2113.5 884.7 2109.5 885.0 2105.4 885.2 2101.4 885.4 2097.4 885.6 2093.4 885.9 2089.4 886.1 2085.3 886.3 2081.3 886.4 2077.3 886.6 2073.3 886.8 2069.2 886.9 2065.2 887.0 2061.2 887.1 2057.2 887.1 2053.2 887.2 2049.1 887.2 2045.1 887.2 2041.1 887.2 2037.1 887.3 2033.1 887.3 2029.0 887.3 2025.0 887.3 2021.0 887.3 2017.0 887.3 2013.0 887.3 2008.9 887.3 2004.9 887.3 2000.9Z" fill="#f3979f" stroke="#333333" stroke-width="3" stroke-linejoin="round"/>
<path d="M892.0 1999.2l-3 5.2h6zM892.8 2329.9l-3 5.2h6zM884.1 2329.9l-3 5.2h6zM889.4 2329.9l-3 5.2h6zM894.2 2329.9l-3 5.2h6zM882.5 2329.9l-3 5.2h6zM883.5 2314.9l-3 5.2h6zM894.3 2248.2l-3 5.2h6zM888.9 2265.9l-3 5.2h6zM897.2 2152.7l-3 5.2h6zM895.1 2171.1l-3 5.2h6zM888.6 2158.1l-3 5.2h6zM885.4 2308.0l-3 5.2h6zM895.0 2313.4l-3 5.2h6zM889.1 2140.9l-3 5.2h6zM897.8 2260.4l-3 5.2h6zM888.9 2128.1l-3 5.2h6zM884.6 2272.0l-3 5.2h6zM895.5 2098.0l-3 5.2h6zM890.4 2188.0l-3 5.2h6zM884.2 2077.5l-3 5.2h6zM884.5 2106.3l-3 5.2h6zM886.4 2302.7l-3 5.2h6zM882.0 2249.7l-3 5.2h6zM884.3 2203.2l-3 5.2h6zM896.3 2229.0l-3 5.2h6zM882.8 2186.1l-3 5.2h6zM881.0 2197.8l-3 5.2h6zM891.1 2179.3l-3 5.2h6zM890.1 2231.2l-3 5.2h6zM893.7 2219.5l-3 5.2h6zM890.2 2052.5l-3 5.2h6zM892.0 2330.2l-3 5.2h6zM889.1 2216.4l-3 5.2h6zM887.6 2019.1l-3 5.2h6zM887.9 2114.3l-3 5.2h6zM888.8 2314.1l-3 5.2h6zM886.2 2255.4l-3 5.2h6z" fill="#E31A1C"/>
<line x1="889.1" y1="2191.6" x2="889.1" y2="2312.0" stroke="#000" stroke-width="1.9"/>
<polygon points="889.1,2237.7 881.2,2251.4 897.0,2251.4" fill="#000"/>
<circle cx="859.7" cy="2335.0" r="6.2" fill="#000"/>
<line x1="338.3" y1="1925.5" x2="917.2" y2="1925.5" stroke="#000" stroke-width="3.4" stroke-dasharray="3.4,10.6" stroke-dashoffset="0.0"/>
<line x1="338.3" y1="2325.6" x2="917.2" y2="2325.6" stroke="#000" stroke-width="3.4" stroke-dasharray="3.4,10.6" stroke-dashoffset="0.0"/>
<line x1="324.8" y1="1797.0" x2="324.8" y2="2378.1" stroke="#000" stroke-width="3.3"/>
<line x1="323.2" y1="2376.5" x2="917.2" y2="2376.5" stroke="#000" stroke-width="3.3"/>
<line x1="315.8" y1="1925.5" x2="324.8" y2="1925.5" stroke="#333" stroke-width="2.4"/>
<line x1="315.8" y1="2018.5" x2="324.8" y2="2018.5" stroke="#333" stroke-width="2.4"/>
<line x1="315.8" y1="2148.6" x2="324.8" y2="2148.6" stroke="#333" stroke-width="2.4"/>
<line x1="315.8" y1="2279.0" x2="324.8" y2="2279.0" stroke="#333" stroke-width="2.4"/>
<line x1="315.8" y1="2325.6" x2="324.8" y2="2325.6" stroke="#333" stroke-width="2.4"/>
<line x1="368.3" y1="2376.5" x2="368.3" y2="2385.5" stroke="#333" stroke-width="2.4"/>
<line x1="440.6" y1="2376.5" x2="440.6" y2="2385.5" stroke="#333" stroke-width="2.4"/>
<line x1="512.9" y1="2376.5" x2="512.9" y2="2385.5" stroke="#333" stroke-width="2.4"/>
<line x1="585.2" y1="2376.5" x2="585.2" y2="2385.5" stroke="#333" stroke-width="2.4"/>
<line x1="657.5" y1="2376.5" x2="657.5" y2="2385.5" stroke="#333" stroke-width="2.4"/>
<line x1="729.8" y1="2376.5" x2="729.8" y2="2385.5" stroke="#333" stroke-width="2.4"/>
<line x1="802.1" y1="2376.5" x2="802.1" y2="2385.5" stroke="#333" stroke-width="2.4"/>
<line x1="874.4" y1="2376.5" x2="874.4" y2="2385.5" stroke="#333" stroke-width="2.4"/>
<text transform="translate(306.5,1937.0) scale(0.990,1.000)" font-size="32.4" fill="#4d4d4d" text-anchor="end" font-weight="normal" >&gt;2560</text>
<text transform="translate(306.5,2030.0) scale(0.990,1.000)" font-size="32.4" fill="#4d4d4d" text-anchor="end" font-weight="normal" >1024</text>
<text transform="translate(306.5,2160.1) scale(0.990,1.000)" font-size="32.4" fill="#4d4d4d" text-anchor="end" font-weight="normal" >256</text>
<text transform="translate(306.5,2290.5) scale(0.990,1.000)" font-size="32.4" fill="#4d4d4d" text-anchor="end" font-weight="normal" >64</text>
<text transform="translate(306.5,2337.1) scale(0.990,1.000)" font-size="32.4" fill="#4d4d4d" text-anchor="end" font-weight="normal" >&lt;40</text>
<text transform="translate(381.9,2409.5) rotate(-45)" font-size="32.4" fill="#4d4d4d" text-anchor="end">Genitourinary</text>
<text transform="translate(454.2,2409.5) rotate(-45)" font-size="32.4" fill="#4d4d4d" text-anchor="end">Gastrointestinal</text>
<text transform="translate(526.5,2409.5) rotate(-45)" font-size="32.4" fill="#4d4d4d" text-anchor="end">Thoracic</text>
<text transform="translate(598.8,2409.5) rotate(-45)" font-size="32.4" fill="#4d4d4d" text-anchor="end">Gynaecological</text>
<text transform="translate(671.1,2409.5) rotate(-45)" font-size="32.4" fill="#4d4d4d" text-anchor="end">Solid_other</text>
<text transform="translate(743.4,2409.5) rotate(-45)" font-size="32.4" fill="#4d4d4d" text-anchor="end">Head and Neck</text>
<text transform="translate(815.7,2409.5) rotate(-45)" font-size="32.4" fill="#4d4d4d" text-anchor="end">Breast</text>
<g clip-path="url(#skinclip)">
<text transform="translate(888.0,2409.5) rotate(-45)" font-size="32.4" fill="#4d4d4d" text-anchor="end">Skin</text>
</g>
<text transform="translate(461.0,1833.4) scale(1.000,1.060)" font-size="29.8" fill="#000" text-anchor="start" font-weight="normal" >Kruskal-Wallis p=0.0067</text>
<text transform="translate(651.0,1755.6) scale(0.985,1.055)" font-size="47.0" fill="#1a1a1a" text-anchor="middle" font-weight="bold" >Beta</text>
<path d="M1040.5 2333.5 1042.8 2334.4 1043.0 2335.3 1014.4 2335.3 1014.6 2334.4 1016.9 2333.5Z" fill="#f9c198" stroke="#333333" stroke-width="3" stroke-linejoin="round"/>
<path d="M1059.4 1917.2 1059.4 1921.2 1059.4 1925.2 1059.4 1929.3 1059.4 1933.3 1059.4 1937.3 1059.4 1941.3 1059.4 1945.4 1059.4 1949.4 1059.4 1953.4 1059.4 1957.4 1059.4 1961.5 1059.4 1965.5 1059.4 1969.5 1059.4 1973.5 1059.4 1977.5 1059.4 1981.6 1059.4 1985.6 1059.4 1989.6 1059.4 1993.6 1059.4 1997.7 1059.4 2001.7 1059.4 2005.7 1059.4 2009.7 1059.4 2013.8 1059.4 2017.8 1059.4 2021.8 1059.4 2025.8 1059.4 2029.8 1059.4 2033.9 1059.4 2037.9 1059.4 2041.9 1059.4 2045.9 1059.4 2050.0 1059.4 2054.0 1059.4 2058.0 1059.4 2062.0 1059.4 2066.1 1059.4 2070.1 1059.4 2074.1 1059.4 2078.1 1059.4 2082.1 1059.4 2086.2 1059.4 2090.2 1059.4 2094.2 1059.4 2098.2 1059.5 2102.3 1059.5 2106.3 1059.6 2110.3 1059.6 2114.3 1059.7 2118.4 1059.8 2122.4 1059.9 2126.4 1060.1 2130.4 1060.3 2134.4 1060.5 2138.5 1060.6 2142.5 1060.8 2146.5 1061.0 2150.5 1061.1 2154.6 1061.3 2158.6 1061.4 2162.6 1061.5 2166.6 1061.7 2170.7 1061.8 2174.7 1061.9 2178.7 1062.0 2182.7 1062.1 2186.7 1062.2 2190.8 1062.3 2194.8 1062.4 2198.8 1062.5 2202.8 1062.6 2206.9 1062.6 2210.9 1062.7 2214.9 1062.8 2218.9 1062.9 2223.0 1063.1 2227.0 1063.3 2231.0 1063.6 2235.0 1063.9 2239.0 1064.2 2243.1 1064.6 2247.1 1065.0 2251.1 1065.4 2255.1 1065.8 2259.2 1066.3 2263.2 1066.7 2267.2 1067.1 2271.2 1067.5 2275.3 1067.9 2279.3 1068.4 2283.3 1068.8 2287.3 1069.2 2291.3 1069.6 2295.4 1070.0 2299.4 1070.3 2303.4 1070.6 2307.4 1070.9 2311.5 1071.0 2315.5 1071.2 2319.5 1071.3 2323.5 1071.4 2327.6 1071.4 2331.6 1071.5 2335.6 1044.7 2335.6 1044.8 2331.6 1044.8 2327.6 1044.9 2323.5 1045.0 2319.5 1045.2 2315.5 1045.3 2311.5 1045.6 2307.4 1045.9 2303.4 1046.2 2299.4 1046.6 2295.4 1047.0 2291.3 1047.4 2287.3 1047.8 2283.3 1048.3 2279.3 1048.7 2275.3 1049.1 2271.2 1049.5 2267.2 1049.9 2263.2 1050.4 2259.2 1050.8 2255.1 1051.2 2251.1 1051.6 2247.1 1052.0 2243.1 1052.3 2239.0 1052.6 2235.0 1052.9 2231.0 1053.1 2227.0 1053.3 2223.0 1053.4 2218.9 1053.5 2214.9 1053.6 2210.9 1053.6 2206.9 1053.7 2202.8 1053.8 2198.8 1053.9 2194.8 1054.0 2190.8 1054.1 2186.7 1054.2 2182.7 1054.3 2178.7 1054.4 2174.7 1054.5 2170.7 1054.7 2166.6 1054.8 2162.6 1054.9 2158.6 1055.1 2154.6 1055.2 2150.5 1055.4 2146.5 1055.6 2142.5 1055.7 2138.5 1055.9 2134.4 1056.1 2130.4 1056.3 2126.4 1056.4 2122.4 1056.5 2118.4 1056.6 2114.3 1056.6 2110.3 1056.7 2106.3 1056.7 2102.3 1056.8 2098.2 1056.8 2094.2 1056.8 2090.2 1056.8 2086.2 1056.8 2082.1 1056.8 2078.1 1056.8 2074.1 1056.8 2070.1 1056.8 2066.1 1056.8 2062.0 1056.8 2058.0 1056.8 2054.0 1056.8 2050.0 1056.8 2045.9 1056.8 2041.9 1056.8 2037.9 1056.8 2033.9 1056.8 2029.8 1056.8 2025.8 1056.8 2021.8 1056.8 2017.8 1056.8 2013.8 1056.8 2009.7 1056.8 2005.7 1056.8 2001.7 1056.8 1997.7 1056.8 1993.6 1056.8 1989.6 1056.8 1985.6 1056.8 1981.6 1056.8 1977.5 1056.8 1973.5 1056.8 1969.5 1056.8 1965.5 1056.8 1961.5 1056.8 1957.4 1056.8 1953.4 1056.8 1949.4 1056.8 1945.4 1056.8 1941.3 1056.8 1937.3 1056.8 1933.3 1056.8 1929.3 1056.8 1925.2 1056.8 1921.2 1056.8 1917.2Z" fill="#f9c198" stroke="#333333" stroke-width="3" stroke-linejoin="round"/>
<path d="M1057.6 1915.5l-3 5.2h6zM1056.6 2330.9l-3 5.2h6zM1065.8 2330.9l-3 5.2h6zM1059.9 2330.9l-3 5.2h6zM1057.6 2332.9l-3 5.2h6zM1051.5 2267.4l-3 5.2h6zM1059.1 1955.0l-3 5.2h6zM1062.2 2328.2l-3 5.2h6zM1055.4 1914.2l-3 5.2h6zM1053.9 1938.0l-3 5.2h6zM1054.7 2233.8l-3 5.2h6zM1062.5 2248.9l-3 5.2h6zM1051.2 2272.4l-3 5.2h6zM1055.9 1972.9l-3 5.2h6zM1065.4 2232.8l-3 5.2h6zM1056.3 1938.6l-3 5.2h6zM1064.5 2307.6l-3 5.2h6zM1057.1 2311.5l-3 5.2h6zM1057.3 2155.5l-3 5.2h6zM1061.8 2282.0l-3 5.2h6zM1059.5 2220.8l-3 5.2h6zM1057.5 2326.2l-3 5.2h6zM1054.7 2256.2l-3 5.2h6zM1051.2 2309.0l-3 5.2h6zM1053.4 2304.0l-3 5.2h6zM1062.0 2014.1l-3 5.2h6zM1053.6 2329.9l-3 5.2h6z" fill="#FF7F00"/>
<line x1="1058.1" y1="2199.2" x2="1058.1" y2="2335.6" stroke="#000" stroke-width="1.9"/>
<polygon points="1058.1,2316.6 1050.2,2330.3 1066.0,2330.3" fill="#000"/>
<circle cx="1028.7" cy="2335.0" r="6.2" fill="#000"/>
<path d="M1112.8 2333.5 1115.1 2334.4 1115.3 2335.3 1086.7 2335.3 1086.9 2334.4 1089.2 2333.5Z" fill="#f9c198" stroke="#333333" stroke-width="3" stroke-linejoin="round"/>
<path d="M1131.7 2015.9 1131.7 2019.9 1131.7 2024.0 1131.7 2028.0 1131.7 2032.1 1131.7 2036.1 1131.7 2040.2 1131.7 2044.2 1131.7 2048.3 1131.7 2052.3 1131.6 2056.4 1131.6 2060.4 1131.6 2064.5 1131.6 2068.5 1131.6 2072.6 1131.7 2076.6 1131.7 2080.6 1131.7 2084.7 1131.7 2088.7 1131.7 2092.8 1131.8 2096.8 1131.9 2100.9 1132.0 2104.9 1132.2 2109.0 1132.3 2113.0 1132.4 2117.1 1132.6 2121.1 1132.7 2125.2 1132.8 2129.2 1133.0 2133.3 1133.1 2137.3 1133.3 2141.4 1133.5 2145.4 1133.6 2149.4 1133.8 2153.5 1134.0 2157.5 1134.2 2161.6 1134.3 2165.6 1134.5 2169.7 1134.7 2173.7 1134.9 2177.8 1135.2 2181.8 1135.4 2185.9 1135.6 2189.9 1135.8 2194.0 1136.0 2198.0 1136.3 2202.1 1136.5 2206.1 1136.8 2210.1 1137.0 2214.2 1137.3 2218.2 1137.5 2222.3 1137.8 2226.3 1138.1 2230.4 1138.3 2234.4 1138.6 2238.5 1138.9 2242.5 1139.3 2246.6 1139.6 2250.6 1139.9 2254.7 1140.2 2258.7 1140.5 2262.8 1140.8 2266.8 1141.0 2270.9 1141.3 2274.9 1141.5 2278.9 1141.7 2283.0 1141.9 2287.0 1142.1 2291.1 1142.3 2295.1 1142.5 2299.2 1142.7 2303.2 1142.9 2307.3 1143.1 2311.3 1143.3 2315.4 1143.5 2319.4 1143.7 2323.5 1143.9 2327.5 1144.1 2331.6 1144.2 2335.6 1116.6 2335.6 1116.7 2331.6 1116.9 2327.5 1117.1 2323.5 1117.3 2319.4 1117.5 2315.4 1117.7 2311.3 1117.9 2307.3 1118.1 2303.2 1118.3 2299.2 1118.5 2295.1 1118.7 2291.1 1118.9 2287.0 1119.1 2283.0 1119.3 2278.9 1119.5 2274.9 1119.8 2270.9 1120.0 2266.8 1120.3 2262.8 1120.6 2258.7 1120.9 2254.7 1121.2 2250.6 1121.5 2246.6 1121.9 2242.5 1122.2 2238.5 1122.5 2234.4 1122.7 2230.4 1123.0 2226.3 1123.3 2222.3 1123.5 2218.2 1123.8 2214.2 1124.0 2210.1 1124.3 2206.1 1124.5 2202.1 1124.8 2198.0 1125.0 2194.0 1125.2 2189.9 1125.4 2185.9 1125.6 2181.8 1125.9 2177.8 1126.1 2173.7 1126.3 2169.7 1126.5 2165.6 1126.6 2161.6 1126.8 2157.5 1127.0 2153.5 1127.2 2149.4 1127.3 2145.4 1127.5 2141.4 1127.7 2137.3 1127.8 2133.3 1128.0 2129.2 1128.1 2125.2 1128.2 2121.1 1128.4 2117.1 1128.5 2113.0 1128.6 2109.0 1128.8 2104.9 1128.9 2100.9 1129.0 2096.8 1129.1 2092.8 1129.1 2088.7 1129.1 2084.7 1129.1 2080.6 1129.1 2076.6 1129.2 2072.6 1129.2 2068.5 1129.2 2064.5 1129.2 2060.4 1129.2 2056.4 1129.1 2052.3 1129.1 2048.3 1129.1 2044.2 1129.1 2040.2 1129.1 2036.1 1129.1 2032.1 1129.1 2028.0 1129.1 2024.0 1129.1 2019.9 1129.1 2015.9Z" fill="#f9c198" stroke="#333333" stroke-width="3" stroke-linejoin="round"/>
<path d="M1132.0 2014.2l-3 5.2h6zM1123.1 2330.9l-3 5.2h6zM1135.6 2330.9l-3 5.2h6zM1137.5 2330.9l-3 5.2h6zM1132.7 2332.5l-3 5.2h6zM1123.3 2227.0l-3 5.2h6zM1138.2 2237.6l-3 5.2h6zM1129.6 2063.9l-3 5.2h6zM1133.1 2312.3l-3 5.2h6zM1128.9 2113.6l-3 5.2h6zM1136.4 2121.0l-3 5.2h6zM1134.1 2123.3l-3 5.2h6zM1131.4 2202.1l-3 5.2h6zM1122.5 2300.3l-3 5.2h6zM1127.6 2322.5l-3 5.2h6zM1122.1 2209.2l-3 5.2h6zM1129.3 2202.6l-3 5.2h6zM1126.1 2218.0l-3 5.2h6zM1127.9 2277.0l-3 5.2h6zM1137.3 2272.3l-3 5.2h6zM1125.4 2273.5l-3 5.2h6zM1126.3 2302.4l-3 5.2h6zM1136.6 2054.8l-3 5.2h6zM1132.3 2105.6l-3 5.2h6zM1123.6 2168.1l-3 5.2h6zM1133.9 2049.4l-3 5.2h6zM1124.9 2292.2l-3 5.2h6z" fill="#FF7F00"/>
<line x1="1130.4" y1="2219.9" x2="1130.4" y2="2335.6" stroke="#000" stroke-width="1.9"/>
<polygon points="1130.4,2270.6 1122.5,2284.3 1138.3,2284.3" fill="#000"/>
<circle cx="1101.0" cy="2335.0" r="6.2" fill="#000"/>
<path d="M1185.1 2333.5 1187.4 2334.4 1187.6 2335.3 1159.0 2335.3 1159.2 2334.4 1161.5 2333.5Z" fill="#f9c198" stroke="#333333" stroke-width="3" stroke-linejoin="round"/>
<path d="M1205.4 2113.6 1205.4 2117.6 1205.5 2121.7 1205.5 2125.7 1205.5 2129.7 1205.6 2133.8 1205.6 2137.8 1205.7 2141.9 1205.7 2145.9 1205.8 2149.9 1205.9 2154.0 1205.9 2158.0 1206.0 2162.0 1206.0 2166.1 1206.1 2170.1 1206.2 2174.1 1206.3 2178.2 1206.4 2182.2 1206.6 2186.3 1206.8 2190.3 1206.9 2194.3 1207.1 2198.4 1207.2 2202.4 1207.4 2206.4 1207.5 2210.5 1207.7 2214.5 1207.8 2218.5 1207.9 2222.6 1207.9 2226.6 1208.0 2230.7 1208.1 2234.7 1208.2 2238.7 1208.3 2242.8 1208.4 2246.8 1208.5 2250.8 1208.7 2254.9 1208.8 2258.9 1209.0 2262.9 1209.2 2267.0 1209.4 2271.0 1209.6 2275.1 1209.8 2279.1 1210.1 2283.1 1210.4 2287.2 1210.8 2291.2 1211.3 2295.2 1211.9 2299.3 1212.6 2303.3 1213.2 2307.3 1213.7 2311.4 1214.2 2315.4 1214.7 2319.5 1215.2 2323.5 1215.6 2327.5 1215.9 2331.6 1216.1 2335.6 1189.3 2335.6 1189.5 2331.6 1189.8 2327.5 1190.2 2323.5 1190.7 2319.5 1191.2 2315.4 1191.7 2311.4 1192.2 2307.3 1192.8 2303.3 1193.5 2299.3 1194.1 2295.2 1194.6 2291.2 1195.0 2287.2 1195.3 2283.1 1195.6 2279.1 1195.8 2275.1 1196.0 2271.0 1196.2 2267.0 1196.4 2262.9 1196.6 2258.9 1196.7 2254.9 1196.9 2250.8 1197.0 2246.8 1197.1 2242.8 1197.2 2238.7 1197.3 2234.7 1197.4 2230.7 1197.5 2226.6 1197.5 2222.6 1197.6 2218.5 1197.7 2214.5 1197.9 2210.5 1198.0 2206.4 1198.2 2202.4 1198.3 2198.4 1198.5 2194.3 1198.6 2190.3 1198.8 2186.3 1199.0 2182.2 1199.1 2178.2 1199.2 2174.1 1199.3 2170.1 1199.4 2166.1 1199.4 2162.0 1199.5 2158.0 1199.5 2154.0 1199.6 2149.9 1199.7 2145.9 1199.7 2141.9 1199.8 2137.8 1199.8 2133.8 1199.9 2129.7 1199.9 2125.7 1199.9 2121.7 1200.0 2117.6 1200.0 2113.6Z" fill="#f9c198" stroke="#333333" stroke-width="3" stroke-linejoin="round"/>
<path d="M1203.2 2111.9l-3 5.2h6zM1206.6 2330.9l-3 5.2h6zM1198.5 2330.9l-3 5.2h6zM1195.7 2266.1l-3 5.2h6zM1197.8 2316.6l-3 5.2h6zM1202.1 2213.0l-3 5.2h6zM1210.9 2177.8l-3 5.2h6zM1193.9 2269.7l-3 5.2h6zM1207.1 2208.1l-3 5.2h6zM1195.7 2171.3l-3 5.2h6zM1194.2 2326.3l-3 5.2h6zM1201.4 2316.4l-3 5.2h6zM1194.7 2297.9l-3 5.2h6zM1195.2 2112.8l-3 5.2h6zM1193.9 2209.8l-3 5.2h6zM1202.6 2318.2l-3 5.2h6zM1196.7 2254.3l-3 5.2h6zM1209.9 2286.2l-3 5.2h6zM1208.7 2193.1l-3 5.2h6z" fill="#FF7F00"/>
<line x1="1202.7" y1="2216.1" x2="1202.7" y2="2335.6" stroke="#000" stroke-width="1.9"/>
<polygon points="1202.7,2311.0 1194.8,2324.7 1210.6,2324.7" fill="#000"/>
<circle cx="1173.3" cy="2335.0" r="6.2" fill="#000"/>
<path d="M1257.4 2333.5 1259.7 2334.4 1259.9 2335.3 1231.3 2335.3 1231.5 2334.4 1233.8 2333.5Z" fill="#f9c198" stroke="#333333" stroke-width="3" stroke-linejoin="round"/>
<path d="M1279.0 2158.8 1279.2 2162.8 1279.4 2166.8 1279.7 2170.9 1280.0 2174.9 1280.3 2178.9 1280.6 2182.9 1281.0 2186.9 1281.4 2190.9 1281.7 2195.0 1282.1 2199.0 1282.5 2203.0 1282.9 2207.0 1283.3 2211.0 1283.7 2215.1 1284.1 2219.1 1284.5 2223.1 1284.8 2227.1 1285.1 2231.1 1285.4 2235.1 1285.6 2239.2 1285.8 2243.2 1286.0 2247.2 1286.1 2251.2 1286.3 2255.2 1286.4 2259.3 1286.5 2263.3 1286.7 2267.3 1286.8 2271.3 1286.9 2275.3 1287.0 2279.3 1287.1 2283.4 1287.3 2287.4 1287.4 2291.4 1287.5 2295.4 1287.5 2299.4 1287.6 2303.5 1287.7 2307.5 1287.9 2311.5 1288.0 2315.5 1288.1 2319.5 1288.2 2323.5 1288.3 2327.6 1288.3 2331.6 1288.4 2335.6 1261.6 2335.6 1261.7 2331.6 1261.7 2327.6 1261.8 2323.5 1261.9 2319.5 1262.0 2315.5 1262.1 2311.5 1262.3 2307.5 1262.4 2303.5 1262.5 2299.4 1262.5 2295.4 1262.6 2291.4 1262.7 2287.4 1262.9 2283.4 1263.0 2279.3 1263.1 2275.3 1263.2 2271.3 1263.3 2267.3 1263.5 2263.3 1263.6 2259.3 1263.7 2255.2 1263.9 2251.2 1264.0 2247.2 1264.2 2243.2 1264.4 2239.2 1264.6 2235.1 1264.9 2231.1 1265.2 2227.1 1265.5 2223.1 1265.9 2219.1 1266.3 2215.1 1266.7 2211.0 1267.1 2207.0 1267.5 2203.0 1267.9 2199.0 1268.3 2195.0 1268.6 2190.9 1269.0 2186.9 1269.4 2182.9 1269.7 2178.9 1270.0 2174.9 1270.3 2170.9 1270.6 2166.8 1270.8 2162.8 1271.0 2158.8Z" fill="#f9c198" stroke="#333333" stroke-width="3" stroke-linejoin="round"/>
<path d="M1276.7 2157.1l-3 5.2h6zM1271.6 2330.9l-3 5.2h6zM1272.3 2330.9l-3 5.2h6zM1274.3 2330.9l-3 5.2h6zM1283.4 2315.4l-3 5.2h6zM1274.0 2316.6l-3 5.2h6zM1276.0 2270.4l-3 5.2h6zM1278.3 2291.6l-3 5.2h6zM1271.9 2231.6l-3 5.2h6zM1266.9 2264.6l-3 5.2h6zM1278.8 2276.6l-3 5.2h6zM1280.6 2271.5l-3 5.2h6zM1277.9 2279.1l-3 5.2h6zM1266.7 2181.5l-3 5.2h6zM1268.6 2224.5l-3 5.2h6zM1277.4 2231.0l-3 5.2h6zM1280.8 2269.3l-3 5.2h6zM1280.1 2251.4l-3 5.2h6zM1269.2 2235.5l-3 5.2h6zM1274.6 2324.4l-3 5.2h6zM1275.8 2272.1l-3 5.2h6zM1273.2 2302.1l-3 5.2h6zM1268.7 2205.9l-3 5.2h6zM1282.5 2203.0l-3 5.2h6z" fill="#FF7F00"/>
<line x1="1275.0" y1="2229.3" x2="1275.0" y2="2325.1" stroke="#000" stroke-width="1.9"/>
<polygon points="1275.0,2269.6 1267.1,2283.3 1282.9,2283.3" fill="#000"/>
<circle cx="1245.6" cy="2335.0" r="6.2" fill="#000"/>
<path d="M1329.7 2333.5 1332.0 2334.4 1332.2 2335.3 1303.6 2335.3 1303.8 2334.4 1306.1 2333.5Z" fill="#f9c198" stroke="#333333" stroke-width="3" stroke-linejoin="round"/>
<path d="M1348.6 1917.2 1348.6 1921.2 1348.6 1925.2 1348.6 1929.3 1348.5 1933.3 1348.5 1937.3 1348.5 1941.3 1348.5 1945.4 1348.5 1949.4 1348.5 1953.4 1348.4 1957.4 1348.4 1961.5 1348.4 1965.5 1348.4 1969.5 1348.4 1973.5 1348.4 1977.5 1348.4 1981.6 1348.3 1985.6 1348.3 1989.6 1348.3 1993.6 1348.3 1997.7 1348.3 2001.7 1348.3 2005.7 1348.3 2009.7 1348.3 2013.8 1348.3 2017.8 1348.3 2021.8 1348.3 2025.8 1348.3 2029.8 1348.3 2033.9 1348.3 2037.9 1348.3 2041.9 1348.3 2045.9 1348.3 2050.0 1348.3 2054.0 1348.4 2058.0 1348.4 2062.0 1348.4 2066.1 1348.4 2070.1 1348.5 2074.1 1348.6 2078.1 1348.6 2082.1 1348.7 2086.2 1348.9 2090.2 1349.0 2094.2 1349.2 2098.2 1349.3 2102.3 1349.5 2106.3 1349.7 2110.3 1350.0 2114.3 1350.3 2118.4 1350.6 2122.4 1351.0 2126.4 1351.5 2130.4 1351.9 2134.4 1352.4 2138.5 1352.9 2142.5 1353.4 2146.5 1353.8 2150.5 1354.3 2154.6 1354.6 2158.6 1355.0 2162.6 1355.4 2166.6 1355.7 2170.7 1356.0 2174.7 1356.3 2178.7 1356.6 2182.7 1356.9 2186.7 1357.2 2190.8 1357.5 2194.8 1357.7 2198.8 1358.0 2202.8 1358.2 2206.9 1358.4 2210.9 1358.6 2214.9 1358.8 2218.9 1359.0 2223.0 1359.1 2227.0 1359.3 2231.0 1359.4 2235.0 1359.6 2239.0 1359.8 2243.1 1359.9 2247.1 1360.0 2251.1 1360.1 2255.1 1360.2 2259.2 1360.2 2263.2 1360.2 2267.2 1360.2 2271.2 1360.1 2275.3 1359.9 2279.3 1359.8 2283.3 1359.6 2287.3 1359.4 2291.3 1359.1 2295.4 1358.9 2299.4 1358.7 2303.4 1358.4 2307.4 1358.1 2311.5 1357.7 2315.5 1357.3 2319.5 1356.9 2323.5 1356.5 2327.6 1356.2 2331.6 1356.0 2335.6 1338.6 2335.6 1338.4 2331.6 1338.1 2327.6 1337.7 2323.5 1337.3 2319.5 1336.9 2315.5 1336.5 2311.5 1336.2 2307.4 1335.9 2303.4 1335.7 2299.4 1335.5 2295.4 1335.2 2291.3 1335.0 2287.3 1334.8 2283.3 1334.7 2279.3 1334.5 2275.3 1334.4 2271.2 1334.4 2267.2 1334.4 2263.2 1334.4 2259.2 1334.5 2255.1 1334.6 2251.1 1334.7 2247.1 1334.8 2243.1 1335.0 2239.0 1335.2 2235.0 1335.3 2231.0 1335.5 2227.0 1335.6 2223.0 1335.8 2218.9 1336.0 2214.9 1336.2 2210.9 1336.4 2206.9 1336.6 2202.8 1336.9 2198.8 1337.1 2194.8 1337.4 2190.8 1337.7 2186.7 1338.0 2182.7 1338.3 2178.7 1338.6 2174.7 1338.9 2170.7 1339.2 2166.6 1339.6 2162.6 1340.0 2158.6 1340.3 2154.6 1340.8 2150.5 1341.2 2146.5 1341.7 2142.5 1342.2 2138.5 1342.7 2134.4 1343.1 2130.4 1343.6 2126.4 1344.0 2122.4 1344.3 2118.4 1344.6 2114.3 1344.9 2110.3 1345.1 2106.3 1345.3 2102.3 1345.4 2098.2 1345.6 2094.2 1345.7 2090.2 1345.9 2086.2 1346.0 2082.1 1346.0 2078.1 1346.1 2074.1 1346.2 2070.1 1346.2 2066.1 1346.2 2062.0 1346.2 2058.0 1346.3 2054.0 1346.3 2050.0 1346.3 2045.9 1346.3 2041.9 1346.3 2037.9 1346.3 2033.9 1346.3 2029.8 1346.3 2025.8 1346.3 2021.8 1346.3 2017.8 1346.3 2013.8 1346.3 2009.7 1346.3 2005.7 1346.3 2001.7 1346.3 1997.7 1346.3 1993.6 1346.3 1989.6 1346.3 1985.6 1346.2 1981.6 1346.2 1977.5 1346.2 1973.5 1346.2 1969.5 1346.2 1965.5 1346.2 1961.5 1346.2 1957.4 1346.1 1953.4 1346.1 1949.4 1346.1 1945.4 1346.1 1941.3 1346.1 1937.3 1346.1 1933.3 1346.0 1929.3 1346.0 1925.2 1346.0 1921.2 1346.0 1917.2Z" fill="#f9c198" stroke="#333333" stroke-width="3" stroke-linejoin="round"/>
<path d="M1348.6 1915.5l-3 5.2h6zM1349.2 2330.9l-3 5.2h6zM1338.6 2330.9l-3 5.2h6zM1350.1 2330.9l-3 5.2h6zM1352.6 2330.9l-3 5.2h6zM1352.2 2330.9l-3 5.2h6zM1351.4 2308.0l-3 5.2h6zM1339.6 2175.3l-3 5.2h6zM1344.4 2163.5l-3 5.2h6zM1345.8 2069.7l-3 5.2h6zM1352.2 2216.3l-3 5.2h6zM1348.8 2221.7l-3 5.2h6zM1353.6 1950.5l-3 5.2h6zM1350.0 2169.6l-3 5.2h6zM1343.7 2144.4l-3 5.2h6zM1352.8 2004.5l-3 5.2h6zM1348.8 2226.7l-3 5.2h6zM1352.3 1972.7l-3 5.2h6zM1352.7 2264.4l-3 5.2h6zM1338.7 2217.1l-3 5.2h6zM1350.7 2288.8l-3 5.2h6zM1352.8 2142.5l-3 5.2h6zM1346.6 2308.2l-3 5.2h6zM1353.5 2276.8l-3 5.2h6zM1352.9 1922.7l-3 5.2h6zM1347.9 2257.6l-3 5.2h6zM1352.5 2304.9l-3 5.2h6zM1351.6 2078.8l-3 5.2h6zM1344.7 2309.7l-3 5.2h6zM1349.8 2194.7l-3 5.2h6zM1349.9 2310.3l-3 5.2h6zM1345.1 2197.3l-3 5.2h6zM1349.2 2323.0l-3 5.2h6zM1348.0 2322.9l-3 5.2h6zM1344.4 2203.7l-3 5.2h6zM1349.8 2131.7l-3 5.2h6z" fill="#FF7F00"/>
<line x1="1347.3" y1="2186.0" x2="1347.3" y2="2289.4" stroke="#000" stroke-width="1.9"/>
<polygon points="1347.3,2248.0 1339.4,2261.7 1355.2,2261.7" fill="#000"/>
<circle cx="1317.9" cy="2335.0" r="6.2" fill="#000"/>
<path d="M1402.0 2333.5 1404.3 2334.4 1404.5 2335.3 1375.9 2335.3 1376.1 2334.4 1378.4 2333.5Z" fill="#f9c198" stroke="#333333" stroke-width="3" stroke-linejoin="round"/>
<path d="M1423.9 2192.6 1423.8 2196.7 1423.7 2200.8 1423.6 2204.9 1423.5 2208.9 1423.4 2213.0 1423.4 2217.1 1423.5 2221.2 1423.6 2225.3 1423.7 2229.4 1423.9 2233.5 1424.1 2237.5 1424.4 2241.6 1424.8 2245.7 1425.3 2249.8 1425.8 2253.9 1426.4 2258.0 1427.0 2262.1 1427.6 2266.1 1428.2 2270.2 1428.8 2274.3 1429.4 2278.4 1430.0 2282.5 1430.5 2286.6 1430.9 2290.7 1431.3 2294.7 1431.8 2298.8 1432.1 2302.9 1432.4 2307.0 1432.6 2311.1 1432.8 2315.2 1433.0 2319.3 1433.1 2323.3 1433.2 2327.4 1433.3 2331.5 1433.4 2335.6 1405.8 2335.6 1405.9 2331.5 1406.0 2327.4 1406.1 2323.3 1406.2 2319.3 1406.4 2315.2 1406.6 2311.1 1406.8 2307.0 1407.1 2302.9 1407.4 2298.8 1407.9 2294.7 1408.3 2290.7 1408.7 2286.6 1409.2 2282.5 1409.8 2278.4 1410.4 2274.3 1411.0 2270.2 1411.6 2266.1 1412.2 2262.1 1412.8 2258.0 1413.4 2253.9 1413.9 2249.8 1414.4 2245.7 1414.8 2241.6 1415.1 2237.5 1415.3 2233.5 1415.5 2229.4 1415.6 2225.3 1415.7 2221.2 1415.8 2217.1 1415.8 2213.0 1415.7 2208.9 1415.6 2204.9 1415.5 2200.8 1415.4 2196.7 1415.3 2192.6Z" fill="#f9c198" stroke="#333333" stroke-width="3" stroke-linejoin="round"/>
<path d="M1417.5 2190.9l-3 5.2h6zM1414.1 2330.9l-3 5.2h6zM1422.7 2330.9l-3 5.2h6zM1412.3 2206.7l-3 5.2h6z" fill="#FF7F00"/>
<line x1="1419.6" y1="2280.0" x2="1419.6" y2="2335.6" stroke="#000" stroke-width="1.9"/>
<polygon points="1419.6,2323.1 1411.7,2336.8 1427.5,2336.8" fill="#000"/>
<circle cx="1390.2" cy="2335.0" r="6.2" fill="#000"/>
<path d="M1474.3 2333.5 1476.6 2334.4 1476.8 2335.3 1448.2 2335.3 1448.4 2334.4 1450.7 2333.5Z" fill="#f9c198" stroke="#333333" stroke-width="3" stroke-linejoin="round"/>
<path d="M1493.2 2089.2 1493.4 2093.2 1493.7 2097.3 1494.0 2101.3 1494.3 2105.4 1494.7 2109.4 1495.2 2113.4 1495.8 2117.5 1496.3 2121.5 1496.9 2125.6 1497.6 2129.6 1498.3 2133.6 1499.0 2137.7 1499.8 2141.7 1500.5 2145.8 1501.1 2149.8 1501.7 2153.8 1502.2 2157.9 1502.7 2161.9 1503.1 2165.9 1503.5 2170.0 1503.8 2174.0 1504.1 2178.1 1504.4 2182.1 1504.6 2186.1 1504.7 2190.2 1504.8 2194.2 1504.8 2198.3 1504.7 2202.3 1504.5 2206.3 1504.2 2210.4 1504.0 2214.4 1503.7 2218.5 1503.4 2222.5 1503.1 2226.5 1502.9 2230.6 1502.6 2234.6 1502.2 2238.7 1501.8 2242.7 1501.6 2246.7 1501.5 2250.8 1501.6 2254.8 1501.7 2258.9 1501.9 2262.9 1502.2 2266.9 1502.5 2271.0 1502.7 2275.0 1503.0 2279.0 1503.2 2283.1 1503.4 2287.1 1503.7 2291.2 1503.9 2295.2 1504.2 2299.2 1504.4 2303.3 1504.5 2307.3 1504.7 2311.4 1504.8 2315.4 1505.0 2319.4 1505.1 2323.5 1505.2 2327.5 1505.2 2331.6 1505.3 2335.6 1478.5 2335.6 1478.6 2331.6 1478.6 2327.5 1478.7 2323.5 1478.8 2319.4 1479.0 2315.4 1479.1 2311.4 1479.3 2307.3 1479.4 2303.3 1479.6 2299.2 1479.9 2295.2 1480.1 2291.2 1480.4 2287.1 1480.6 2283.1 1480.8 2279.0 1481.1 2275.0 1481.3 2271.0 1481.6 2266.9 1481.9 2262.9 1482.1 2258.9 1482.2 2254.8 1482.3 2250.8 1482.2 2246.7 1482.0 2242.7 1481.6 2238.7 1481.2 2234.6 1480.9 2230.6 1480.7 2226.5 1480.4 2222.5 1480.1 2218.5 1479.8 2214.4 1479.6 2210.4 1479.3 2206.3 1479.1 2202.3 1479.0 2198.3 1479.0 2194.2 1479.1 2190.2 1479.2 2186.1 1479.4 2182.1 1479.7 2178.1 1480.0 2174.0 1480.3 2170.0 1480.7 2165.9 1481.1 2161.9 1481.6 2157.9 1482.1 2153.8 1482.7 2149.8 1483.3 2145.8 1484.0 2141.7 1484.8 2137.7 1485.5 2133.6 1486.2 2129.6 1486.9 2125.6 1487.5 2121.5 1488.0 2117.5 1488.6 2113.4 1489.1 2109.4 1489.5 2105.4 1489.8 2101.3 1490.1 2097.3 1490.4 2093.2 1490.6 2089.2Z" fill="#f9c198" stroke="#333333" stroke-width="3" stroke-linejoin="round"/>
<path d="M1493.9 2087.5l-3 5.2h6zM1494.9 2330.9l-3 5.2h6zM1490.2 2330.9l-3 5.2h6zM1485.0 2330.9l-3 5.2h6zM1487.5 2330.9l-3 5.2h6zM1490.9 2299.0l-3 5.2h6zM1499.3 2197.9l-3 5.2h6zM1484.4 2239.3l-3 5.2h6zM1491.6 2182.3l-3 5.2h6zM1488.6 2277.0l-3 5.2h6zM1500.1 2136.0l-3 5.2h6zM1488.4 2167.0l-3 5.2h6zM1484.5 2217.9l-3 5.2h6zM1496.2 2334.0l-3 5.2h6zM1491.2 2307.4l-3 5.2h6zM1489.8 2230.5l-3 5.2h6zM1483.8 2137.2l-3 5.2h6zM1492.7 2285.4l-3 5.2h6zM1492.1 2201.5l-3 5.2h6zM1497.9 2188.8l-3 5.2h6zM1499.6 2318.4l-3 5.2h6zM1483.7 2118.1l-3 5.2h6zM1490.2 2166.0l-3 5.2h6zM1495.3 2243.2l-3 5.2h6zM1483.6 2153.5l-3 5.2h6zM1495.5 2287.8l-3 5.2h6zM1484.1 2137.8l-3 5.2h6zM1496.1 2211.5l-3 5.2h6zM1495.2 2184.7l-3 5.2h6zM1490.9 2255.8l-3 5.2h6zM1497.9 2158.8l-3 5.2h6zM1499.1 2277.0l-3 5.2h6zM1494.2 2282.2l-3 5.2h6z" fill="#FF7F00"/>
<line x1="1491.9" y1="2197.3" x2="1491.9" y2="2335.6" stroke="#000" stroke-width="1.9"/>
<polygon points="1491.9,2234.9 1484.0,2248.6 1499.8,2248.6" fill="#000"/>
<circle cx="1462.5" cy="2335.0" r="6.2" fill="#000"/>
<path d="M1546.6 2333.5 1548.9 2334.4 1549.1 2335.3 1520.5 2335.3 1520.7 2334.4 1523.0 2333.5Z" fill="#f9c198" stroke="#333333" stroke-width="3" stroke-linejoin="round"/>
<path d="M1565.5 1970.8 1565.5 1974.8 1565.5 1978.8 1565.5 1982.8 1565.5 1986.8 1565.6 1990.8 1565.6 1994.9 1565.6 1998.9 1565.6 2002.9 1565.7 2006.9 1565.7 2010.9 1565.7 2014.9 1565.8 2018.9 1565.9 2022.9 1566.0 2026.9 1566.0 2030.9 1566.1 2034.9 1566.2 2038.9 1566.4 2043.0 1566.5 2047.0 1566.6 2051.0 1566.7 2055.0 1566.9 2059.0 1567.0 2063.0 1567.2 2067.0 1567.3 2071.0 1567.5 2075.0 1567.6 2079.0 1567.8 2083.0 1568.1 2087.1 1568.4 2091.1 1568.6 2095.1 1568.9 2099.1 1569.2 2103.1 1569.6 2107.1 1569.9 2111.1 1570.2 2115.1 1570.6 2119.1 1570.9 2123.1 1571.3 2127.1 1571.8 2131.2 1572.2 2135.2 1572.7 2139.2 1573.1 2143.2 1573.5 2147.2 1573.9 2151.2 1574.2 2155.2 1574.6 2159.2 1574.8 2163.2 1575.1 2167.2 1575.4 2171.2 1575.6 2175.2 1575.8 2179.3 1576.1 2183.3 1576.2 2187.3 1576.4 2191.3 1576.6 2195.3 1576.7 2199.3 1576.8 2203.3 1576.9 2207.3 1576.9 2211.3 1577.0 2215.3 1577.0 2219.3 1577.0 2223.4 1577.1 2227.4 1577.1 2231.4 1577.1 2235.4 1577.1 2239.4 1577.1 2243.4 1577.1 2247.4 1577.2 2251.4 1577.2 2255.4 1577.2 2259.4 1577.2 2263.4 1577.2 2267.5 1577.2 2271.5 1577.2 2275.5 1577.2 2279.5 1577.2 2283.5 1577.1 2287.5 1577.1 2291.5 1577.1 2295.5 1577.1 2299.5 1577.1 2303.5 1577.1 2307.5 1577.0 2311.5 1577.0 2315.6 1576.9 2319.6 1576.8 2323.6 1576.7 2327.6 1576.6 2331.6 1576.6 2335.6 1551.8 2335.6 1551.8 2331.6 1551.7 2327.6 1551.6 2323.6 1551.5 2319.6 1551.4 2315.6 1551.4 2311.5 1551.3 2307.5 1551.3 2303.5 1551.3 2299.5 1551.3 2295.5 1551.3 2291.5 1551.3 2287.5 1551.2 2283.5 1551.2 2279.5 1551.2 2275.5 1551.2 2271.5 1551.2 2267.5 1551.2 2263.4 1551.2 2259.4 1551.2 2255.4 1551.2 2251.4 1551.3 2247.4 1551.3 2243.4 1551.3 2239.4 1551.3 2235.4 1551.3 2231.4 1551.3 2227.4 1551.4 2223.4 1551.4 2219.3 1551.4 2215.3 1551.5 2211.3 1551.5 2207.3 1551.6 2203.3 1551.7 2199.3 1551.8 2195.3 1552.0 2191.3 1552.2 2187.3 1552.3 2183.3 1552.6 2179.3 1552.8 2175.2 1553.0 2171.2 1553.3 2167.2 1553.6 2163.2 1553.8 2159.2 1554.2 2155.2 1554.5 2151.2 1554.9 2147.2 1555.3 2143.2 1555.7 2139.2 1556.2 2135.2 1556.6 2131.2 1557.1 2127.1 1557.5 2123.1 1557.8 2119.1 1558.2 2115.1 1558.5 2111.1 1558.8 2107.1 1559.2 2103.1 1559.5 2099.1 1559.8 2095.1 1560.0 2091.1 1560.3 2087.1 1560.6 2083.0 1560.8 2079.0 1560.9 2075.0 1561.1 2071.0 1561.2 2067.0 1561.4 2063.0 1561.5 2059.0 1561.7 2055.0 1561.8 2051.0 1561.9 2047.0 1562.0 2043.0 1562.2 2038.9 1562.3 2034.9 1562.4 2030.9 1562.4 2026.9 1562.5 2022.9 1562.6 2018.9 1562.7 2014.9 1562.7 2010.9 1562.7 2006.9 1562.8 2002.9 1562.8 1998.9 1562.8 1994.9 1562.8 1990.8 1562.9 1986.8 1562.9 1982.8 1562.9 1978.8 1562.9 1974.8 1562.9 1970.8Z" fill="#f9c198" stroke="#333333" stroke-width="3" stroke-linejoin="round"/>
<path d="M1565.5 1969.1l-3 5.2h6zM1558.9 2330.9l-3 5.2h6zM1571.2 2330.9l-3 5.2h6zM1567.0 2330.9l-3 5.2h6zM1568.9 2330.9l-3 5.2h6zM1565.5 2330.9l-3 5.2h6zM1564.8 2318.6l-3 5.2h6zM1563.4 2263.1l-3 5.2h6zM1567.3 2007.6l-3 5.2h6zM1560.4 2327.4l-3 5.2h6zM1563.3 2087.3l-3 5.2h6zM1559.6 2038.9l-3 5.2h6zM1566.4 2326.8l-3 5.2h6zM1565.9 2313.5l-3 5.2h6zM1572.3 2216.0l-3 5.2h6zM1565.1 2192.4l-3 5.2h6zM1564.0 2117.3l-3 5.2h6zM1568.5 2183.3l-3 5.2h6zM1570.9 2059.3l-3 5.2h6zM1555.8 2095.1l-3 5.2h6zM1559.5 2031.6l-3 5.2h6zM1563.7 2195.7l-3 5.2h6zM1564.9 2284.5l-3 5.2h6zM1564.9 2129.1l-3 5.2h6zM1567.5 2326.3l-3 5.2h6zM1568.3 2287.7l-3 5.2h6zM1564.7 2252.7l-3 5.2h6zM1559.2 2232.7l-3 5.2h6zM1563.5 2191.5l-3 5.2h6zM1568.3 2004.0l-3 5.2h6zM1565.2 2250.0l-3 5.2h6zM1567.6 2245.8l-3 5.2h6zM1562.9 2195.0l-3 5.2h6zM1558.3 2233.2l-3 5.2h6zM1571.7 2154.9l-3 5.2h6zM1562.7 2237.2l-3 5.2h6zM1573.2 2183.1l-3 5.2h6zM1562.8 2295.7l-3 5.2h6z" fill="#FF7F00"/>
<line x1="1564.2" y1="2171.0" x2="1564.2" y2="2325.1" stroke="#000" stroke-width="1.9"/>
<polygon points="1564.2,2226.4 1556.3,2240.1 1572.1,2240.1" fill="#000"/>
<circle cx="1534.8" cy="2335.0" r="6.2" fill="#000"/>
<line x1="1014.2" y1="1925.5" x2="1593.8" y2="1925.5" stroke="#000" stroke-width="3.4" stroke-dasharray="3.4,10.6" stroke-dashoffset="0.0"/>
<line x1="1014.2" y1="2325.6" x2="1593.8" y2="2325.6" stroke="#000" stroke-width="3.4" stroke-dasharray="3.4,10.6" stroke-dashoffset="0.0"/>
<line x1="1000.7" y1="1797.0" x2="1000.7" y2="2378.1" stroke="#000" stroke-width="3.3"/>
<line x1="999.1" y1="2376.5" x2="1593.8" y2="2376.5" stroke="#000" stroke-width="3.3"/>
<line x1="991.7" y1="1925.5" x2="1000.7" y2="1925.5" stroke="#333" stroke-width="2.4"/>
<line x1="991.7" y1="2018.5" x2="1000.7" y2="2018.5" stroke="#333" stroke-width="2.4"/>
<line x1="991.7" y1="2148.6" x2="1000.7" y2="2148.6" stroke="#333" stroke-width="2.4"/>
<line x1="991.7" y1="2279.0" x2="1000.7" y2="2279.0" stroke="#333" stroke-width="2.4"/>
<line x1="991.7" y1="2325.6" x2="1000.7" y2="2325.6" stroke="#333" stroke-width="2.4"/>
<line x1="1043.4" y1="2376.5" x2="1043.4" y2="2385.5" stroke="#333" stroke-width="2.4"/>
<line x1="1115.7" y1="2376.5" x2="1115.7" y2="2385.5" stroke="#333" stroke-width="2.4"/>
<line x1="1188.0" y1="2376.5" x2="1188.0" y2="2385.5" stroke="#333" stroke-width="2.4"/>
<line x1="1260.3" y1="2376.5" x2="1260.3" y2="2385.5" stroke="#333" stroke-width="2.4"/>
<line x1="1332.6" y1="2376.5" x2="1332.6" y2="2385.5" stroke="#333" stroke-width="2.4"/>
<line x1="1404.9" y1="2376.5" x2="1404.9" y2="2385.5" stroke="#333" stroke-width="2.4"/>
<line x1="1477.2" y1="2376.5" x2="1477.2" y2="2385.5" stroke="#333" stroke-width="2.4"/>
<line x1="1549.5" y1="2376.5" x2="1549.5" y2="2385.5" stroke="#333" stroke-width="2.4"/>
<text transform="translate(1057.0,2409.5) rotate(-45)" font-size="32.4" fill="#4d4d4d" text-anchor="end">Genitourinary</text>
<text transform="translate(1129.3,2409.5) rotate(-45)" font-size="32.4" fill="#4d4d4d" text-anchor="end">Gastrointestinal</text>
<text transform="translate(1201.6,2409.5) rotate(-45)" font-size="32.4" fill="#4d4d4d" text-anchor="end">Thoracic</text>
<text transform="translate(1273.9,2409.5) rotate(-45)" font-size="32.4" fill="#4d4d4d" text-anchor="end">Gynaecological</text>
<text transform="translate(1346.2,2409.5) rotate(-45)" font-size="32.4" fill="#4d4d4d" text-anchor="end">Solid_other</text>
<text transform="translate(1418.5,2409.5) rotate(-45)" font-size="32.4" fill="#4d4d4d" text-anchor="end">Head and Neck</text>
<text transform="translate(1490.8,2409.5) rotate(-45)" font-size="32.4" fill="#4d4d4d" text-anchor="end">Breast</text>
<text transform="translate(1563.1,2409.5) rotate(-45)" font-size="32.4" fill="#4d4d4d" text-anchor="end">Skin</text>
<text transform="translate(1144.6,1833.4) scale(1.000,1.060)" font-size="29.8" fill="#000" text-anchor="start" font-weight="normal" >Kruskal-Wallis p=0.059</text>
<text transform="translate(1321.7,1752.7) scale(0.985,1.055)" font-size="47.0" fill="#1a1a1a" text-anchor="middle" font-weight="bold" >Delta</text>
<defs><clipPath id="skinclip" clipPathUnits="userSpaceOnUse"><rect x="0" y="0" width="875.5" height="2696"/></clipPath></defs>
<text transform="translate(26.0,24.6) scale(1.000,1.080)" font-size="42.0" fill="#1a1a1a" text-anchor="middle" font-weight="bold" >a</text>
<text transform="translate(29.6,1004.8) scale(1.020,0.970)" font-size="46.0" fill="#1a1a1a" text-anchor="middle" font-weight="bold" >b</text>
<text transform="translate(26.7,379.6) rotate(-90)" font-size="36" fill="#000" text-anchor="middle">Neutralising titres</text>
<text transform="translate(199.6,1353.2) rotate(-90)" font-size="36" fill="#000" text-anchor="middle">Neutralising titres</text>
<text transform="translate(199.6,2086) rotate(-90)" font-size="36" fill="#000" text-anchor="middle">Neutralising titres</text>
<line x1="192.6" y1="200.5" x2="473.4" y2="200.5" stroke="#222" stroke-width="1.4"/>
<text x="332.8" y="204.8" font-size="37.0" fill="#000" text-anchor="middle" font-weight="normal" >***</text>
<line x1="368.3" y1="1900.3" x2="874.4" y2="1900.3" stroke="#222" stroke-width="1.4"/>
<text transform="translate(621.3,1887.9) scale(1.000,1.100)" font-size="27.8" fill="#000" text-anchor="middle" font-weight="normal" >0.026</text>
<rect x="111.0" y="2657.5" width="34" height="34" fill="#d3e3f0" stroke="#333" stroke-width="2.2"/>
<line x1="128.0" y1="2658.5" x2="128.0" y2="2690.5" stroke="#111" stroke-width="1.8"/>
<circle cx="128.0" cy="2674.0" r="5.6" fill="#000"/>
<rect x="299.5" y="2657.5" width="34" height="34" fill="#9bbfdd" stroke="#333" stroke-width="2.2"/>
<line x1="316.5" y1="2658.5" x2="316.5" y2="2690.5" stroke="#111" stroke-width="1.8"/>
<polygon points="316.5,2659.5 304.0,2680.5 329.0,2680.5" fill="#222"/>
<text x="158.0" y="2681.5" font-size="21.5" fill="#000" text-anchor="start" font-weight="normal" >Pre-first dose</text>
<text x="347.0" y="2681.5" font-size="21.5" fill="#000" text-anchor="start" font-weight="normal" >Post-second dose</text>
<rect x="547.7" y="2660.3" width="34" height="34" fill="#d9ecd2" stroke="#333" stroke-width="2.2"/>
<line x1="564.7" y1="2661.3" x2="564.7" y2="2693.3" stroke="#111" stroke-width="1.8"/>
<circle cx="564.7" cy="2676.8" r="5.6" fill="#000"/>
<rect x="734.7" y="2660.3" width="34" height="34" fill="#a5d3a0" stroke="#333" stroke-width="2.2"/>
<line x1="751.7" y1="2661.3" x2="751.7" y2="2693.3" stroke="#111" stroke-width="1.8"/>
<polygon points="751.7,2662.3 739.2,2683.3 764.2,2683.3" fill="#222"/>
<text x="595.0" y="2684.3" font-size="21.5" fill="#000" text-anchor="start" font-weight="normal" >Pre-first dose</text>
<text x="781.4" y="2684.3" font-size="21.5" fill="#000" text-anchor="start" font-weight="normal" >Post-second dose</text>
<rect x="977.0" y="2660.9" width="34" height="34" fill="#f8cdd0" stroke="#333" stroke-width="2.2"/>
<line x1="994.0" y1="2661.9" x2="994.0" y2="2693.9" stroke="#111" stroke-width="1.8"/>
<circle cx="994.0" cy="2677.4" r="5.6" fill="#000"/>
<rect x="1165.0" y="2660.9" width="34" height="34" fill="#f09a9e" stroke="#333" stroke-width="2.2"/>
<line x1="1182.0" y1="2661.9" x2="1182.0" y2="2693.9" stroke="#111" stroke-width="1.8"/>
<polygon points="1182.0,2662.9 1169.5,2683.9 1194.5,2683.9" fill="#222"/>
<text x="1024.2" y="2684.9" font-size="21.5" fill="#000" text-anchor="start" font-weight="normal" >Pre-first dose</text>
<text x="1212.3" y="2684.9" font-size="21.5" fill="#000" text-anchor="start" font-weight="normal" >Post-second dose</text>
<rect x="1408.3" y="2660.3" width="34" height="34" fill="#fde3cb" stroke="#333" stroke-width="2.2"/>
<line x1="1425.3" y1="2661.3" x2="1425.3" y2="2693.3" stroke="#111" stroke-width="1.8"/>
<circle cx="1425.3" cy="2676.8" r="5.6" fill="#000"/>
<rect x="1596.9" y="2660.3" width="34" height="34" fill="#fbc494" stroke="#333" stroke-width="2.2"/>
<line x1="1613.9" y1="2661.3" x2="1613.9" y2="2693.3" stroke="#111" stroke-width="1.8"/>
<polygon points="1613.9,2662.3 1601.4,2683.3 1626.4,2683.3" fill="#222"/>
<text x="1455.7" y="2684.3" font-size="21.5" fill="#000" text-anchor="start" font-weight="normal" >Pre-first dose</text>
<text x="1644.0" y="2684.3" font-size="21.5" fill="#000" text-anchor="start" font-weight="normal" >Post-second dose</text>
<line x1="352.9" y1="1570" x2="352.9" y2="1602" stroke="#000" stroke-width="1.9"/>
<circle cx="359.7" cy="1570.5" r="3" fill="#1F78B4"/><circle cx="359.7" cy="1592" r="3" fill="#1F78B4"/>
<line x1="354.1" y1="2318.5" x2="354.1" y2="2334" stroke="#000" stroke-width="1.9"/>
<circle cx="359.5" cy="2318.8" r="3" fill="#E31A1C"/>
</svg>
</body></html>
